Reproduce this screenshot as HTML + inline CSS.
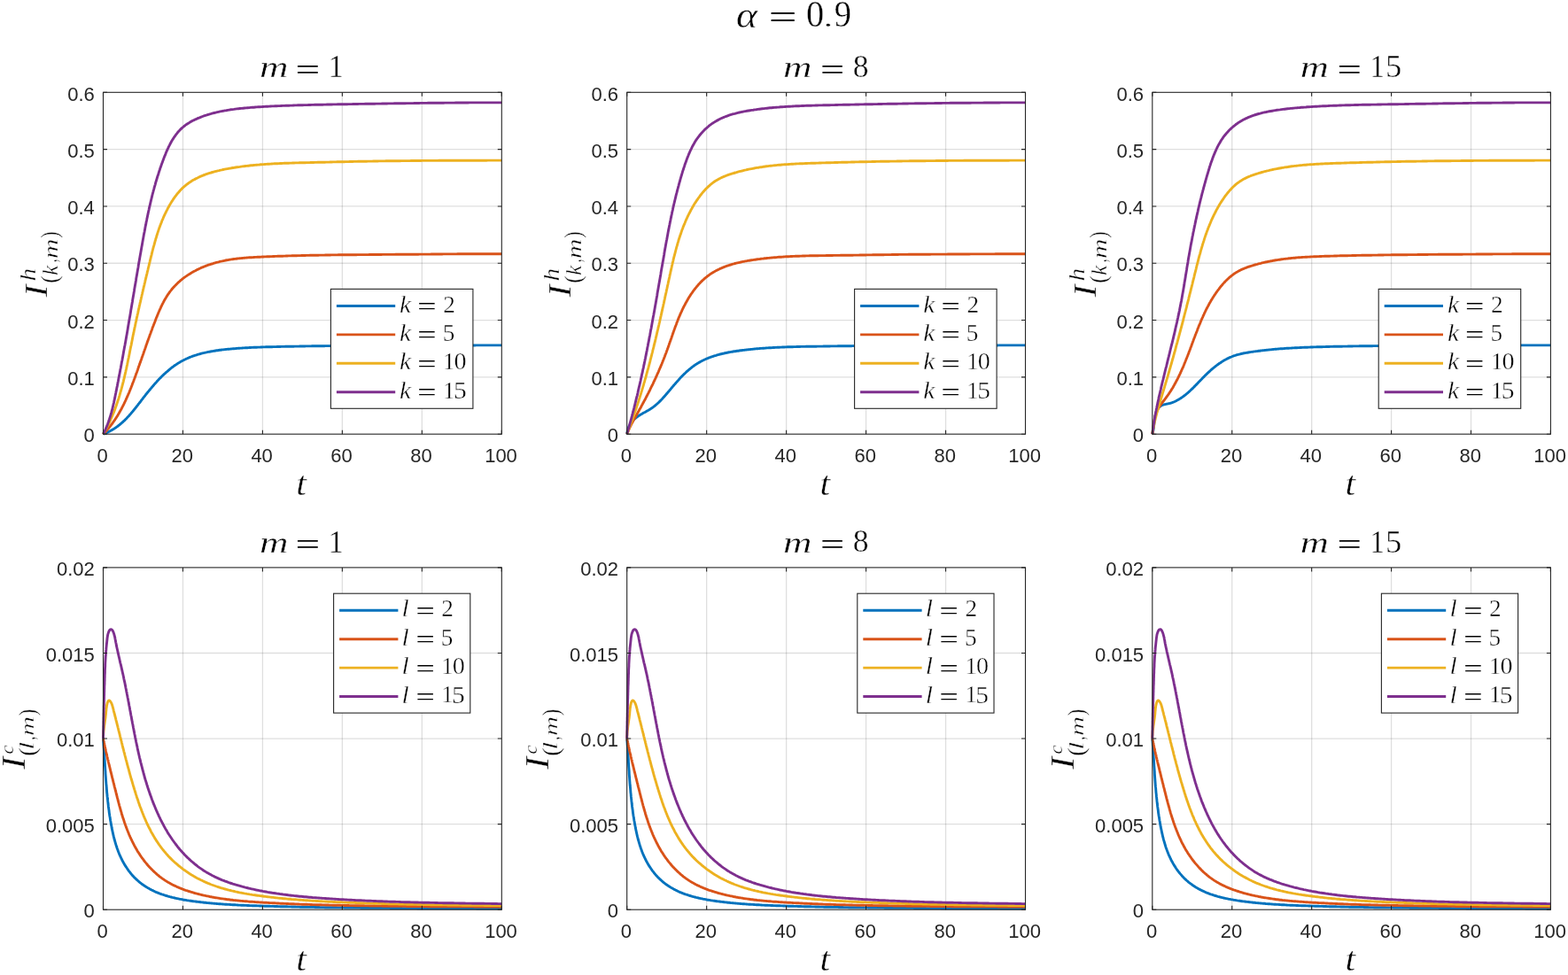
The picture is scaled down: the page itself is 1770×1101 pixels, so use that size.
<!DOCTYPE html>
<html><head><meta charset="utf-8"><title>alpha = 0.9</title><style>html,body{margin:0;padding:0;background:#fff;overflow:hidden}svg{display:block}</style></head><body>
<svg width="1770" height="1101" viewBox="0 0 1770 1101">
<rect width="1770" height="1101" fill="#fff"/>
<path d="M206.46 104.30V490.20M296.42 104.30V490.20M386.38 104.30V490.20M476.34 104.30V490.20" stroke="#262626" stroke-opacity="0.15" stroke-width="1.3" fill="none"/>
<path d="M116.50 425.88H566.30M116.50 361.57H566.30M116.50 297.25H566.30M116.50 232.93H566.30M116.50 168.62H566.30" stroke="#262626" stroke-opacity="0.15" stroke-width="1.3" fill="none"/>
<path d="M116.5 490.2 L116.9 490.0 L117.3 489.9 L117.7 489.7 L118.1 489.6 L118.5 489.4 L118.9 489.3 L119.3 489.1 L119.7 488.9 L120.1 488.8 L120.5 488.6 L120.9 488.4 L121.3 488.2 L121.7 488.1 L122.1 487.9 L122.4 487.7 L122.8 487.5 L123.2 487.3 L123.6 487.1 L123.9 486.9 L124.3 486.7 L124.7 486.5 L125.0 486.3 L125.4 486.1 L125.8 485.9 L126.1 485.7 L126.5 485.5 L126.8 485.3 L127.2 485.1 L127.6 484.9 L127.9 484.7 L128.3 484.5 L128.6 484.2 L128.9 484.0 L129.3 483.8 L129.6 483.6 L130.0 483.3 L130.3 483.1 L130.6 482.9 L131.0 482.7 L131.3 482.4 L131.6 482.2 L132.0 481.9 L132.3 481.7 L132.6 481.5 L133.0 481.2 L133.3 481.0 L133.6 480.7 L133.9 480.5 L134.2 480.2 L134.6 480.0 L134.9 479.7 L135.2 479.5 L135.5 479.2 L135.8 479.0 L136.1 478.7 L136.4 478.4 L136.7 478.2 L137.0 477.9 L137.3 477.7 L138.2 476.9 L139.0 476.1 L139.8 475.4 L140.7 474.6 L141.5 473.8 L142.3 473.0 L143.1 472.2 L143.8 471.3 L144.6 470.5 L145.4 469.7 L146.2 468.8 L146.9 468.0 L147.7 467.1 L148.4 466.2 L149.1 465.4 L149.9 464.5 L150.6 463.6 L151.3 462.7 L152.1 461.8 L152.8 460.9 L153.5 460.0 L154.2 459.1 L154.9 458.2 L155.6 457.3 L156.3 456.3 L157.1 455.4 L157.8 454.5 L158.5 453.6 L159.2 452.6 L159.9 451.7 L160.6 450.8 L161.3 449.9 L162.0 448.9 L162.8 448.0 L163.5 447.1 L164.2 446.2 L164.9 445.2 L165.7 444.3 L166.4 443.4 L167.1 442.5 L167.9 441.6 L168.6 440.7 L169.4 439.8 L170.1 438.9 L170.9 438.0 L171.6 437.1 L172.4 436.2 L173.2 435.3 L173.9 434.4 L174.7 433.5 L175.5 432.6 L176.3 431.8 L177.1 430.9 L177.8 430.0 L178.6 429.2 L179.4 428.4 L180.2 427.5 L181.1 426.7 L181.9 425.9 L182.7 425.0 L183.5 424.2 L184.4 423.4 L185.2 422.6 L186.0 421.9 L186.9 421.1 L187.7 420.3 L188.6 419.6 L189.5 418.8 L190.3 418.1 L191.2 417.3 L192.1 416.6 L193.0 415.9 L193.9 415.2 L194.8 414.5 L195.7 413.9 L196.6 413.2 L197.5 412.5 L198.5 411.9 L199.4 411.3 L200.4 410.6 L201.3 410.0 L202.3 409.5 L203.2 408.9 L204.2 408.3 L205.2 407.8 L206.2 407.2 L207.2 406.7 L208.2 406.2 L209.2 405.7 L210.2 405.2 L211.2 404.8 L212.3 404.3 L213.3 403.9 L214.4 403.4 L215.4 403.0 L216.5 402.6 L217.5 402.2 L218.6 401.8 L219.7 401.5 L220.8 401.1 L221.9 400.8 L222.9 400.4 L224.0 400.1 L225.1 399.8 L226.3 399.5 L227.4 399.2 L228.5 398.9 L229.6 398.6 L230.7 398.4 L231.9 398.1 L233.0 397.9 L234.1 397.6 L235.3 397.4 L236.4 397.2 L237.6 397.0 L238.7 396.8 L239.8 396.6 L241.0 396.4 L242.2 396.2 L243.3 396.0 L244.5 395.8 L245.6 395.7 L246.8 395.5 L248.0 395.3 L249.1 395.2 L250.3 395.0 L251.5 394.9 L252.6 394.8 L253.8 394.6 L255.0 394.5 L256.1 394.4 L257.3 394.3 L258.5 394.2 L259.6 394.1 L260.8 394.0 L262.0 393.9 L263.1 393.8 L264.3 393.7 L265.5 393.6 L266.6 393.5 L267.8 393.4 L269.0 393.3 L270.1 393.2 L271.3 393.1 L272.5 393.1 L273.6 393.0 L274.8 392.9 L275.9 392.9 L277.1 392.8 L278.3 392.7 L279.4 392.7 L280.6 392.6 L281.7 392.5 L282.9 392.5 L284.1 392.4 L285.2 392.4 L286.4 392.3 L287.5 392.3 L288.7 392.2 L289.8 392.2 L291.0 392.1 L292.2 392.1 L293.3 392.1 L294.5 392.0 L295.6 392.0 L296.8 391.9 L297.9 391.9 L299.1 391.9 L300.2 391.8 L301.4 391.8 L302.6 391.8 L303.7 391.7 L304.9 391.7 L306.0 391.7 L307.2 391.7 L308.3 391.6 L309.5 391.6 L310.6 391.6 L311.8 391.6 L312.9 391.5 L314.1 391.5 L315.3 391.5 L316.4 391.5 L317.6 391.4 L318.7 391.4 L319.9 391.4 L321.0 391.4 L322.2 391.3 L323.3 391.3 L324.5 391.3 L325.7 391.3 L326.8 391.2 L328.0 391.2 L329.1 391.2 L330.3 391.2 L331.4 391.2 L332.6 391.1 L333.7 391.1 L334.9 391.1 L336.1 391.1 L337.2 391.1 L338.4 391.0 L339.5 391.0 L340.7 391.0 L341.8 391.0 L343.0 391.0 L344.1 391.0 L345.3 390.9 L346.5 390.9 L347.6 390.9 L348.8 390.9 L349.9 390.9 L351.1 390.9 L352.2 390.8 L353.4 390.8 L354.5 390.8 L355.7 390.8 L356.9 390.8 L358.0 390.8 L359.2 390.7 L360.3 390.7 L361.5 390.7 L362.6 390.7 L363.8 390.7 L365.0 390.7 L366.1 390.7 L367.3 390.6 L368.4 390.6 L369.6 390.6 L370.7 390.6 L371.9 390.6 L373.0 390.6 L374.2 390.6 L375.4 390.6 L376.5 390.5 L377.7 390.5 L378.8 390.5 L380.0 390.5 L381.1 390.5 L382.3 390.5 L383.5 390.5 L384.6 390.5 L385.8 390.5 L386.9 390.4 L388.1 390.4 L389.2 390.4 L390.4 390.4 L391.6 390.4 L392.7 390.4 L393.9 390.4 L395.0 390.4 L396.2 390.4 L397.3 390.4 L398.5 390.4 L399.7 390.3 L400.8 390.3 L402.0 390.3 L403.1 390.3 L404.3 390.3 L405.4 390.3 L406.6 390.3 L407.8 390.3 L408.9 390.3 L410.1 390.3 L411.2 390.3 L412.4 390.3 L413.5 390.3 L414.7 390.3 L415.9 390.2 L417.0 390.2 L418.2 390.2 L419.3 390.2 L420.5 390.2 L421.6 390.2 L422.8 390.2 L424.0 390.2 L425.1 390.2 L426.3 390.2 L427.4 390.2 L428.6 390.2 L429.7 390.2 L430.9 390.2 L432.1 390.2 L433.2 390.2 L434.4 390.2 L435.5 390.2 L436.7 390.2 L437.9 390.1 L439.0 390.1 L440.2 390.1 L441.3 390.1 L442.5 390.1 L443.6 390.1 L444.8 390.1 L446.0 390.1 L447.1 390.1 L448.3 390.1 L449.4 390.1 L450.6 390.1 L451.7 390.1 L452.9 390.1 L454.1 390.1 L455.2 390.1 L456.4 390.1 L457.5 390.1 L458.7 390.1 L459.8 390.1 L461.0 390.1 L462.2 390.1 L463.3 390.1 L464.5 390.1 L465.6 390.1 L466.8 390.1 L468.0 390.1 L469.1 390.1 L470.3 390.1 L471.4 390.1 L472.6 390.1 L473.7 390.1 L474.9 390.1 L476.1 390.1 L477.2 390.0 L478.4 390.0 L479.5 390.0 L480.7 390.0 L481.8 390.0 L483.0 390.0 L484.2 390.0 L485.3 390.0 L486.5 390.0 L487.6 390.0 L488.8 390.0 L489.9 390.0 L491.1 390.0 L492.3 390.0 L493.4 390.0 L494.6 390.0 L495.7 390.0 L496.9 390.0 L498.0 390.0 L499.2 390.0 L500.4 390.0 L501.5 390.0 L502.7 390.0 L503.8 390.0 L505.0 390.0 L506.1 390.0 L507.3 390.0 L508.5 390.0 L509.6 390.0 L510.8 390.0 L511.9 390.0 L513.1 390.0 L514.2 390.0 L515.4 390.0 L516.6 390.0 L517.7 390.0 L518.9 390.0 L520.0 390.0 L521.2 390.0 L522.3 390.0 L523.5 390.0 L524.7 390.0 L525.8 390.0 L527.0 390.0 L528.1 390.0 L529.3 390.0 L530.4 390.0 L531.6 390.0 L532.8 390.0 L533.9 390.0 L535.1 390.0 L536.2 390.0 L537.4 389.9 L538.5 389.9 L539.7 389.9 L540.9 389.9 L542.0 389.9 L543.2 389.9 L544.3 389.9 L545.5 389.9 L546.6 389.9 L547.8 389.9 L549.0 389.9 L550.1 389.9 L551.3 389.9 L552.4 389.9 L553.6 389.9 L554.7 389.9 L555.9 389.9 L557.0 389.9 L558.2 389.9 L559.4 389.9 L560.5 389.9 L561.7 389.9 L562.8 389.9 L564.0 389.9 L565.1 389.9 L566.3 389.9" stroke="#0072BD" stroke-width="2.9" fill="none" stroke-linejoin="round"/>
<path d="M116.5 490.2 L116.8 489.9 L117.2 489.5 L117.5 489.2 L117.9 488.8 L118.2 488.5 L118.5 488.1 L118.8 487.8 L119.2 487.4 L119.5 487.1 L119.8 486.7 L120.1 486.3 L120.5 486.0 L120.8 485.6 L121.1 485.3 L121.4 484.9 L121.7 484.5 L122.0 484.2 L122.3 483.8 L122.7 483.4 L123.0 483.1 L123.3 482.7 L123.6 482.3 L123.9 482.0 L124.2 481.6 L124.5 481.2 L124.8 480.8 L125.1 480.5 L125.3 480.1 L125.6 479.7 L125.9 479.3 L126.2 478.9 L126.5 478.6 L126.8 478.2 L127.1 477.8 L127.3 477.4 L127.6 477.0 L127.9 476.6 L128.2 476.2 L128.4 475.8 L128.7 475.5 L129.0 475.1 L129.2 474.7 L129.5 474.3 L129.8 473.9 L130.0 473.5 L130.3 473.1 L130.6 472.7 L130.8 472.3 L131.1 471.9 L131.3 471.5 L131.6 471.1 L131.9 470.7 L132.1 470.3 L132.4 469.9 L132.6 469.5 L132.9 469.1 L133.1 468.7 L133.3 468.3 L133.6 467.8 L134.3 466.7 L134.9 465.5 L135.6 464.4 L136.2 463.2 L136.9 462.0 L137.5 460.8 L138.1 459.6 L138.7 458.5 L139.3 457.3 L139.9 456.1 L140.5 454.8 L141.1 453.6 L141.7 452.4 L142.2 451.2 L142.8 450.0 L143.3 448.7 L143.9 447.5 L144.4 446.3 L144.9 445.0 L145.5 443.8 L146.0 442.6 L146.5 441.3 L147.0 440.1 L147.5 438.8 L148.0 437.6 L148.5 436.3 L149.0 435.0 L149.4 433.8 L149.9 432.5 L150.4 431.3 L150.9 430.0 L151.3 428.7 L151.8 427.5 L152.3 426.2 L152.7 425.0 L153.2 423.7 L153.6 422.4 L154.1 421.2 L154.6 419.9 L155.0 418.7 L155.5 417.4 L155.9 416.1 L156.3 414.9 L156.8 413.6 L157.2 412.4 L157.7 411.1 L158.1 409.8 L158.6 408.6 L159.0 407.3 L159.5 406.0 L159.9 404.8 L160.3 403.5 L160.8 402.3 L161.2 401.0 L161.7 399.7 L162.1 398.5 L162.5 397.2 L163.0 395.9 L163.4 394.7 L163.9 393.4 L164.3 392.2 L164.7 390.9 L165.2 389.6 L165.6 388.4 L166.1 387.1 L166.5 385.8 L167.0 384.6 L167.4 383.3 L167.9 382.0 L168.3 380.8 L168.8 379.5 L169.2 378.2 L169.7 377.0 L170.2 375.7 L170.6 374.4 L171.1 373.2 L171.6 371.9 L172.0 370.6 L172.5 369.3 L173.0 368.1 L173.5 366.8 L174.0 365.5 L174.5 364.2 L175.0 363.0 L175.4 361.7 L175.9 360.4 L176.4 359.1 L177.0 357.9 L177.5 356.6 L178.0 355.3 L178.5 354.1 L179.0 352.8 L179.6 351.5 L180.1 350.3 L180.7 349.0 L181.3 347.8 L181.8 346.5 L182.4 345.3 L183.0 344.1 L183.6 342.9 L184.3 341.6 L184.9 340.4 L185.5 339.3 L186.2 338.1 L186.9 336.9 L187.6 335.8 L188.3 334.6 L189.0 333.5 L189.7 332.4 L190.5 331.3 L191.3 330.2 L192.0 329.1 L192.9 328.1 L193.7 327.0 L194.5 326.0 L195.4 325.0 L196.3 324.0 L197.2 323.1 L198.1 322.1 L199.0 321.2 L200.0 320.2 L200.9 319.3 L201.9 318.4 L202.9 317.6 L203.9 316.7 L204.9 315.9 L205.9 315.0 L207.0 314.2 L208.0 313.4 L209.1 312.6 L210.2 311.9 L211.3 311.1 L212.4 310.4 L213.5 309.7 L214.7 309.0 L215.8 308.3 L216.9 307.6 L218.1 306.9 L219.3 306.3 L220.5 305.7 L221.7 305.0 L222.9 304.4 L224.1 303.9 L225.3 303.3 L226.5 302.7 L227.7 302.2 L229.0 301.7 L230.2 301.1 L231.5 300.7 L232.7 300.2 L234.0 299.7 L235.2 299.2 L236.5 298.8 L237.8 298.4 L239.1 298.0 L240.4 297.6 L241.6 297.2 L242.9 296.8 L244.2 296.4 L245.5 296.1 L246.8 295.8 L248.1 295.4 L249.4 295.1 L250.7 294.9 L252.1 294.6 L253.4 294.3 L254.7 294.0 L256.0 293.8 L257.3 293.6 L258.6 293.3 L260.0 293.1 L261.3 292.9 L262.6 292.7 L263.9 292.5 L265.3 292.4 L266.6 292.2 L267.9 292.0 L269.3 291.9 L270.6 291.7 L271.9 291.6 L273.3 291.5 L274.6 291.4 L275.9 291.2 L277.3 291.1 L278.6 291.0 L280.0 290.9 L281.3 290.8 L282.6 290.7 L284.0 290.7 L285.3 290.6 L286.7 290.5 L288.0 290.4 L289.4 290.4 L290.7 290.3 L292.0 290.2 L293.4 290.2 L294.7 290.1 L296.1 290.0 L297.4 290.0 L298.8 289.9 L300.1 289.9 L301.5 289.8 L302.8 289.7 L304.2 289.7 L305.5 289.6 L306.9 289.6 L308.2 289.5 L309.5 289.5 L310.9 289.4 L312.2 289.4 L313.6 289.3 L314.9 289.3 L316.3 289.2 L317.6 289.2 L319.0 289.2 L320.3 289.1 L321.6 289.1 L323.0 289.0 L324.3 289.0 L325.7 288.9 L327.0 288.9 L328.4 288.9 L329.7 288.8 L331.1 288.8 L332.4 288.8 L333.7 288.7 L335.1 288.7 L336.4 288.6 L337.8 288.6 L339.1 288.6 L340.5 288.5 L341.8 288.5 L343.2 288.5 L344.5 288.5 L345.8 288.4 L347.2 288.4 L348.5 288.4 L349.9 288.3 L351.2 288.3 L352.6 288.3 L353.9 288.3 L355.3 288.2 L356.6 288.2 L357.9 288.2 L359.3 288.2 L360.6 288.1 L362.0 288.1 L363.3 288.1 L364.7 288.1 L366.0 288.1 L367.4 288.0 L368.7 288.0 L370.0 288.0 L371.4 288.0 L372.7 288.0 L374.1 287.9 L375.4 287.9 L376.8 287.9 L378.1 287.9 L379.4 287.9 L380.8 287.9 L382.1 287.8 L383.5 287.8 L384.8 287.8 L386.2 287.8 L387.5 287.8 L388.8 287.8 L390.2 287.8 L391.5 287.7 L392.9 287.7 L394.2 287.7 L395.6 287.7 L396.9 287.7 L398.3 287.7 L399.6 287.7 L400.9 287.7 L402.3 287.7 L403.6 287.6 L405.0 287.6 L406.3 287.6 L407.7 287.6 L409.0 287.6 L410.3 287.6 L411.7 287.6 L413.0 287.6 L414.4 287.6 L415.7 287.6 L417.1 287.5 L418.4 287.5 L419.8 287.5 L421.1 287.5 L422.4 287.5 L423.8 287.5 L425.1 287.5 L426.5 287.5 L427.8 287.5 L429.2 287.5 L430.5 287.5 L431.8 287.4 L433.2 287.4 L434.5 287.4 L435.9 287.4 L437.2 287.4 L438.6 287.4 L439.9 287.4 L441.3 287.4 L442.6 287.4 L443.9 287.4 L445.3 287.4 L446.6 287.3 L448.0 287.3 L449.3 287.3 L450.7 287.3 L452.0 287.3 L453.4 287.3 L454.7 287.3 L456.0 287.3 L457.4 287.3 L458.7 287.3 L460.1 287.2 L461.4 287.2 L462.8 287.2 L464.1 287.2 L465.5 287.2 L466.8 287.2 L468.1 287.2 L469.5 287.2 L470.8 287.2 L472.2 287.2 L473.5 287.1 L474.9 287.1 L476.2 287.1 L477.6 287.1 L478.9 287.1 L480.3 287.1 L481.6 287.1 L482.9 287.1 L484.3 287.1 L485.6 287.1 L487.0 287.0 L488.3 287.0 L489.7 287.0 L491.0 287.0 L492.4 287.0 L493.7 287.0 L495.0 287.0 L496.4 287.0 L497.7 287.0 L499.1 287.0 L500.4 286.9 L501.8 286.9 L503.1 286.9 L504.5 286.9 L505.8 286.9 L507.2 286.9 L508.5 286.9 L509.8 286.9 L511.2 286.9 L512.5 286.9 L513.9 286.9 L515.2 286.9 L516.6 286.8 L517.9 286.8 L519.3 286.8 L520.6 286.8 L521.9 286.8 L523.3 286.8 L524.6 286.8 L526.0 286.8 L527.3 286.8 L528.7 286.8 L530.0 286.8 L531.4 286.8 L532.7 286.8 L534.0 286.8 L535.4 286.8 L536.7 286.8 L538.1 286.7 L539.4 286.7 L540.8 286.7 L542.1 286.7 L543.5 286.7 L544.8 286.7 L546.1 286.7 L547.5 286.7 L548.8 286.7 L550.2 286.7 L551.5 286.7 L552.9 286.7 L554.2 286.7 L555.5 286.7 L556.9 286.7 L558.2 286.7 L559.6 286.7 L560.9 286.7 L562.3 286.7 L563.6 286.7 L565.0 286.7 L566.3 286.7" stroke="#D95319" stroke-width="2.9" fill="none" stroke-linejoin="round"/>
<path d="M116.5 490.2 L116.8 489.7 L117.1 489.2 L117.3 488.7 L117.6 488.3 L117.9 487.8 L118.2 487.3 L118.4 486.8 L118.7 486.3 L119.0 485.8 L119.3 485.3 L119.5 484.8 L119.8 484.4 L120.0 483.9 L120.3 483.4 L120.6 482.9 L120.8 482.4 L121.1 481.9 L121.3 481.4 L121.6 480.9 L121.8 480.4 L122.1 479.9 L122.3 479.4 L122.6 478.9 L122.8 478.4 L123.0 477.9 L123.3 477.4 L123.5 476.9 L123.8 476.4 L124.0 475.9 L124.2 475.4 L124.5 474.9 L124.7 474.4 L124.9 473.9 L125.1 473.3 L125.4 472.8 L125.6 472.3 L125.8 471.8 L126.0 471.3 L126.3 470.8 L126.5 470.3 L126.7 469.8 L126.9 469.3 L127.1 468.7 L127.3 468.2 L127.5 467.7 L127.7 467.2 L128.0 466.7 L128.2 466.2 L128.4 465.6 L128.6 465.1 L128.8 464.6 L129.0 464.1 L129.2 463.6 L129.4 463.1 L129.6 462.5 L129.8 462.0 L130.0 461.5 L130.2 461.0 L130.3 460.4 L130.9 459.0 L131.4 457.5 L131.9 456.0 L132.4 454.5 L132.9 453.0 L133.4 451.6 L133.9 450.1 L134.3 448.6 L134.8 447.1 L135.2 445.6 L135.7 444.0 L136.1 442.5 L136.6 441.0 L137.0 439.5 L137.4 438.0 L137.8 436.5 L138.2 434.9 L138.6 433.4 L139.0 431.9 L139.4 430.3 L139.7 428.8 L140.1 427.3 L140.5 425.7 L140.8 424.2 L141.2 422.7 L141.5 421.1 L141.9 419.6 L142.2 418.0 L142.6 416.5 L142.9 414.9 L143.2 413.4 L143.6 411.8 L143.9 410.3 L144.2 408.7 L144.5 407.2 L144.8 405.6 L145.2 404.1 L145.5 402.5 L145.8 401.0 L146.1 399.4 L146.4 397.9 L146.7 396.3 L147.0 394.8 L147.3 393.2 L147.6 391.7 L148.0 390.1 L148.3 388.6 L148.6 387.0 L148.9 385.5 L149.2 383.9 L149.5 382.4 L149.8 380.8 L150.1 379.3 L150.4 377.8 L150.8 376.2 L151.1 374.7 L151.4 373.1 L151.7 371.6 L152.0 370.1 L152.4 368.5 L152.7 367.0 L153.0 365.5 L153.3 364.0 L153.7 362.4 L154.0 360.9 L154.3 359.4 L154.6 357.9 L155.0 356.3 L155.3 354.8 L155.7 353.3 L156.0 351.8 L156.3 350.2 L156.7 348.7 L157.0 347.2 L157.3 345.7 L157.7 344.1 L158.0 342.6 L158.4 341.1 L158.7 339.6 L159.1 338.1 L159.4 336.5 L159.8 335.0 L160.1 333.5 L160.5 332.0 L160.8 330.5 L161.2 328.9 L161.5 327.4 L161.9 325.9 L162.2 324.4 L162.6 322.9 L163.0 321.3 L163.3 319.8 L163.7 318.3 L164.0 316.8 L164.4 315.2 L164.8 313.7 L165.1 312.2 L165.5 310.7 L165.9 309.1 L166.2 307.6 L166.6 306.1 L167.0 304.5 L167.3 303.0 L167.7 301.5 L168.1 299.9 L168.4 298.4 L168.8 296.9 L169.2 295.3 L169.5 293.8 L169.9 292.3 L170.3 290.7 L170.7 289.2 L171.1 287.6 L171.4 286.1 L171.8 284.6 L172.2 283.0 L172.6 281.5 L173.0 279.9 L173.4 278.4 L173.9 276.9 L174.3 275.3 L174.7 273.8 L175.1 272.3 L175.6 270.7 L176.0 269.2 L176.5 267.7 L176.9 266.2 L177.4 264.7 L177.9 263.1 L178.4 261.6 L178.9 260.1 L179.4 258.6 L179.9 257.1 L180.5 255.6 L181.0 254.2 L181.6 252.7 L182.2 251.2 L182.7 249.7 L183.3 248.3 L184.0 246.8 L184.6 245.3 L185.2 243.9 L185.9 242.5 L186.6 241.0 L187.3 239.6 L188.0 238.2 L188.7 236.8 L189.4 235.3 L190.2 234.0 L190.9 232.6 L191.7 231.2 L192.6 229.8 L193.4 228.4 L194.2 227.1 L195.1 225.8 L196.0 224.4 L196.9 223.1 L197.8 221.9 L198.8 220.6 L199.7 219.4 L200.7 218.1 L201.8 217.0 L202.8 215.8 L203.8 214.6 L204.9 213.5 L206.0 212.4 L207.1 211.4 L208.3 210.4 L209.5 209.4 L210.7 208.4 L211.9 207.5 L213.1 206.6 L214.4 205.8 L215.6 204.9 L216.9 204.1 L218.2 203.3 L219.6 202.6 L220.9 201.9 L222.3 201.2 L223.7 200.5 L225.0 199.8 L226.5 199.2 L227.9 198.6 L229.3 198.0 L230.8 197.5 L232.2 196.9 L233.7 196.4 L235.2 195.9 L236.7 195.4 L238.2 195.0 L239.7 194.5 L241.2 194.1 L242.7 193.7 L244.2 193.3 L245.8 192.9 L247.3 192.6 L248.9 192.2 L250.4 191.9 L252.0 191.5 L253.5 191.2 L255.1 190.9 L256.7 190.6 L258.2 190.3 L259.8 190.1 L261.4 189.8 L262.9 189.5 L264.5 189.3 L266.1 189.0 L267.6 188.8 L269.2 188.6 L270.8 188.4 L272.3 188.1 L273.9 187.9 L275.5 187.7 L277.0 187.5 L278.6 187.4 L280.2 187.2 L281.8 187.0 L283.3 186.8 L284.9 186.7 L286.5 186.5 L288.0 186.4 L289.6 186.2 L291.2 186.1 L292.7 186.0 L294.3 185.8 L295.9 185.7 L297.4 185.6 L299.0 185.5 L300.6 185.4 L302.1 185.3 L303.7 185.2 L305.3 185.1 L306.8 185.0 L308.4 184.9 L310.0 184.8 L311.6 184.7 L313.1 184.7 L314.7 184.6 L316.3 184.5 L317.8 184.5 L319.4 184.4 L321.0 184.3 L322.5 184.3 L324.1 184.2 L325.7 184.2 L327.3 184.1 L328.8 184.1 L330.4 184.0 L332.0 184.0 L333.5 183.9 L335.1 183.9 L336.7 183.9 L338.2 183.8 L339.8 183.8 L341.4 183.7 L343.0 183.7 L344.5 183.7 L346.1 183.6 L347.7 183.6 L349.2 183.6 L350.8 183.5 L352.4 183.5 L354.0 183.5 L355.5 183.4 L357.1 183.4 L358.7 183.3 L360.2 183.3 L361.8 183.3 L363.4 183.2 L365.0 183.2 L366.5 183.2 L368.1 183.1 L369.7 183.1 L371.2 183.1 L372.8 183.0 L374.4 183.0 L376.0 182.9 L377.5 182.9 L379.1 182.9 L380.7 182.8 L382.3 182.8 L383.8 182.8 L385.4 182.7 L387.0 182.7 L388.6 182.7 L390.1 182.6 L391.7 182.6 L393.3 182.6 L394.8 182.5 L396.4 182.5 L398.0 182.5 L399.6 182.4 L401.1 182.4 L402.7 182.4 L404.3 182.3 L405.9 182.3 L407.4 182.3 L409.0 182.3 L410.6 182.2 L412.2 182.2 L413.7 182.2 L415.3 182.1 L416.9 182.1 L418.5 182.1 L420.0 182.1 L421.6 182.0 L423.2 182.0 L424.7 182.0 L426.3 182.0 L427.9 181.9 L429.5 181.9 L431.0 181.9 L432.6 181.9 L434.2 181.9 L435.8 181.8 L437.3 181.8 L438.9 181.8 L440.5 181.8 L442.0 181.8 L443.6 181.7 L445.2 181.7 L446.8 181.7 L448.3 181.7 L449.9 181.7 L451.5 181.7 L453.1 181.6 L454.6 181.6 L456.2 181.6 L457.8 181.6 L459.3 181.6 L460.9 181.6 L462.5 181.6 L464.1 181.5 L465.6 181.5 L467.2 181.5 L468.8 181.5 L470.4 181.5 L471.9 181.5 L473.5 181.5 L475.1 181.5 L476.6 181.4 L478.2 181.4 L479.8 181.4 L481.4 181.4 L482.9 181.4 L484.5 181.4 L486.1 181.4 L487.7 181.4 L489.2 181.4 L490.8 181.4 L492.4 181.4 L493.9 181.4 L495.5 181.3 L497.1 181.3 L498.7 181.3 L500.2 181.3 L501.8 181.3 L503.4 181.3 L505.0 181.3 L506.5 181.3 L508.1 181.3 L509.7 181.3 L511.2 181.3 L512.8 181.3 L514.4 181.3 L516.0 181.3 L517.5 181.3 L519.1 181.3 L520.7 181.2 L522.3 181.2 L523.8 181.2 L525.4 181.2 L527.0 181.2 L528.5 181.2 L530.1 181.2 L531.7 181.2 L533.3 181.2 L534.8 181.2 L536.4 181.2 L538.0 181.2 L539.6 181.2 L541.1 181.2 L542.7 181.2 L544.3 181.2 L545.8 181.2 L547.4 181.2 L549.0 181.2 L550.6 181.1 L552.1 181.1 L553.7 181.1 L555.3 181.1 L556.9 181.1 L558.4 181.1 L560.0 181.1 L561.6 181.1 L563.2 181.1 L564.7 181.1 L566.3 181.1" stroke="#EDB120" stroke-width="2.9" fill="none" stroke-linejoin="round"/>
<path d="M116.5 490.2 L116.8 489.6 L117.1 489.1 L117.3 488.5 L117.6 488.0 L117.9 487.4 L118.1 486.9 L118.4 486.3 L118.7 485.8 L118.9 485.2 L119.2 484.6 L119.4 484.1 L119.7 483.5 L119.9 482.9 L120.1 482.4 L120.4 481.8 L120.6 481.2 L120.8 480.7 L121.1 480.1 L121.3 479.5 L121.5 479.0 L121.7 478.4 L121.9 477.8 L122.1 477.2 L122.3 476.7 L122.5 476.1 L122.8 475.5 L123.0 474.9 L123.1 474.3 L123.3 473.8 L123.5 473.2 L123.7 472.6 L123.9 472.0 L124.1 471.4 L124.3 470.8 L124.5 470.2 L124.6 469.7 L124.8 469.1 L125.0 468.5 L125.2 467.9 L125.3 467.3 L125.5 466.7 L125.7 466.1 L125.8 465.5 L126.0 464.9 L126.1 464.3 L126.3 463.8 L126.4 463.2 L126.6 462.6 L126.8 462.0 L126.9 461.4 L127.1 460.8 L127.2 460.2 L127.3 459.6 L127.5 459.0 L127.6 458.4 L127.8 457.8 L127.9 457.2 L128.0 456.6 L128.2 456.0 L128.6 454.3 L128.9 452.6 L129.3 450.9 L129.7 449.2 L130.0 447.5 L130.3 445.8 L130.7 444.1 L131.0 442.4 L131.4 440.7 L131.7 439.0 L132.0 437.3 L132.4 435.6 L132.7 433.9 L133.0 432.2 L133.4 430.5 L133.7 428.8 L134.0 427.1 L134.3 425.4 L134.7 423.7 L135.0 422.0 L135.3 420.4 L135.6 418.7 L135.9 417.0 L136.3 415.3 L136.6 413.6 L136.9 411.9 L137.2 410.2 L137.5 408.5 L137.9 406.8 L138.2 405.1 L138.5 403.4 L138.8 401.7 L139.1 400.0 L139.4 398.3 L139.7 396.6 L140.0 394.9 L140.3 393.2 L140.6 391.5 L141.0 389.8 L141.3 388.1 L141.6 386.4 L141.9 384.7 L142.2 383.0 L142.5 381.3 L142.8 379.6 L143.1 377.9 L143.4 376.2 L143.7 374.5 L144.0 372.8 L144.3 371.1 L144.5 369.4 L144.8 367.7 L145.1 366.0 L145.4 364.2 L145.7 362.5 L146.0 360.8 L146.3 359.1 L146.6 357.4 L146.9 355.7 L147.2 354.0 L147.5 352.3 L147.7 350.6 L148.0 348.9 L148.3 347.2 L148.6 345.5 L148.9 343.8 L149.2 342.1 L149.5 340.4 L149.7 338.7 L150.0 337.0 L150.3 335.3 L150.6 333.6 L150.9 331.9 L151.2 330.1 L151.5 328.4 L151.7 326.7 L152.0 325.0 L152.3 323.3 L152.6 321.6 L152.9 319.9 L153.2 318.2 L153.5 316.5 L153.7 314.8 L154.0 313.1 L154.3 311.4 L154.6 309.7 L154.9 308.0 L155.2 306.3 L155.5 304.6 L155.8 302.9 L156.1 301.2 L156.3 299.5 L156.6 297.8 L156.9 296.1 L157.2 294.4 L157.5 292.7 L157.8 291.0 L158.1 289.3 L158.4 287.6 L158.7 285.9 L159.0 284.2 L159.3 282.5 L159.6 280.8 L159.9 279.1 L160.2 277.4 L160.5 275.7 L160.8 274.0 L161.1 272.3 L161.4 270.6 L161.7 268.9 L162.0 267.2 L162.3 265.5 L162.6 263.8 L163.0 262.1 L163.3 260.4 L163.6 258.7 L163.9 257.0 L164.2 255.4 L164.6 253.7 L164.9 252.0 L165.2 250.3 L165.6 248.6 L165.9 246.9 L166.3 245.2 L166.6 243.5 L167.0 241.9 L167.3 240.2 L167.7 238.5 L168.1 236.8 L168.4 235.1 L168.8 233.4 L169.2 231.8 L169.6 230.1 L170.0 228.4 L170.4 226.7 L170.8 225.0 L171.2 223.4 L171.6 221.7 L172.0 220.0 L172.4 218.4 L172.9 216.7 L173.3 215.0 L173.8 213.3 L174.2 211.7 L174.7 210.0 L175.2 208.3 L175.6 206.7 L176.1 205.0 L176.6 203.3 L177.1 201.7 L177.6 200.0 L178.1 198.4 L178.7 196.7 L179.2 195.1 L179.7 193.4 L180.3 191.7 L180.8 190.1 L181.4 188.4 L182.0 186.8 L182.6 185.1 L183.2 183.5 L183.8 181.8 L184.4 180.2 L185.0 178.6 L185.6 176.9 L186.3 175.3 L187.0 173.6 L187.6 172.0 L188.3 170.4 L189.0 168.8 L189.8 167.2 L190.5 165.6 L191.3 164.1 L192.1 162.5 L192.9 161.0 L193.7 159.5 L194.6 158.0 L195.5 156.6 L196.4 155.2 L197.4 153.8 L198.4 152.4 L199.4 151.1 L200.4 149.8 L201.5 148.5 L202.7 147.3 L203.8 146.1 L205.0 144.9 L206.3 143.8 L207.5 142.7 L208.9 141.7 L210.2 140.7 L211.6 139.8 L213.1 138.9 L214.5 138.0 L216.0 137.1 L217.5 136.3 L219.0 135.6 L220.6 134.8 L222.2 134.1 L223.7 133.4 L225.3 132.8 L227.0 132.1 L228.6 131.5 L230.2 130.9 L231.8 130.4 L233.5 129.9 L235.1 129.3 L236.8 128.8 L238.4 128.4 L240.1 127.9 L241.8 127.5 L243.5 127.1 L245.2 126.7 L246.8 126.3 L248.5 125.9 L250.2 125.6 L251.9 125.3 L253.7 124.9 L255.4 124.7 L257.1 124.4 L258.8 124.1 L260.5 123.8 L262.3 123.6 L264.0 123.4 L265.7 123.1 L267.4 122.9 L269.2 122.7 L270.9 122.5 L272.6 122.4 L274.4 122.2 L276.1 122.0 L277.8 121.9 L279.5 121.7 L281.3 121.6 L283.0 121.4 L284.7 121.3 L286.5 121.2 L288.2 121.0 L289.9 120.9 L291.6 120.8 L293.4 120.7 L295.1 120.6 L296.8 120.5 L298.5 120.4 L300.2 120.3 L302.0 120.2 L303.7 120.1 L305.4 120.0 L307.1 119.9 L308.9 119.9 L310.6 119.8 L312.3 119.7 L314.0 119.6 L315.7 119.6 L317.5 119.5 L319.2 119.4 L320.9 119.4 L322.6 119.3 L324.4 119.2 L326.1 119.2 L327.8 119.1 L329.5 119.1 L331.3 119.0 L333.0 118.9 L334.7 118.9 L336.4 118.8 L338.2 118.8 L339.9 118.7 L341.6 118.7 L343.3 118.6 L345.1 118.6 L346.8 118.6 L348.5 118.5 L350.2 118.5 L352.0 118.4 L353.7 118.4 L355.4 118.3 L357.2 118.3 L358.9 118.3 L360.6 118.2 L362.3 118.2 L364.1 118.2 L365.8 118.1 L367.5 118.1 L369.3 118.0 L371.0 118.0 L372.7 118.0 L374.4 118.0 L376.2 117.9 L377.9 117.9 L379.6 117.9 L381.4 117.8 L383.1 117.8 L384.8 117.8 L386.6 117.7 L388.3 117.7 L390.0 117.7 L391.7 117.7 L393.5 117.6 L395.2 117.6 L396.9 117.6 L398.7 117.5 L400.4 117.5 L402.1 117.5 L403.8 117.5 L405.6 117.4 L407.3 117.4 L409.0 117.4 L410.8 117.4 L412.5 117.3 L414.2 117.3 L416.0 117.3 L417.7 117.3 L419.4 117.2 L421.1 117.2 L422.9 117.2 L424.6 117.1 L426.3 117.1 L428.1 117.1 L429.8 117.1 L431.5 117.0 L433.2 117.0 L435.0 117.0 L436.7 117.0 L438.4 116.9 L440.1 116.9 L441.9 116.9 L443.6 116.9 L445.3 116.8 L447.1 116.8 L448.8 116.8 L450.5 116.8 L452.2 116.7 L454.0 116.7 L455.7 116.7 L457.4 116.7 L459.2 116.6 L460.9 116.6 L462.6 116.6 L464.3 116.6 L466.1 116.6 L467.8 116.5 L469.5 116.5 L471.2 116.5 L473.0 116.5 L474.7 116.4 L476.4 116.4 L478.2 116.4 L479.9 116.4 L481.6 116.4 L483.3 116.3 L485.1 116.3 L486.8 116.3 L488.5 116.3 L490.3 116.3 L492.0 116.2 L493.7 116.2 L495.4 116.2 L497.2 116.2 L498.9 116.2 L500.6 116.2 L502.3 116.1 L504.1 116.1 L505.8 116.1 L507.5 116.1 L509.3 116.1 L511.0 116.1 L512.7 116.1 L514.4 116.0 L516.2 116.0 L517.9 116.0 L519.6 116.0 L521.4 116.0 L523.1 116.0 L524.8 116.0 L526.5 116.0 L528.3 116.0 L530.0 115.9 L531.7 115.9 L533.5 115.9 L535.2 115.9 L536.9 115.9 L538.6 115.9 L540.4 115.9 L542.1 115.9 L543.8 115.9 L545.6 115.9 L547.3 115.9 L549.0 115.9 L550.7 115.9 L552.5 115.9 L554.2 115.9 L555.9 115.9 L557.7 115.9 L559.4 115.9 L561.1 115.9 L562.8 115.9 L564.6 115.9 L566.3 115.9" stroke="#7E2F8E" stroke-width="2.9" fill="none" stroke-linejoin="round"/>
<path d="M116.50 490.20v-4.5M116.50 104.30v4.5M206.46 490.20v-4.5M206.46 104.30v4.5M296.42 490.20v-4.5M296.42 104.30v4.5M386.38 490.20v-4.5M386.38 104.30v4.5M476.34 490.20v-4.5M476.34 104.30v4.5M566.30 490.20v-4.5M566.30 104.30v4.5M116.50 490.20h4.5M566.30 490.20h-4.5M116.50 425.88h4.5M566.30 425.88h-4.5M116.50 361.57h4.5M566.30 361.57h-4.5M116.50 297.25h4.5M566.30 297.25h-4.5M116.50 232.93h4.5M566.30 232.93h-4.5M116.50 168.62h4.5M566.30 168.62h-4.5M116.50 104.30h4.5M566.30 104.30h-4.5" stroke="#262626" stroke-width="1.1" fill="none"/>
<rect x="116.50" y="104.30" width="449.80" height="385.90" stroke="#262626" stroke-width="1.1" fill="none"/>
<g font-family="Liberation Sans, Arial, sans-serif" font-size="22" fill="#262626"><text transform="translate(115.70 522.40) scale(1 1.03)" text-anchor="middle">0</text><text transform="translate(205.66 522.40) scale(1 1.03)" text-anchor="middle">20</text><text transform="translate(295.62 522.40) scale(1 1.03)" text-anchor="middle">40</text><text transform="translate(385.58 522.40) scale(1 1.03)" text-anchor="middle">60</text><text transform="translate(475.54 522.40) scale(1 1.03)" text-anchor="middle">80</text><text transform="translate(565.50 522.40) scale(1 1.03)" text-anchor="middle">100</text><text transform="translate(106.80 499.40) scale(1 1.03)" text-anchor="end">0</text><text transform="translate(106.80 435.08) scale(1 1.03)" text-anchor="end">0.1</text><text transform="translate(106.80 370.77) scale(1 1.03)" text-anchor="end">0.2</text><text transform="translate(106.80 306.45) scale(1 1.03)" text-anchor="end">0.3</text><text transform="translate(106.80 242.13) scale(1 1.03)" text-anchor="end">0.4</text><text transform="translate(106.80 177.82) scale(1 1.03)" text-anchor="end">0.5</text><text transform="translate(106.80 113.50) scale(1 1.03)" text-anchor="end">0.6</text></g>
<path d="M797.66 104.30V490.20M887.62 104.30V490.20M977.58 104.30V490.20M1067.54 104.30V490.20" stroke="#262626" stroke-opacity="0.15" stroke-width="1.3" fill="none"/>
<path d="M707.70 425.88H1157.50M707.70 361.57H1157.50M707.70 297.25H1157.50M707.70 232.93H1157.50M707.70 168.62H1157.50" stroke="#262626" stroke-opacity="0.15" stroke-width="1.3" fill="none"/>
<path d="M707.7 490.2 L707.7 489.7 L707.8 489.3 L707.9 488.8 L707.9 488.4 L708.0 487.9 L708.1 487.5 L708.2 487.0 L708.3 486.6 L708.4 486.2 L708.5 485.8 L708.6 485.3 L708.7 484.9 L708.8 484.5 L709.0 484.1 L709.1 483.7 L709.2 483.3 L709.4 482.9 L709.6 482.6 L709.7 482.2 L709.9 481.8 L710.0 481.4 L710.2 481.1 L710.4 480.7 L710.6 480.3 L710.8 480.0 L711.0 479.6 L711.2 479.3 L711.4 479.0 L711.6 478.6 L711.8 478.3 L712.1 478.0 L712.3 477.6 L712.5 477.3 L712.8 477.0 L713.0 476.7 L713.2 476.4 L713.5 476.1 L713.7 475.8 L714.0 475.5 L714.3 475.2 L714.5 474.9 L714.8 474.6 L715.1 474.3 L715.4 474.0 L715.6 473.8 L715.9 473.5 L716.2 473.2 L716.5 473.0 L716.8 472.7 L717.1 472.4 L717.4 472.2 L717.7 471.9 L718.0 471.7 L718.4 471.4 L718.7 471.2 L719.0 470.9 L719.3 470.7 L719.7 470.5 L720.0 470.2 L720.9 469.6 L721.9 469.0 L722.9 468.3 L723.9 467.7 L724.9 467.2 L725.9 466.6 L726.9 466.0 L728.0 465.5 L729.0 464.9 L730.0 464.3 L731.0 463.7 L732.1 463.2 L733.1 462.6 L734.0 462.0 L735.0 461.3 L736.0 460.7 L736.9 460.0 L737.8 459.4 L738.7 458.7 L739.6 458.0 L740.5 457.2 L741.3 456.5 L742.2 455.7 L743.0 455.0 L743.8 454.2 L744.6 453.4 L745.4 452.6 L746.2 451.8 L747.0 451.0 L747.8 450.1 L748.5 449.3 L749.3 448.4 L750.1 447.6 L750.8 446.7 L751.6 445.8 L752.3 444.9 L753.1 444.1 L753.8 443.2 L754.6 442.3 L755.4 441.4 L756.1 440.5 L756.9 439.6 L757.6 438.6 L758.4 437.7 L759.2 436.8 L760.0 435.9 L760.7 435.0 L761.5 434.1 L762.3 433.2 L763.1 432.3 L763.9 431.4 L764.7 430.5 L765.5 429.6 L766.3 428.7 L767.1 427.8 L767.9 426.9 L768.7 426.0 L769.6 425.2 L770.4 424.3 L771.2 423.5 L772.1 422.6 L772.9 421.8 L773.8 421.0 L774.6 420.2 L775.5 419.4 L776.4 418.6 L777.3 417.8 L778.2 417.0 L779.1 416.3 L780.0 415.6 L780.9 414.8 L781.8 414.1 L782.7 413.5 L783.7 412.8 L784.6 412.1 L785.6 411.5 L786.5 410.9 L787.5 410.3 L788.5 409.7 L789.5 409.1 L790.5 408.6 L791.5 408.0 L792.5 407.5 L793.5 407.0 L794.5 406.5 L795.6 406.0 L796.6 405.5 L797.6 405.1 L798.7 404.7 L799.7 404.2 L800.8 403.8 L801.9 403.4 L802.9 403.0 L804.0 402.7 L805.1 402.3 L806.2 401.9 L807.3 401.6 L808.4 401.3 L809.5 400.9 L810.6 400.6 L811.7 400.3 L812.8 400.0 L813.9 399.8 L815.0 399.5 L816.2 399.2 L817.3 399.0 L818.4 398.7 L819.6 398.5 L820.7 398.3 L821.8 398.0 L823.0 397.8 L824.1 397.6 L825.3 397.4 L826.4 397.2 L827.6 397.0 L828.7 396.8 L829.9 396.7 L831.0 396.5 L832.2 396.3 L833.3 396.2 L834.5 396.0 L835.7 395.8 L836.8 395.7 L838.0 395.5 L839.1 395.4 L840.3 395.3 L841.4 395.1 L842.6 395.0 L843.8 394.9 L844.9 394.7 L846.1 394.6 L847.2 394.5 L848.4 394.4 L849.6 394.3 L850.7 394.1 L851.9 394.0 L853.0 393.9 L854.2 393.8 L855.3 393.7 L856.5 393.6 L857.7 393.5 L858.8 393.4 L860.0 393.4 L861.1 393.3 L862.3 393.2 L863.5 393.1 L864.6 393.0 L865.8 392.9 L866.9 392.9 L868.1 392.8 L869.3 392.7 L870.4 392.7 L871.6 392.6 L872.7 392.5 L873.9 392.5 L875.1 392.4 L876.2 392.4 L877.4 392.3 L878.6 392.2 L879.7 392.2 L880.9 392.1 L882.0 392.1 L883.2 392.0 L884.4 392.0 L885.5 392.0 L886.7 391.9 L887.8 391.9 L889.0 391.8 L890.2 391.8 L891.3 391.8 L892.5 391.7 L893.7 391.7 L894.8 391.7 L896.0 391.6 L897.1 391.6 L898.3 391.6 L899.5 391.5 L900.6 391.5 L901.8 391.5 L902.9 391.5 L904.1 391.4 L905.3 391.4 L906.4 391.4 L907.6 391.4 L908.8 391.4 L909.9 391.3 L911.1 391.3 L912.2 391.3 L913.4 391.3 L914.6 391.3 L915.7 391.2 L916.9 391.2 L918.1 391.2 L919.2 391.2 L920.4 391.2 L921.5 391.2 L922.7 391.1 L923.9 391.1 L925.0 391.1 L926.2 391.1 L927.4 391.1 L928.5 391.1 L929.7 391.0 L930.8 391.0 L932.0 391.0 L933.2 391.0 L934.3 391.0 L935.5 391.0 L936.7 391.0 L937.8 390.9 L939.0 390.9 L940.1 390.9 L941.3 390.9 L942.5 390.9 L943.6 390.9 L944.8 390.9 L946.0 390.8 L947.1 390.8 L948.3 390.8 L949.4 390.8 L950.6 390.8 L951.8 390.8 L952.9 390.8 L954.1 390.7 L955.3 390.7 L956.4 390.7 L957.6 390.7 L958.7 390.7 L959.9 390.7 L961.1 390.7 L962.2 390.6 L963.4 390.6 L964.5 390.6 L965.7 390.6 L966.9 390.6 L968.0 390.6 L969.2 390.6 L970.4 390.6 L971.5 390.5 L972.7 390.5 L973.8 390.5 L975.0 390.5 L976.2 390.5 L977.3 390.5 L978.5 390.5 L979.7 390.5 L980.8 390.5 L982.0 390.4 L983.1 390.4 L984.3 390.4 L985.5 390.4 L986.6 390.4 L987.8 390.4 L989.0 390.4 L990.1 390.4 L991.3 390.4 L992.4 390.4 L993.6 390.3 L994.8 390.3 L995.9 390.3 L997.1 390.3 L998.3 390.3 L999.4 390.3 L1000.6 390.3 L1001.7 390.3 L1002.9 390.3 L1004.1 390.3 L1005.2 390.3 L1006.4 390.3 L1007.6 390.3 L1008.7 390.2 L1009.9 390.2 L1011.0 390.2 L1012.2 390.2 L1013.4 390.2 L1014.5 390.2 L1015.7 390.2 L1016.9 390.2 L1018.0 390.2 L1019.2 390.2 L1020.3 390.2 L1021.5 390.2 L1022.7 390.2 L1023.8 390.2 L1025.0 390.2 L1026.2 390.2 L1027.3 390.2 L1028.5 390.1 L1029.6 390.1 L1030.8 390.1 L1032.0 390.1 L1033.1 390.1 L1034.3 390.1 L1035.5 390.1 L1036.6 390.1 L1037.8 390.1 L1038.9 390.1 L1040.1 390.1 L1041.3 390.1 L1042.4 390.1 L1043.6 390.1 L1044.7 390.1 L1045.9 390.1 L1047.1 390.1 L1048.2 390.1 L1049.4 390.1 L1050.6 390.1 L1051.7 390.1 L1052.9 390.1 L1054.0 390.1 L1055.2 390.1 L1056.4 390.1 L1057.5 390.1 L1058.7 390.1 L1059.9 390.1 L1061.0 390.1 L1062.2 390.0 L1063.3 390.0 L1064.5 390.0 L1065.7 390.0 L1066.8 390.0 L1068.0 390.0 L1069.2 390.0 L1070.3 390.0 L1071.5 390.0 L1072.6 390.0 L1073.8 390.0 L1075.0 390.0 L1076.1 390.0 L1077.3 390.0 L1078.5 390.0 L1079.6 390.0 L1080.8 390.0 L1081.9 390.0 L1083.1 390.0 L1084.3 390.0 L1085.4 390.0 L1086.6 390.0 L1087.8 390.0 L1088.9 390.0 L1090.1 390.0 L1091.2 390.0 L1092.4 390.0 L1093.6 390.0 L1094.7 390.0 L1095.9 390.0 L1097.1 390.0 L1098.2 390.0 L1099.4 390.0 L1100.5 390.0 L1101.7 390.0 L1102.9 390.0 L1104.0 390.0 L1105.2 390.0 L1106.4 390.0 L1107.5 390.0 L1108.7 390.0 L1109.8 390.0 L1111.0 390.0 L1112.2 390.0 L1113.3 390.0 L1114.5 390.0 L1115.7 390.0 L1116.8 390.0 L1118.0 390.0 L1119.1 390.0 L1120.3 390.0 L1121.5 390.0 L1122.6 390.0 L1123.8 390.0 L1125.0 390.0 L1126.1 390.0 L1127.3 389.9 L1128.4 389.9 L1129.6 389.9 L1130.8 389.9 L1131.9 389.9 L1133.1 389.9 L1134.3 389.9 L1135.4 389.9 L1136.6 389.9 L1137.7 389.9 L1138.9 389.9 L1140.1 389.9 L1141.2 389.9 L1142.4 389.9 L1143.6 389.9 L1144.7 389.9 L1145.9 389.9 L1147.0 389.9 L1148.2 389.9 L1149.4 389.9 L1150.5 389.9 L1151.7 389.9 L1152.9 389.9 L1154.0 389.9 L1155.2 389.9 L1156.3 389.9 L1157.5 389.9" stroke="#0072BD" stroke-width="2.9" fill="none" stroke-linejoin="round"/>
<path d="M707.7 490.2 L707.9 489.8 L708.0 489.3 L708.2 488.9 L708.4 488.4 L708.6 488.0 L708.8 487.6 L709.0 487.1 L709.2 486.7 L709.3 486.2 L709.5 485.8 L709.7 485.4 L709.9 484.9 L710.1 484.5 L710.3 484.1 L710.5 483.6 L710.7 483.2 L710.9 482.8 L711.1 482.4 L711.3 481.9 L711.6 481.5 L711.8 481.1 L712.0 480.6 L712.2 480.2 L712.4 479.8 L712.6 479.4 L712.8 478.9 L713.1 478.5 L713.3 478.1 L713.5 477.7 L713.7 477.3 L713.9 476.8 L714.2 476.4 L714.4 476.0 L714.6 475.6 L714.8 475.1 L715.1 474.7 L715.3 474.3 L715.5 473.9 L715.7 473.5 L716.0 473.1 L716.2 472.6 L716.4 472.2 L716.7 471.8 L716.9 471.4 L717.1 471.0 L717.4 470.5 L717.6 470.1 L717.8 469.7 L718.1 469.3 L718.3 468.9 L718.5 468.5 L718.8 468.1 L719.0 467.6 L719.2 467.2 L719.5 466.8 L719.7 466.4 L719.9 466.0 L720.2 465.6 L720.4 465.1 L721.1 464.0 L721.7 462.8 L722.4 461.6 L723.1 460.5 L723.7 459.3 L724.3 458.1 L725.0 456.9 L725.6 455.8 L726.3 454.6 L726.9 453.4 L727.5 452.2 L728.2 451.1 L728.8 449.9 L729.4 448.7 L730.0 447.5 L730.6 446.3 L731.2 445.1 L731.9 443.9 L732.5 442.7 L733.1 441.5 L733.7 440.3 L734.2 439.1 L734.8 437.9 L735.4 436.7 L736.0 435.5 L736.6 434.3 L737.2 433.1 L737.7 431.9 L738.3 430.7 L738.9 429.5 L739.4 428.3 L740.0 427.1 L740.5 425.9 L741.1 424.7 L741.6 423.4 L742.2 422.2 L742.7 421.0 L743.3 419.8 L743.8 418.5 L744.3 417.3 L744.8 416.1 L745.4 414.9 L745.9 413.6 L746.4 412.4 L746.9 411.2 L747.4 409.9 L747.9 408.7 L748.4 407.4 L748.9 406.2 L749.4 404.9 L749.9 403.7 L750.4 402.5 L750.8 401.2 L751.3 399.9 L751.8 398.7 L752.3 397.4 L752.7 396.2 L753.2 394.9 L753.6 393.7 L754.1 392.4 L754.6 391.1 L755.0 389.9 L755.4 388.6 L755.9 387.3 L756.3 386.0 L756.8 384.8 L757.2 383.5 L757.7 382.2 L758.1 381.0 L758.5 379.7 L759.0 378.4 L759.4 377.1 L759.9 375.9 L760.3 374.6 L760.8 373.3 L761.2 372.0 L761.7 370.8 L762.1 369.5 L762.6 368.2 L763.1 367.0 L763.6 365.7 L764.0 364.4 L764.5 363.2 L765.0 361.9 L765.5 360.6 L766.0 359.4 L766.5 358.1 L767.1 356.9 L767.6 355.6 L768.1 354.4 L768.7 353.1 L769.3 351.9 L769.8 350.7 L770.4 349.4 L771.0 348.2 L771.6 347.0 L772.2 345.7 L772.9 344.5 L773.5 343.3 L774.2 342.1 L774.8 340.9 L775.5 339.7 L776.2 338.5 L776.9 337.3 L777.6 336.1 L778.3 334.9 L779.1 333.8 L779.8 332.6 L780.6 331.5 L781.4 330.4 L782.2 329.2 L783.0 328.1 L783.8 327.0 L784.7 326.0 L785.5 324.9 L786.4 323.8 L787.3 322.8 L788.1 321.8 L789.0 320.8 L790.0 319.8 L790.9 318.8 L791.8 317.9 L792.8 316.9 L793.8 316.0 L794.8 315.1 L795.8 314.2 L796.8 313.4 L797.8 312.6 L798.8 311.7 L799.9 311.0 L801.0 310.2 L802.0 309.4 L803.1 308.7 L804.2 308.0 L805.4 307.4 L806.5 306.7 L807.6 306.1 L808.8 305.4 L809.9 304.8 L811.1 304.3 L812.3 303.7 L813.5 303.2 L814.7 302.6 L815.9 302.1 L817.1 301.6 L818.4 301.1 L819.6 300.7 L820.9 300.2 L822.1 299.8 L823.4 299.4 L824.7 299.0 L825.9 298.6 L827.2 298.2 L828.5 297.9 L829.8 297.5 L831.1 297.2 L832.4 296.9 L833.7 296.6 L835.0 296.3 L836.3 296.0 L837.7 295.7 L839.0 295.4 L840.3 295.2 L841.7 294.9 L843.0 294.7 L844.3 294.4 L845.7 294.2 L847.0 294.0 L848.3 293.8 L849.7 293.6 L851.0 293.4 L852.4 293.2 L853.7 293.0 L855.1 292.8 L856.4 292.6 L857.7 292.5 L859.1 292.3 L860.4 292.1 L861.8 292.0 L863.1 291.8 L864.4 291.7 L865.8 291.5 L867.1 291.4 L868.5 291.3 L869.8 291.1 L871.2 291.0 L872.5 290.9 L873.8 290.8 L875.2 290.7 L876.5 290.6 L877.9 290.4 L879.2 290.3 L880.6 290.3 L881.9 290.2 L883.2 290.1 L884.6 290.0 L885.9 289.9 L887.3 289.8 L888.6 289.8 L890.0 289.7 L891.3 289.6 L892.6 289.5 L894.0 289.5 L895.3 289.4 L896.7 289.4 L898.0 289.3 L899.3 289.3 L900.7 289.2 L902.0 289.2 L903.4 289.1 L904.7 289.1 L906.1 289.0 L907.4 289.0 L908.7 289.0 L910.1 288.9 L911.4 288.9 L912.8 288.9 L914.1 288.8 L915.5 288.8 L916.8 288.8 L918.2 288.8 L919.5 288.7 L920.8 288.7 L922.2 288.7 L923.5 288.7 L924.9 288.6 L926.2 288.6 L927.6 288.6 L928.9 288.6 L930.2 288.6 L931.6 288.6 L932.9 288.5 L934.3 288.5 L935.6 288.5 L937.0 288.5 L938.3 288.5 L939.6 288.5 L941.0 288.4 L942.3 288.4 L943.7 288.4 L945.0 288.4 L946.4 288.4 L947.7 288.4 L949.1 288.3 L950.4 288.3 L951.7 288.3 L953.1 288.3 L954.4 288.3 L955.8 288.3 L957.1 288.2 L958.5 288.2 L959.8 288.2 L961.2 288.2 L962.5 288.2 L963.8 288.1 L965.2 288.1 L966.5 288.1 L967.9 288.1 L969.2 288.1 L970.6 288.0 L971.9 288.0 L973.3 288.0 L974.6 288.0 L976.0 288.0 L977.3 288.0 L978.6 287.9 L980.0 287.9 L981.3 287.9 L982.7 287.9 L984.0 287.9 L985.4 287.8 L986.7 287.8 L988.1 287.8 L989.4 287.8 L990.7 287.8 L992.1 287.7 L993.4 287.7 L994.8 287.7 L996.1 287.7 L997.5 287.7 L998.8 287.6 L1000.2 287.6 L1001.5 287.6 L1002.9 287.6 L1004.2 287.6 L1005.5 287.6 L1006.9 287.5 L1008.2 287.5 L1009.6 287.5 L1010.9 287.5 L1012.3 287.5 L1013.6 287.5 L1015.0 287.4 L1016.3 287.4 L1017.7 287.4 L1019.0 287.4 L1020.3 287.4 L1021.7 287.4 L1023.0 287.4 L1024.4 287.4 L1025.7 287.3 L1027.1 287.3 L1028.4 287.3 L1029.8 287.3 L1031.1 287.3 L1032.4 287.3 L1033.8 287.3 L1035.1 287.3 L1036.5 287.2 L1037.8 287.2 L1039.2 287.2 L1040.5 287.2 L1041.9 287.2 L1043.2 287.2 L1044.5 287.2 L1045.9 287.2 L1047.2 287.2 L1048.6 287.2 L1049.9 287.2 L1051.3 287.1 L1052.6 287.1 L1054.0 287.1 L1055.3 287.1 L1056.6 287.1 L1058.0 287.1 L1059.3 287.1 L1060.7 287.1 L1062.0 287.1 L1063.4 287.1 L1064.7 287.1 L1066.1 287.1 L1067.4 287.1 L1068.7 287.1 L1070.1 287.0 L1071.4 287.0 L1072.8 287.0 L1074.1 287.0 L1075.5 287.0 L1076.8 287.0 L1078.2 287.0 L1079.5 287.0 L1080.9 287.0 L1082.2 287.0 L1083.5 287.0 L1084.9 287.0 L1086.2 287.0 L1087.6 287.0 L1088.9 287.0 L1090.3 287.0 L1091.6 287.0 L1093.0 287.0 L1094.3 287.0 L1095.6 286.9 L1097.0 286.9 L1098.3 286.9 L1099.7 286.9 L1101.0 286.9 L1102.4 286.9 L1103.7 286.9 L1105.1 286.9 L1106.4 286.9 L1107.7 286.9 L1109.1 286.9 L1110.4 286.9 L1111.8 286.9 L1113.1 286.9 L1114.5 286.9 L1115.8 286.9 L1117.2 286.9 L1118.5 286.9 L1119.8 286.9 L1121.2 286.9 L1122.5 286.9 L1123.9 286.8 L1125.2 286.8 L1126.6 286.8 L1127.9 286.8 L1129.3 286.8 L1130.6 286.8 L1131.9 286.8 L1133.3 286.8 L1134.6 286.8 L1136.0 286.8 L1137.3 286.8 L1138.7 286.8 L1140.0 286.8 L1141.4 286.8 L1142.7 286.8 L1144.0 286.8 L1145.4 286.8 L1146.7 286.8 L1148.1 286.7 L1149.4 286.7 L1150.8 286.7 L1152.1 286.7 L1153.5 286.7 L1154.8 286.7 L1156.2 286.7 L1157.5 286.7" stroke="#D95319" stroke-width="2.9" fill="none" stroke-linejoin="round"/>
<path d="M707.7 490.2 L707.9 489.7 L708.1 489.2 L708.3 488.6 L708.5 488.1 L708.7 487.6 L708.9 487.0 L709.1 486.5 L709.3 486.0 L709.5 485.5 L709.7 484.9 L709.9 484.4 L710.1 483.9 L710.3 483.4 L710.5 482.8 L710.7 482.3 L710.9 481.8 L711.1 481.3 L711.3 480.7 L711.5 480.2 L711.7 479.7 L711.9 479.2 L712.1 478.6 L712.2 478.1 L712.4 477.6 L712.6 477.0 L712.8 476.5 L713.0 476.0 L713.2 475.5 L713.4 474.9 L713.6 474.4 L713.8 473.9 L714.0 473.4 L714.1 472.8 L714.3 472.3 L714.5 471.8 L714.7 471.2 L714.9 470.7 L715.1 470.2 L715.3 469.7 L715.4 469.1 L715.6 468.6 L715.8 468.1 L716.0 467.6 L716.2 467.0 L716.3 466.5 L716.5 466.0 L716.7 465.4 L716.9 464.9 L717.1 464.4 L717.2 463.8 L717.4 463.3 L717.6 462.8 L717.8 462.3 L718.0 461.7 L718.1 461.2 L718.3 460.7 L718.5 460.1 L718.7 459.6 L718.8 459.1 L719.3 457.6 L719.8 456.1 L720.3 454.6 L720.8 453.1 L721.2 451.6 L721.7 450.1 L722.2 448.7 L722.6 447.2 L723.1 445.7 L723.6 444.2 L724.0 442.7 L724.5 441.2 L724.9 439.7 L725.4 438.2 L725.8 436.7 L726.3 435.2 L726.7 433.7 L727.1 432.2 L727.6 430.7 L728.0 429.2 L728.4 427.7 L728.9 426.2 L729.3 424.7 L729.7 423.2 L730.1 421.7 L730.5 420.2 L730.9 418.7 L731.3 417.2 L731.8 415.7 L732.2 414.1 L732.6 412.6 L733.0 411.1 L733.4 409.6 L733.8 408.1 L734.1 406.6 L734.5 405.1 L734.9 403.6 L735.3 402.1 L735.7 400.5 L736.1 399.0 L736.5 397.5 L736.8 396.0 L737.2 394.5 L737.6 393.0 L738.0 391.4 L738.3 389.9 L738.7 388.4 L739.1 386.9 L739.5 385.4 L739.8 383.8 L740.2 382.3 L740.5 380.8 L740.9 379.3 L741.3 377.7 L741.6 376.2 L742.0 374.7 L742.3 373.2 L742.7 371.6 L743.0 370.1 L743.4 368.6 L743.8 367.0 L744.1 365.5 L744.5 364.0 L744.8 362.5 L745.1 360.9 L745.5 359.4 L745.8 357.9 L746.2 356.3 L746.5 354.8 L746.9 353.2 L747.2 351.7 L747.6 350.2 L747.9 348.6 L748.2 347.1 L748.6 345.5 L748.9 344.0 L749.3 342.5 L749.6 340.9 L749.9 339.4 L750.3 337.8 L750.6 336.3 L750.9 334.7 L751.3 333.2 L751.6 331.6 L752.0 330.1 L752.3 328.5 L752.6 327.0 L753.0 325.4 L753.3 323.9 L753.6 322.3 L754.0 320.8 L754.3 319.2 L754.7 317.7 L755.0 316.1 L755.3 314.6 L755.7 313.0 L756.0 311.4 L756.3 309.9 L756.7 308.3 L757.0 306.8 L757.4 305.2 L757.7 303.7 L758.1 302.1 L758.4 300.5 L758.8 299.0 L759.1 297.4 L759.5 295.9 L759.9 294.3 L760.2 292.8 L760.6 291.2 L761.0 289.7 L761.4 288.1 L761.8 286.6 L762.2 285.1 L762.6 283.5 L763.0 282.0 L763.4 280.5 L763.8 278.9 L764.3 277.4 L764.7 275.9 L765.1 274.4 L765.6 272.9 L766.0 271.3 L766.5 269.8 L767.0 268.3 L767.5 266.8 L768.0 265.3 L768.5 263.9 L769.0 262.4 L769.5 260.9 L770.0 259.4 L770.6 258.0 L771.1 256.5 L771.7 255.0 L772.3 253.6 L772.9 252.2 L773.5 250.7 L774.1 249.3 L774.7 247.9 L775.4 246.4 L776.0 245.0 L776.7 243.6 L777.4 242.2 L778.1 240.8 L778.8 239.5 L779.5 238.1 L780.2 236.7 L781.0 235.4 L781.7 234.0 L782.5 232.7 L783.3 231.3 L784.1 230.0 L785.0 228.7 L785.8 227.4 L786.7 226.1 L787.6 224.8 L788.5 223.5 L789.4 222.3 L790.3 221.0 L791.3 219.8 L792.2 218.6 L793.2 217.4 L794.2 216.2 L795.3 215.0 L796.3 213.9 L797.4 212.8 L798.5 211.7 L799.6 210.6 L800.8 209.6 L802.0 208.5 L803.1 207.6 L804.4 206.6 L805.6 205.7 L806.9 204.8 L808.2 204.0 L809.5 203.2 L810.9 202.4 L812.2 201.7 L813.6 201.0 L815.0 200.3 L816.5 199.7 L817.9 199.1 L819.4 198.5 L820.9 197.9 L822.3 197.4 L823.8 196.9 L825.4 196.4 L826.9 195.9 L828.4 195.5 L829.9 195.0 L831.4 194.6 L832.9 194.1 L834.5 193.7 L836.0 193.3 L837.5 193.0 L839.1 192.6 L840.6 192.2 L842.1 191.9 L843.7 191.5 L845.2 191.2 L846.7 190.9 L848.3 190.6 L849.8 190.3 L851.4 190.0 L852.9 189.7 L854.5 189.4 L856.0 189.2 L857.6 188.9 L859.1 188.7 L860.7 188.5 L862.2 188.2 L863.8 188.0 L865.3 187.8 L866.9 187.6 L868.4 187.4 L870.0 187.2 L871.6 187.1 L873.1 186.9 L874.7 186.7 L876.2 186.6 L877.8 186.4 L879.4 186.3 L880.9 186.2 L882.5 186.0 L884.1 185.9 L885.6 185.8 L887.2 185.7 L888.8 185.6 L890.3 185.5 L891.9 185.4 L893.5 185.3 L895.0 185.2 L896.6 185.1 L898.2 185.0 L899.8 184.9 L901.3 184.9 L902.9 184.8 L904.5 184.7 L906.1 184.7 L907.6 184.6 L909.2 184.5 L910.8 184.5 L912.3 184.4 L913.9 184.4 L915.5 184.3 L917.1 184.3 L918.6 184.2 L920.2 184.2 L921.8 184.1 L923.4 184.1 L924.9 184.0 L926.5 184.0 L928.1 183.9 L929.7 183.9 L931.2 183.9 L932.8 183.8 L934.4 183.8 L935.9 183.7 L937.5 183.7 L939.1 183.6 L940.7 183.6 L942.2 183.5 L943.8 183.5 L945.4 183.5 L946.9 183.4 L948.5 183.4 L950.1 183.3 L951.7 183.3 L953.2 183.2 L954.8 183.2 L956.4 183.2 L957.9 183.1 L959.5 183.1 L961.1 183.0 L962.6 183.0 L964.2 183.0 L965.8 182.9 L967.4 182.9 L968.9 182.9 L970.5 182.8 L972.1 182.8 L973.6 182.8 L975.2 182.7 L976.8 182.7 L978.3 182.7 L979.9 182.6 L981.5 182.6 L983.1 182.6 L984.6 182.5 L986.2 182.5 L987.8 182.5 L989.3 182.4 L990.9 182.4 L992.5 182.4 L994.0 182.3 L995.6 182.3 L997.2 182.3 L998.8 182.3 L1000.3 182.2 L1001.9 182.2 L1003.5 182.2 L1005.0 182.1 L1006.6 182.1 L1008.2 182.1 L1009.8 182.1 L1011.3 182.1 L1012.9 182.0 L1014.5 182.0 L1016.0 182.0 L1017.6 182.0 L1019.2 181.9 L1020.8 181.9 L1022.3 181.9 L1023.9 181.9 L1025.5 181.9 L1027.0 181.8 L1028.6 181.8 L1030.2 181.8 L1031.8 181.8 L1033.3 181.8 L1034.9 181.7 L1036.5 181.7 L1038.0 181.7 L1039.6 181.7 L1041.2 181.7 L1042.8 181.7 L1044.3 181.7 L1045.9 181.6 L1047.5 181.6 L1049.0 181.6 L1050.6 181.6 L1052.2 181.6 L1053.8 181.6 L1055.3 181.6 L1056.9 181.5 L1058.5 181.5 L1060.0 181.5 L1061.6 181.5 L1063.2 181.5 L1064.8 181.5 L1066.3 181.5 L1067.9 181.5 L1069.5 181.5 L1071.1 181.4 L1072.6 181.4 L1074.2 181.4 L1075.8 181.4 L1077.3 181.4 L1078.9 181.4 L1080.5 181.4 L1082.1 181.4 L1083.6 181.4 L1085.2 181.4 L1086.8 181.4 L1088.4 181.3 L1089.9 181.3 L1091.5 181.3 L1093.1 181.3 L1094.6 181.3 L1096.2 181.3 L1097.8 181.3 L1099.4 181.3 L1100.9 181.3 L1102.5 181.3 L1104.1 181.3 L1105.6 181.3 L1107.2 181.3 L1108.8 181.3 L1110.4 181.3 L1111.9 181.2 L1113.5 181.2 L1115.1 181.2 L1116.6 181.2 L1118.2 181.2 L1119.8 181.2 L1121.4 181.2 L1122.9 181.2 L1124.5 181.2 L1126.1 181.2 L1127.6 181.2 L1129.2 181.2 L1130.8 181.2 L1132.4 181.2 L1133.9 181.2 L1135.5 181.2 L1137.1 181.2 L1138.6 181.2 L1140.2 181.1 L1141.8 181.1 L1143.4 181.1 L1144.9 181.1 L1146.5 181.1 L1148.1 181.1 L1149.6 181.1 L1151.2 181.1 L1152.8 181.1 L1154.4 181.1 L1155.9 181.1 L1157.5 181.1" stroke="#EDB120" stroke-width="2.9" fill="none" stroke-linejoin="round"/>
<path d="M707.7 490.2 L707.9 489.6 L708.0 489.0 L708.2 488.4 L708.4 487.8 L708.6 487.3 L708.7 486.7 L708.9 486.1 L709.1 485.5 L709.2 484.9 L709.4 484.3 L709.6 483.7 L709.7 483.1 L709.9 482.5 L710.1 481.9 L710.2 481.4 L710.4 480.8 L710.6 480.2 L710.7 479.6 L710.9 479.0 L711.0 478.4 L711.2 477.8 L711.4 477.2 L711.5 476.6 L711.7 476.0 L711.9 475.4 L712.0 474.8 L712.2 474.3 L712.3 473.7 L712.5 473.1 L712.7 472.5 L712.8 471.9 L713.0 471.3 L713.1 470.7 L713.3 470.1 L713.4 469.5 L713.6 468.9 L713.8 468.3 L713.9 467.7 L714.1 467.1 L714.2 466.5 L714.4 465.9 L714.5 465.3 L714.7 464.8 L714.8 464.2 L715.0 463.6 L715.2 463.0 L715.3 462.4 L715.5 461.8 L715.6 461.2 L715.8 460.6 L715.9 460.0 L716.1 459.4 L716.2 458.8 L716.4 458.2 L716.5 457.6 L716.7 457.0 L716.8 456.4 L717.0 455.8 L717.1 455.2 L717.5 453.6 L717.9 451.9 L718.3 450.2 L718.7 448.5 L719.2 446.8 L719.6 445.2 L720.0 443.5 L720.3 441.8 L720.7 440.1 L721.1 438.4 L721.5 436.7 L721.9 435.1 L722.3 433.4 L722.7 431.7 L723.1 430.0 L723.4 428.3 L723.8 426.6 L724.2 424.9 L724.5 423.2 L724.9 421.6 L725.3 419.9 L725.6 418.2 L726.0 416.5 L726.4 414.8 L726.7 413.1 L727.1 411.4 L727.4 409.7 L727.8 408.0 L728.1 406.3 L728.5 404.6 L728.8 402.9 L729.2 401.2 L729.5 399.5 L729.8 397.8 L730.2 396.1 L730.5 394.4 L730.8 392.7 L731.2 391.0 L731.5 389.3 L731.8 387.6 L732.2 385.9 L732.5 384.2 L732.8 382.5 L733.1 380.8 L733.5 379.1 L733.8 377.4 L734.1 375.7 L734.4 374.0 L734.7 372.3 L735.1 370.6 L735.4 368.9 L735.7 367.2 L736.0 365.5 L736.3 363.8 L736.6 362.1 L736.9 360.4 L737.2 358.7 L737.5 357.0 L737.9 355.3 L738.2 353.6 L738.5 351.9 L738.8 350.2 L739.1 348.5 L739.4 346.8 L739.7 345.1 L740.0 343.4 L740.3 341.7 L740.6 340.0 L740.9 338.3 L741.2 336.6 L741.5 334.9 L741.8 333.2 L742.0 331.5 L742.3 329.8 L742.6 328.1 L742.9 326.4 L743.2 324.7 L743.5 323.0 L743.8 321.3 L744.1 319.6 L744.4 317.9 L744.7 316.2 L745.0 314.5 L745.3 312.8 L745.6 311.1 L745.9 309.4 L746.1 307.7 L746.4 306.0 L746.7 304.3 L747.0 302.6 L747.3 300.9 L747.6 299.2 L747.9 297.5 L748.2 295.8 L748.5 294.2 L748.8 292.5 L749.1 290.8 L749.4 289.1 L749.7 287.4 L749.9 285.7 L750.2 284.0 L750.5 282.3 L750.8 280.6 L751.1 278.9 L751.4 277.2 L751.7 275.6 L752.0 273.9 L752.3 272.2 L752.7 270.5 L753.0 268.8 L753.3 267.1 L753.6 265.4 L753.9 263.7 L754.2 262.1 L754.5 260.4 L754.9 258.7 L755.2 257.0 L755.5 255.3 L755.9 253.6 L756.2 251.9 L756.5 250.3 L756.9 248.6 L757.2 246.9 L757.6 245.2 L757.9 243.5 L758.3 241.8 L758.6 240.2 L759.0 238.5 L759.4 236.8 L759.7 235.1 L760.1 233.4 L760.5 231.7 L760.9 230.0 L761.3 228.4 L761.7 226.7 L762.1 225.0 L762.5 223.3 L762.9 221.6 L763.3 219.9 L763.8 218.2 L764.2 216.6 L764.6 214.9 L765.1 213.2 L765.5 211.5 L766.0 209.8 L766.4 208.1 L766.9 206.4 L767.4 204.8 L767.8 203.1 L768.3 201.4 L768.8 199.7 L769.3 198.0 L769.8 196.3 L770.3 194.6 L770.8 192.9 L771.4 191.3 L771.9 189.6 L772.5 187.9 L773.0 186.2 L773.6 184.5 L774.2 182.9 L774.8 181.2 L775.4 179.6 L776.0 177.9 L776.7 176.3 L777.3 174.7 L778.0 173.1 L778.7 171.5 L779.4 169.9 L780.2 168.3 L780.9 166.8 L781.7 165.2 L782.5 163.7 L783.4 162.2 L784.2 160.8 L785.1 159.3 L786.0 157.9 L787.0 156.5 L788.0 155.1 L789.0 153.8 L790.0 152.5 L791.1 151.2 L792.2 149.9 L793.3 148.7 L794.5 147.5 L795.6 146.3 L796.9 145.2 L798.1 144.1 L799.4 143.0 L800.6 141.9 L802.0 140.9 L803.3 139.9 L804.7 139.0 L806.1 138.1 L807.5 137.2 L808.9 136.4 L810.4 135.6 L811.9 134.8 L813.4 134.0 L814.9 133.3 L816.5 132.7 L818.1 132.0 L819.7 131.4 L821.3 130.8 L822.9 130.2 L824.5 129.7 L826.2 129.2 L827.8 128.7 L829.5 128.3 L831.2 127.8 L832.9 127.4 L834.6 127.0 L836.3 126.6 L838.0 126.3 L839.7 125.9 L841.5 125.6 L843.2 125.3 L844.9 125.0 L846.7 124.7 L848.4 124.4 L850.2 124.2 L851.9 123.9 L853.6 123.7 L855.4 123.4 L857.1 123.2 L858.8 123.0 L860.5 122.8 L862.3 122.6 L864.0 122.4 L865.7 122.2 L867.4 122.0 L869.2 121.8 L870.9 121.7 L872.6 121.5 L874.3 121.4 L876.1 121.2 L877.8 121.1 L879.5 121.0 L881.2 120.8 L882.9 120.7 L884.7 120.6 L886.4 120.5 L888.1 120.4 L889.8 120.3 L891.5 120.2 L893.3 120.1 L895.0 120.0 L896.7 119.9 L898.4 119.8 L900.1 119.7 L901.9 119.7 L903.6 119.6 L905.3 119.5 L907.0 119.5 L908.8 119.4 L910.5 119.3 L912.2 119.3 L913.9 119.2 L915.7 119.2 L917.4 119.1 L919.1 119.1 L920.8 119.0 L922.6 119.0 L924.3 118.9 L926.0 118.9 L927.8 118.9 L929.5 118.8 L931.2 118.8 L932.9 118.7 L934.7 118.7 L936.4 118.7 L938.1 118.6 L939.8 118.6 L941.6 118.6 L943.3 118.5 L945.0 118.5 L946.8 118.4 L948.5 118.4 L950.2 118.4 L951.9 118.3 L953.7 118.3 L955.4 118.3 L957.1 118.2 L958.8 118.2 L960.6 118.1 L962.3 118.1 L964.0 118.1 L965.8 118.0 L967.5 118.0 L969.2 118.0 L970.9 117.9 L972.7 117.9 L974.4 117.9 L976.1 117.8 L977.8 117.8 L979.6 117.8 L981.3 117.7 L983.0 117.7 L984.8 117.7 L986.5 117.6 L988.2 117.6 L989.9 117.6 L991.7 117.5 L993.4 117.5 L995.1 117.5 L996.9 117.4 L998.6 117.4 L1000.3 117.4 L1002.0 117.3 L1003.8 117.3 L1005.5 117.3 L1007.2 117.2 L1008.9 117.2 L1010.7 117.2 L1012.4 117.2 L1014.1 117.1 L1015.9 117.1 L1017.6 117.1 L1019.3 117.0 L1021.0 117.0 L1022.8 117.0 L1024.5 117.0 L1026.2 116.9 L1027.9 116.9 L1029.7 116.9 L1031.4 116.9 L1033.1 116.8 L1034.9 116.8 L1036.6 116.8 L1038.3 116.8 L1040.0 116.7 L1041.8 116.7 L1043.5 116.7 L1045.2 116.7 L1046.9 116.6 L1048.7 116.6 L1050.4 116.6 L1052.1 116.6 L1053.9 116.6 L1055.6 116.5 L1057.3 116.5 L1059.0 116.5 L1060.8 116.5 L1062.5 116.5 L1064.2 116.4 L1065.9 116.4 L1067.7 116.4 L1069.4 116.4 L1071.1 116.4 L1072.9 116.3 L1074.6 116.3 L1076.3 116.3 L1078.0 116.3 L1079.8 116.3 L1081.5 116.3 L1083.2 116.3 L1084.9 116.2 L1086.7 116.2 L1088.4 116.2 L1090.1 116.2 L1091.9 116.2 L1093.6 116.2 L1095.3 116.2 L1097.0 116.1 L1098.8 116.1 L1100.5 116.1 L1102.2 116.1 L1103.9 116.1 L1105.7 116.1 L1107.4 116.1 L1109.1 116.1 L1110.9 116.0 L1112.6 116.0 L1114.3 116.0 L1116.0 116.0 L1117.8 116.0 L1119.5 116.0 L1121.2 116.0 L1122.9 116.0 L1124.7 116.0 L1126.4 116.0 L1128.1 116.0 L1129.9 115.9 L1131.6 115.9 L1133.3 115.9 L1135.0 115.9 L1136.8 115.9 L1138.5 115.9 L1140.2 115.9 L1142.0 115.9 L1143.7 115.9 L1145.4 115.9 L1147.1 115.9 L1148.9 115.9 L1150.6 115.9 L1152.3 115.9 L1154.0 115.9 L1155.8 115.9 L1157.5 115.9" stroke="#7E2F8E" stroke-width="2.9" fill="none" stroke-linejoin="round"/>
<path d="M707.70 490.20v-4.5M707.70 104.30v4.5M797.66 490.20v-4.5M797.66 104.30v4.5M887.62 490.20v-4.5M887.62 104.30v4.5M977.58 490.20v-4.5M977.58 104.30v4.5M1067.54 490.20v-4.5M1067.54 104.30v4.5M1157.50 490.20v-4.5M1157.50 104.30v4.5M707.70 490.20h4.5M1157.50 490.20h-4.5M707.70 425.88h4.5M1157.50 425.88h-4.5M707.70 361.57h4.5M1157.50 361.57h-4.5M707.70 297.25h4.5M1157.50 297.25h-4.5M707.70 232.93h4.5M1157.50 232.93h-4.5M707.70 168.62h4.5M1157.50 168.62h-4.5M707.70 104.30h4.5M1157.50 104.30h-4.5" stroke="#262626" stroke-width="1.1" fill="none"/>
<rect x="707.70" y="104.30" width="449.80" height="385.90" stroke="#262626" stroke-width="1.1" fill="none"/>
<g font-family="Liberation Sans, Arial, sans-serif" font-size="22" fill="#262626"><text transform="translate(706.90 522.40) scale(1 1.03)" text-anchor="middle">0</text><text transform="translate(796.86 522.40) scale(1 1.03)" text-anchor="middle">20</text><text transform="translate(886.82 522.40) scale(1 1.03)" text-anchor="middle">40</text><text transform="translate(976.78 522.40) scale(1 1.03)" text-anchor="middle">60</text><text transform="translate(1066.74 522.40) scale(1 1.03)" text-anchor="middle">80</text><text transform="translate(1156.70 522.40) scale(1 1.03)" text-anchor="middle">100</text><text transform="translate(698.00 499.40) scale(1 1.03)" text-anchor="end">0</text><text transform="translate(698.00 435.08) scale(1 1.03)" text-anchor="end">0.1</text><text transform="translate(698.00 370.77) scale(1 1.03)" text-anchor="end">0.2</text><text transform="translate(698.00 306.45) scale(1 1.03)" text-anchor="end">0.3</text><text transform="translate(698.00 242.13) scale(1 1.03)" text-anchor="end">0.4</text><text transform="translate(698.00 177.82) scale(1 1.03)" text-anchor="end">0.5</text><text transform="translate(698.00 113.50) scale(1 1.03)" text-anchor="end">0.6</text></g>
<path d="M1390.72 104.30V490.20M1480.64 104.30V490.20M1570.56 104.30V490.20M1660.48 104.30V490.20" stroke="#262626" stroke-opacity="0.15" stroke-width="1.3" fill="none"/>
<path d="M1300.80 425.88H1750.40M1300.80 361.57H1750.40M1300.80 297.25H1750.40M1300.80 232.93H1750.40M1300.80 168.62H1750.40" stroke="#262626" stroke-opacity="0.15" stroke-width="1.3" fill="none"/>
<path d="M1300.8 490.2 L1300.9 489.9 L1301.0 489.6 L1301.1 489.2 L1301.2 488.9 L1301.3 488.5 L1301.4 488.2 L1301.5 487.8 L1301.6 487.4 L1301.6 487.1 L1301.7 486.7 L1301.8 486.3 L1301.9 485.9 L1301.9 485.5 L1302.0 485.1 L1302.1 484.7 L1302.1 484.2 L1302.2 483.8 L1302.2 483.4 L1302.3 483.0 L1302.3 482.5 L1302.4 482.1 L1302.5 481.6 L1302.5 481.2 L1302.6 480.7 L1302.6 480.3 L1302.7 479.8 L1302.7 479.4 L1302.8 478.9 L1302.8 478.5 L1302.9 478.0 L1302.9 477.5 L1303.0 477.1 L1303.0 476.6 L1303.1 476.1 L1303.2 475.7 L1303.2 475.2 L1303.3 474.7 L1303.3 474.3 L1303.4 473.8 L1303.5 473.4 L1303.5 472.9 L1303.6 472.4 L1303.7 472.0 L1303.8 471.5 L1303.8 471.1 L1303.9 470.6 L1304.0 470.2 L1304.1 469.7 L1304.2 469.3 L1304.3 468.9 L1304.4 468.4 L1304.5 468.0 L1304.6 467.6 L1304.7 467.2 L1304.8 466.7 L1304.9 466.3 L1305.1 465.9 L1305.2 465.5 L1305.3 465.1 L1305.8 464.1 L1306.2 463.1 L1306.7 462.1 L1307.3 461.2 L1307.9 460.4 L1308.6 459.7 L1309.4 459.0 L1310.2 458.4 L1311.1 457.9 L1312.1 457.5 L1313.1 457.1 L1314.1 456.8 L1315.2 456.6 L1316.4 456.3 L1317.5 456.1 L1318.7 455.8 L1319.9 455.6 L1321.0 455.3 L1322.2 455.0 L1323.3 454.6 L1324.4 454.2 L1325.5 453.7 L1326.6 453.2 L1327.7 452.7 L1328.7 452.1 L1329.8 451.5 L1330.8 450.9 L1331.8 450.3 L1332.8 449.7 L1333.8 449.0 L1334.7 448.4 L1335.7 447.7 L1336.6 447.0 L1337.5 446.3 L1338.4 445.6 L1339.3 444.8 L1340.2 444.1 L1341.1 443.3 L1342.0 442.6 L1342.8 441.8 L1343.7 441.0 L1344.5 440.2 L1345.4 439.4 L1346.2 438.6 L1347.1 437.8 L1347.9 436.9 L1348.7 436.1 L1349.5 435.3 L1350.4 434.4 L1351.2 433.6 L1352.0 432.7 L1352.8 431.9 L1353.6 431.0 L1354.5 430.2 L1355.3 429.3 L1356.1 428.5 L1356.9 427.6 L1357.7 426.8 L1358.6 425.9 L1359.4 425.1 L1360.2 424.2 L1361.1 423.4 L1361.9 422.6 L1362.8 421.7 L1363.7 420.9 L1364.5 420.1 L1365.4 419.3 L1366.3 418.5 L1367.2 417.7 L1368.1 416.9 L1369.0 416.1 L1369.9 415.4 L1370.9 414.6 L1371.8 413.9 L1372.7 413.1 L1373.7 412.4 L1374.6 411.7 L1375.6 411.0 L1376.6 410.3 L1377.6 409.7 L1378.6 409.0 L1379.5 408.4 L1380.6 407.7 L1381.6 407.1 L1382.6 406.5 L1383.6 406.0 L1384.6 405.4 L1385.7 404.9 L1386.7 404.4 L1387.8 403.9 L1388.9 403.4 L1389.9 403.0 L1391.0 402.5 L1392.1 402.1 L1393.2 401.7 L1394.3 401.4 L1395.4 401.0 L1396.5 400.7 L1397.7 400.4 L1398.8 400.1 L1399.9 399.8 L1401.1 399.5 L1402.2 399.3 L1403.3 399.0 L1404.5 398.8 L1405.6 398.6 L1406.8 398.4 L1407.9 398.2 L1409.1 398.0 L1410.3 397.8 L1411.4 397.6 L1412.6 397.4 L1413.8 397.3 L1414.9 397.1 L1416.1 396.9 L1417.3 396.8 L1418.4 396.6 L1419.6 396.5 L1420.8 396.3 L1421.9 396.2 L1423.1 396.0 L1424.3 395.9 L1425.4 395.7 L1426.6 395.6 L1427.8 395.5 L1428.9 395.4 L1430.1 395.2 L1431.3 395.1 L1432.4 395.0 L1433.6 394.9 L1434.8 394.8 L1436.0 394.6 L1437.1 394.5 L1438.3 394.4 L1439.5 394.3 L1440.6 394.2 L1441.8 394.1 L1443.0 394.0 L1444.2 393.9 L1445.3 393.8 L1446.5 393.8 L1447.7 393.7 L1448.9 393.6 L1450.0 393.5 L1451.2 393.4 L1452.4 393.3 L1453.6 393.3 L1454.7 393.2 L1455.9 393.1 L1457.1 393.1 L1458.3 393.0 L1459.4 392.9 L1460.6 392.9 L1461.8 392.8 L1463.0 392.7 L1464.1 392.7 L1465.3 392.6 L1466.5 392.6 L1467.7 392.5 L1468.8 392.5 L1470.0 392.4 L1471.2 392.4 L1472.4 392.3 L1473.5 392.3 L1474.7 392.2 L1475.9 392.2 L1477.1 392.1 L1478.3 392.1 L1479.4 392.0 L1480.6 392.0 L1481.8 392.0 L1483.0 391.9 L1484.1 391.9 L1485.3 391.9 L1486.5 391.8 L1487.7 391.8 L1488.9 391.7 L1490.0 391.7 L1491.2 391.7 L1492.4 391.7 L1493.6 391.6 L1494.8 391.6 L1495.9 391.6 L1497.1 391.5 L1498.3 391.5 L1499.5 391.5 L1500.6 391.5 L1501.8 391.4 L1503.0 391.4 L1504.2 391.4 L1505.4 391.3 L1506.5 391.3 L1507.7 391.3 L1508.9 391.3 L1510.1 391.3 L1511.2 391.2 L1512.4 391.2 L1513.6 391.2 L1514.8 391.2 L1516.0 391.1 L1517.1 391.1 L1518.3 391.1 L1519.5 391.1 L1520.7 391.1 L1521.9 391.0 L1523.0 391.0 L1524.2 391.0 L1525.4 391.0 L1526.6 391.0 L1527.7 390.9 L1528.9 390.9 L1530.1 390.9 L1531.3 390.9 L1532.5 390.9 L1533.6 390.9 L1534.8 390.8 L1536.0 390.8 L1537.2 390.8 L1538.3 390.8 L1539.5 390.8 L1540.7 390.8 L1541.9 390.7 L1543.1 390.7 L1544.2 390.7 L1545.4 390.7 L1546.6 390.7 L1547.8 390.7 L1548.9 390.7 L1550.1 390.6 L1551.3 390.6 L1552.5 390.6 L1553.7 390.6 L1554.8 390.6 L1556.0 390.6 L1557.2 390.6 L1558.4 390.6 L1559.5 390.6 L1560.7 390.5 L1561.9 390.5 L1563.1 390.5 L1564.3 390.5 L1565.4 390.5 L1566.6 390.5 L1567.8 390.5 L1569.0 390.5 L1570.1 390.5 L1571.3 390.5 L1572.5 390.4 L1573.7 390.4 L1574.9 390.4 L1576.0 390.4 L1577.2 390.4 L1578.4 390.4 L1579.6 390.4 L1580.7 390.4 L1581.9 390.4 L1583.1 390.4 L1584.3 390.4 L1585.5 390.4 L1586.6 390.3 L1587.8 390.3 L1589.0 390.3 L1590.2 390.3 L1591.4 390.3 L1592.5 390.3 L1593.7 390.3 L1594.9 390.3 L1596.1 390.3 L1597.2 390.3 L1598.4 390.3 L1599.6 390.3 L1600.8 390.3 L1602.0 390.3 L1603.1 390.3 L1604.3 390.2 L1605.5 390.2 L1606.7 390.2 L1607.8 390.2 L1609.0 390.2 L1610.2 390.2 L1611.4 390.2 L1612.6 390.2 L1613.7 390.2 L1614.9 390.2 L1616.1 390.2 L1617.3 390.2 L1618.4 390.2 L1619.6 390.2 L1620.8 390.2 L1622.0 390.2 L1623.2 390.2 L1624.3 390.2 L1625.5 390.2 L1626.7 390.2 L1627.9 390.1 L1629.0 390.1 L1630.2 390.1 L1631.4 390.1 L1632.6 390.1 L1633.8 390.1 L1634.9 390.1 L1636.1 390.1 L1637.3 390.1 L1638.5 390.1 L1639.7 390.1 L1640.8 390.1 L1642.0 390.1 L1643.2 390.1 L1644.4 390.1 L1645.5 390.1 L1646.7 390.1 L1647.9 390.1 L1649.1 390.1 L1650.3 390.1 L1651.4 390.1 L1652.6 390.1 L1653.8 390.1 L1655.0 390.1 L1656.1 390.1 L1657.3 390.1 L1658.5 390.1 L1659.7 390.1 L1660.9 390.0 L1662.0 390.0 L1663.2 390.0 L1664.4 390.0 L1665.6 390.0 L1666.8 390.0 L1667.9 390.0 L1669.1 390.0 L1670.3 390.0 L1671.5 390.0 L1672.6 390.0 L1673.8 390.0 L1675.0 390.0 L1676.2 390.0 L1677.4 390.0 L1678.5 390.0 L1679.7 390.0 L1680.9 390.0 L1682.1 390.0 L1683.2 390.0 L1684.4 390.0 L1685.6 390.0 L1686.8 390.0 L1688.0 390.0 L1689.1 390.0 L1690.3 390.0 L1691.5 390.0 L1692.7 390.0 L1693.9 390.0 L1695.0 390.0 L1696.2 390.0 L1697.4 390.0 L1698.6 390.0 L1699.7 390.0 L1700.9 390.0 L1702.1 390.0 L1703.3 390.0 L1704.5 390.0 L1705.6 390.0 L1706.8 390.0 L1708.0 390.0 L1709.2 389.9 L1710.3 389.9 L1711.5 389.9 L1712.7 389.9 L1713.9 389.9 L1715.1 389.9 L1716.2 389.9 L1717.4 389.9 L1718.6 389.9 L1719.8 389.9 L1720.9 389.9 L1722.1 389.9 L1723.3 389.9 L1724.5 389.9 L1725.7 389.9 L1726.8 389.9 L1728.0 389.9 L1729.2 389.9 L1730.4 389.9 L1731.6 389.9 L1732.7 389.9 L1733.9 389.9 L1735.1 389.9 L1736.3 389.9 L1737.4 389.9 L1738.6 389.9 L1739.8 389.9 L1741.0 389.9 L1742.2 389.9 L1743.3 389.9 L1744.5 389.9 L1745.7 389.9 L1746.9 389.9 L1748.0 389.9 L1749.2 389.9 L1750.4 389.9" stroke="#0072BD" stroke-width="2.9" fill="none" stroke-linejoin="round"/>
<path d="M1300.8 490.2 L1300.9 489.7 L1301.0 489.3 L1301.0 488.8 L1301.1 488.4 L1301.2 487.9 L1301.2 487.4 L1301.3 486.9 L1301.4 486.5 L1301.4 486.0 L1301.5 485.5 L1301.6 485.0 L1301.6 484.6 L1301.7 484.1 L1301.7 483.6 L1301.8 483.1 L1301.9 482.6 L1301.9 482.2 L1302.0 481.7 L1302.1 481.2 L1302.1 480.7 L1302.2 480.2 L1302.2 479.7 L1302.3 479.2 L1302.4 478.7 L1302.4 478.3 L1302.5 477.8 L1302.6 477.3 L1302.7 476.8 L1302.7 476.3 L1302.8 475.8 L1302.9 475.3 L1303.0 474.9 L1303.1 474.4 L1303.2 473.9 L1303.3 473.4 L1303.4 472.9 L1303.5 472.4 L1303.6 472.0 L1303.7 471.5 L1303.8 471.0 L1303.9 470.5 L1304.0 470.1 L1304.1 469.6 L1304.3 469.1 L1304.4 468.7 L1304.5 468.2 L1304.7 467.8 L1304.8 467.3 L1305.0 466.8 L1305.1 466.4 L1305.3 465.9 L1305.5 465.5 L1305.7 465.1 L1305.8 464.6 L1306.0 464.2 L1306.2 463.7 L1306.4 463.3 L1306.6 462.9 L1306.9 462.5 L1307.5 461.3 L1308.2 460.1 L1308.9 459.0 L1309.6 457.9 L1310.4 456.8 L1311.2 455.7 L1312.0 454.7 L1312.8 453.6 L1313.7 452.5 L1314.5 451.5 L1315.3 450.4 L1316.1 449.3 L1316.9 448.2 L1317.7 447.1 L1318.5 446.0 L1319.3 444.9 L1320.0 443.8 L1320.7 442.7 L1321.5 441.6 L1322.2 440.4 L1322.9 439.3 L1323.6 438.2 L1324.3 437.0 L1324.9 435.8 L1325.6 434.7 L1326.2 433.5 L1326.9 432.4 L1327.5 431.2 L1328.1 430.0 L1328.8 428.8 L1329.4 427.6 L1330.0 426.4 L1330.6 425.2 L1331.1 424.0 L1331.7 422.8 L1332.3 421.6 L1332.8 420.4 L1333.4 419.2 L1333.9 417.9 L1334.5 416.7 L1335.0 415.5 L1335.6 414.3 L1336.1 413.0 L1336.6 411.8 L1337.1 410.5 L1337.6 409.3 L1338.1 408.0 L1338.6 406.8 L1339.1 405.5 L1339.6 404.3 L1340.1 403.0 L1340.6 401.8 L1341.1 400.5 L1341.6 399.3 L1342.0 398.0 L1342.5 396.7 L1343.0 395.5 L1343.5 394.2 L1343.9 392.9 L1344.4 391.7 L1344.9 390.4 L1345.4 389.1 L1345.8 387.9 L1346.3 386.6 L1346.8 385.3 L1347.2 384.1 L1347.7 382.8 L1348.2 381.5 L1348.7 380.3 L1349.1 379.0 L1349.6 377.7 L1350.1 376.5 L1350.6 375.2 L1351.1 374.0 L1351.6 372.7 L1352.0 371.4 L1352.5 370.2 L1353.0 368.9 L1353.5 367.7 L1354.1 366.4 L1354.6 365.2 L1355.1 363.9 L1355.6 362.7 L1356.1 361.5 L1356.7 360.2 L1357.2 359.0 L1357.8 357.8 L1358.3 356.5 L1358.9 355.3 L1359.4 354.1 L1360.0 352.9 L1360.6 351.7 L1361.2 350.4 L1361.8 349.2 L1362.4 348.0 L1363.0 346.8 L1363.7 345.7 L1364.3 344.5 L1364.9 343.3 L1365.6 342.1 L1366.3 340.9 L1366.9 339.8 L1367.6 338.6 L1368.3 337.5 L1369.0 336.3 L1369.7 335.2 L1370.5 334.0 L1371.2 332.9 L1372.0 331.8 L1372.7 330.7 L1373.5 329.6 L1374.3 328.5 L1375.1 327.4 L1376.0 326.3 L1376.8 325.2 L1377.6 324.1 L1378.5 323.0 L1379.4 322.0 L1380.3 320.9 L1381.2 319.9 L1382.1 318.9 L1383.1 317.9 L1384.0 316.9 L1385.0 316.0 L1386.0 315.0 L1387.0 314.1 L1388.0 313.2 L1389.0 312.3 L1390.1 311.5 L1391.2 310.6 L1392.2 309.8 L1393.3 309.0 L1394.5 308.3 L1395.6 307.6 L1396.8 306.9 L1397.9 306.2 L1399.1 305.6 L1400.3 305.0 L1401.5 304.4 L1402.7 303.9 L1404.0 303.4 L1405.2 302.8 L1406.5 302.4 L1407.7 301.9 L1409.0 301.4 L1410.3 301.0 L1411.6 300.6 L1412.9 300.2 L1414.1 299.8 L1415.4 299.4 L1416.7 299.0 L1418.0 298.6 L1419.3 298.3 L1420.6 297.9 L1421.9 297.6 L1423.2 297.3 L1424.5 296.9 L1425.8 296.6 L1427.1 296.3 L1428.4 296.0 L1429.8 295.8 L1431.1 295.5 L1432.4 295.2 L1433.7 295.0 L1435.0 294.7 L1436.3 294.5 L1437.7 294.2 L1439.0 294.0 L1440.3 293.8 L1441.6 293.6 L1443.0 293.4 L1444.3 293.2 L1445.6 293.0 L1446.9 292.8 L1448.3 292.6 L1449.6 292.4 L1450.9 292.3 L1452.3 292.1 L1453.6 292.0 L1454.9 291.8 L1456.3 291.7 L1457.6 291.5 L1459.0 291.4 L1460.3 291.3 L1461.6 291.2 L1463.0 291.0 L1464.3 290.9 L1465.7 290.8 L1467.0 290.7 L1468.4 290.6 L1469.7 290.5 L1471.1 290.4 L1472.4 290.4 L1473.7 290.3 L1475.1 290.2 L1476.4 290.1 L1477.8 290.1 L1479.1 290.0 L1480.5 289.9 L1481.8 289.9 L1483.2 289.8 L1484.5 289.7 L1485.9 289.7 L1487.2 289.6 L1488.6 289.6 L1489.9 289.5 L1491.3 289.5 L1492.7 289.4 L1494.0 289.4 L1495.4 289.3 L1496.7 289.3 L1498.1 289.3 L1499.4 289.2 L1500.8 289.2 L1502.1 289.1 L1503.5 289.1 L1504.8 289.1 L1506.2 289.0 L1507.5 289.0 L1508.9 289.0 L1510.2 288.9 L1511.6 288.9 L1512.9 288.8 L1514.3 288.8 L1515.6 288.8 L1517.0 288.8 L1518.3 288.7 L1519.7 288.7 L1521.0 288.7 L1522.4 288.6 L1523.7 288.6 L1525.1 288.6 L1526.4 288.5 L1527.8 288.5 L1529.1 288.5 L1530.5 288.5 L1531.8 288.4 L1533.2 288.4 L1534.5 288.4 L1535.9 288.4 L1537.2 288.3 L1538.6 288.3 L1539.9 288.3 L1541.3 288.3 L1542.6 288.2 L1544.0 288.2 L1545.3 288.2 L1546.7 288.2 L1548.0 288.2 L1549.3 288.1 L1550.7 288.1 L1552.0 288.1 L1553.4 288.1 L1554.7 288.1 L1556.1 288.0 L1557.4 288.0 L1558.8 288.0 L1560.1 288.0 L1561.5 288.0 L1562.8 287.9 L1564.2 287.9 L1565.5 287.9 L1566.9 287.9 L1568.2 287.9 L1569.6 287.9 L1570.9 287.8 L1572.3 287.8 L1573.6 287.8 L1575.0 287.8 L1576.3 287.8 L1577.7 287.8 L1579.0 287.8 L1580.4 287.7 L1581.7 287.7 L1583.1 287.7 L1584.4 287.7 L1585.8 287.7 L1587.1 287.7 L1588.5 287.7 L1589.8 287.6 L1591.2 287.6 L1592.5 287.6 L1593.9 287.6 L1595.2 287.6 L1596.6 287.6 L1597.9 287.6 L1599.2 287.6 L1600.6 287.5 L1601.9 287.5 L1603.3 287.5 L1604.6 287.5 L1606.0 287.5 L1607.3 287.5 L1608.7 287.5 L1610.0 287.5 L1611.4 287.5 L1612.7 287.4 L1614.1 287.4 L1615.4 287.4 L1616.8 287.4 L1618.1 287.4 L1619.5 287.4 L1620.8 287.4 L1622.2 287.4 L1623.5 287.3 L1624.9 287.3 L1626.2 287.3 L1627.6 287.3 L1628.9 287.3 L1630.3 287.3 L1631.6 287.3 L1633.0 287.3 L1634.3 287.3 L1635.7 287.3 L1637.0 287.2 L1638.4 287.2 L1639.7 287.2 L1641.1 287.2 L1642.4 287.2 L1643.8 287.2 L1645.1 287.2 L1646.5 287.2 L1647.8 287.2 L1649.2 287.2 L1650.5 287.2 L1651.9 287.1 L1653.2 287.1 L1654.6 287.1 L1655.9 287.1 L1657.3 287.1 L1658.6 287.1 L1660.0 287.1 L1661.3 287.1 L1662.7 287.1 L1664.0 287.1 L1665.4 287.1 L1666.7 287.0 L1668.1 287.0 L1669.4 287.0 L1670.8 287.0 L1672.1 287.0 L1673.5 287.0 L1674.8 287.0 L1676.2 287.0 L1677.5 287.0 L1678.9 287.0 L1680.2 287.0 L1681.6 287.0 L1682.9 287.0 L1684.3 287.0 L1685.6 286.9 L1687.0 286.9 L1688.3 286.9 L1689.7 286.9 L1691.0 286.9 L1692.4 286.9 L1693.7 286.9 L1695.1 286.9 L1696.4 286.9 L1697.8 286.9 L1699.1 286.9 L1700.5 286.9 L1701.8 286.9 L1703.2 286.9 L1704.5 286.9 L1705.9 286.9 L1707.2 286.8 L1708.6 286.8 L1709.9 286.8 L1711.3 286.8 L1712.6 286.8 L1714.0 286.8 L1715.3 286.8 L1716.7 286.8 L1718.0 286.8 L1719.4 286.8 L1720.7 286.8 L1722.1 286.8 L1723.4 286.8 L1724.8 286.8 L1726.1 286.8 L1727.5 286.8 L1728.8 286.8 L1730.2 286.8 L1731.5 286.8 L1732.9 286.8 L1734.2 286.7 L1735.6 286.7 L1736.9 286.7 L1738.3 286.7 L1739.6 286.7 L1741.0 286.7 L1742.3 286.7 L1743.7 286.7 L1745.0 286.7 L1746.4 286.7 L1747.7 286.7 L1749.0 286.7 L1750.4 286.7" stroke="#D95319" stroke-width="2.9" fill="none" stroke-linejoin="round"/>
<path d="M1300.8 490.2 L1300.9 489.7 L1301.0 489.1 L1301.0 488.6 L1301.1 488.0 L1301.2 487.5 L1301.3 486.9 L1301.4 486.4 L1301.5 485.8 L1301.6 485.3 L1301.7 484.7 L1301.8 484.2 L1301.9 483.7 L1302.0 483.1 L1302.1 482.6 L1302.2 482.0 L1302.3 481.5 L1302.4 480.9 L1302.5 480.4 L1302.7 479.9 L1302.8 479.3 L1302.9 478.8 L1303.0 478.2 L1303.1 477.7 L1303.2 477.1 L1303.4 476.6 L1303.5 476.0 L1303.6 475.5 L1303.7 475.0 L1303.9 474.4 L1304.0 473.9 L1304.1 473.3 L1304.3 472.8 L1304.4 472.2 L1304.5 471.7 L1304.7 471.2 L1304.8 470.6 L1304.9 470.1 L1305.1 469.5 L1305.2 469.0 L1305.4 468.4 L1305.5 467.9 L1305.6 467.4 L1305.8 466.8 L1305.9 466.3 L1306.1 465.7 L1306.2 465.2 L1306.4 464.7 L1306.5 464.1 L1306.7 463.6 L1306.8 463.0 L1307.0 462.5 L1307.1 461.9 L1307.3 461.4 L1307.4 460.9 L1307.6 460.3 L1307.7 459.8 L1307.9 459.2 L1308.0 458.7 L1308.2 458.2 L1308.6 456.6 L1309.1 455.1 L1309.5 453.6 L1310.0 452.1 L1310.4 450.6 L1310.9 449.1 L1311.4 447.5 L1311.8 446.0 L1312.3 444.5 L1312.7 443.0 L1313.2 441.5 L1313.7 440.0 L1314.1 438.5 L1314.6 436.9 L1315.0 435.4 L1315.5 433.9 L1315.9 432.4 L1316.4 430.9 L1316.8 429.4 L1317.3 427.9 L1317.7 426.4 L1318.2 424.9 L1318.6 423.4 L1319.0 421.9 L1319.5 420.3 L1319.9 418.8 L1320.3 417.3 L1320.8 415.8 L1321.2 414.3 L1321.6 412.8 L1322.1 411.3 L1322.5 409.8 L1322.9 408.3 L1323.3 406.8 L1323.8 405.3 L1324.2 403.8 L1324.6 402.3 L1325.0 400.8 L1325.4 399.3 L1325.9 397.8 L1326.3 396.3 L1326.7 394.8 L1327.1 393.3 L1327.5 391.7 L1327.9 390.2 L1328.3 388.7 L1328.8 387.2 L1329.2 385.7 L1329.6 384.2 L1330.0 382.7 L1330.4 381.2 L1330.8 379.7 L1331.2 378.2 L1331.6 376.7 L1332.0 375.2 L1332.4 373.7 L1332.8 372.2 L1333.2 370.7 L1333.6 369.1 L1334.0 367.6 L1334.4 366.1 L1334.8 364.6 L1335.2 363.1 L1335.6 361.6 L1335.9 360.1 L1336.3 358.6 L1336.7 357.1 L1337.1 355.5 L1337.5 354.0 L1337.9 352.5 L1338.3 351.0 L1338.7 349.5 L1339.1 348.0 L1339.5 346.4 L1339.8 344.9 L1340.2 343.4 L1340.6 341.9 L1341.0 340.4 L1341.4 338.8 L1341.8 337.3 L1342.1 335.8 L1342.5 334.3 L1342.9 332.7 L1343.3 331.2 L1343.7 329.7 L1344.1 328.2 L1344.4 326.6 L1344.8 325.1 L1345.2 323.6 L1345.6 322.0 L1346.0 320.5 L1346.3 319.0 L1346.7 317.4 L1347.1 315.9 L1347.5 314.3 L1347.9 312.8 L1348.2 311.3 L1348.6 309.7 L1349.0 308.2 L1349.4 306.6 L1349.8 305.1 L1350.2 303.5 L1350.5 302.0 L1350.9 300.5 L1351.3 298.9 L1351.7 297.4 L1352.1 295.8 L1352.5 294.3 L1352.9 292.7 L1353.3 291.2 L1353.7 289.7 L1354.1 288.1 L1354.6 286.6 L1355.0 285.1 L1355.4 283.5 L1355.8 282.0 L1356.3 280.5 L1356.7 279.0 L1357.2 277.4 L1357.6 275.9 L1358.1 274.4 L1358.6 272.9 L1359.1 271.4 L1359.5 269.9 L1360.0 268.4 L1360.5 266.9 L1361.0 265.4 L1361.6 263.9 L1362.1 262.4 L1362.6 260.9 L1363.2 259.5 L1363.7 258.0 L1364.3 256.5 L1364.9 255.1 L1365.5 253.6 L1366.1 252.2 L1366.7 250.7 L1367.3 249.3 L1367.9 247.9 L1368.6 246.5 L1369.2 245.1 L1369.9 243.6 L1370.6 242.2 L1371.3 240.9 L1372.0 239.5 L1372.7 238.1 L1373.4 236.7 L1374.2 235.4 L1374.9 234.0 L1375.7 232.7 L1376.5 231.3 L1377.3 230.0 L1378.1 228.7 L1379.0 227.4 L1379.8 226.1 L1380.7 224.8 L1381.6 223.5 L1382.5 222.2 L1383.4 220.9 L1384.4 219.7 L1385.3 218.5 L1386.3 217.3 L1387.3 216.1 L1388.3 214.9 L1389.4 213.8 L1390.4 212.6 L1391.5 211.5 L1392.6 210.5 L1393.8 209.4 L1394.9 208.4 L1396.1 207.4 L1397.3 206.5 L1398.6 205.6 L1399.8 204.7 L1401.1 203.9 L1402.5 203.1 L1403.8 202.3 L1405.2 201.6 L1406.6 200.9 L1408.0 200.2 L1409.4 199.6 L1410.9 199.0 L1412.3 198.4 L1413.8 197.9 L1415.3 197.3 L1416.8 196.8 L1418.3 196.3 L1419.9 195.9 L1421.4 195.4 L1422.9 195.0 L1424.4 194.5 L1426.0 194.1 L1427.5 193.7 L1429.0 193.3 L1430.5 192.9 L1432.1 192.6 L1433.6 192.2 L1435.2 191.8 L1436.7 191.5 L1438.2 191.2 L1439.8 190.9 L1441.3 190.6 L1442.9 190.3 L1444.4 190.0 L1446.0 189.7 L1447.5 189.4 L1449.1 189.2 L1450.6 188.9 L1452.2 188.7 L1453.7 188.5 L1455.3 188.2 L1456.8 188.0 L1458.4 187.8 L1459.9 187.6 L1461.5 187.4 L1463.0 187.3 L1464.6 187.1 L1466.2 186.9 L1467.7 186.7 L1469.3 186.6 L1470.9 186.4 L1472.4 186.3 L1474.0 186.2 L1475.5 186.0 L1477.1 185.9 L1478.7 185.8 L1480.2 185.7 L1481.8 185.6 L1483.4 185.5 L1484.9 185.4 L1486.5 185.3 L1488.1 185.2 L1489.7 185.1 L1491.2 185.0 L1492.8 185.0 L1494.4 184.9 L1495.9 184.8 L1497.5 184.7 L1499.1 184.7 L1500.7 184.6 L1502.2 184.5 L1503.8 184.5 L1505.4 184.4 L1506.9 184.4 L1508.5 184.3 L1510.1 184.3 L1511.7 184.2 L1513.2 184.2 L1514.8 184.1 L1516.4 184.1 L1517.9 184.0 L1519.5 184.0 L1521.1 183.9 L1522.7 183.9 L1524.2 183.8 L1525.8 183.8 L1527.4 183.8 L1528.9 183.7 L1530.5 183.7 L1532.1 183.6 L1533.7 183.6 L1535.2 183.5 L1536.8 183.5 L1538.4 183.4 L1539.9 183.4 L1541.5 183.4 L1543.1 183.3 L1544.7 183.3 L1546.2 183.2 L1547.8 183.2 L1549.4 183.2 L1550.9 183.1 L1552.5 183.1 L1554.1 183.0 L1555.6 183.0 L1557.2 183.0 L1558.8 182.9 L1560.3 182.9 L1561.9 182.9 L1563.5 182.8 L1565.1 182.8 L1566.6 182.8 L1568.2 182.7 L1569.8 182.7 L1571.3 182.6 L1572.9 182.6 L1574.5 182.6 L1576.0 182.6 L1577.6 182.5 L1579.2 182.5 L1580.8 182.5 L1582.3 182.4 L1583.9 182.4 L1585.5 182.4 L1587.0 182.3 L1588.6 182.3 L1590.2 182.3 L1591.7 182.3 L1593.3 182.2 L1594.9 182.2 L1596.4 182.2 L1598.0 182.2 L1599.6 182.1 L1601.2 182.1 L1602.7 182.1 L1604.3 182.1 L1605.9 182.0 L1607.4 182.0 L1609.0 182.0 L1610.6 182.0 L1612.2 181.9 L1613.7 181.9 L1615.3 181.9 L1616.9 181.9 L1618.4 181.9 L1620.0 181.8 L1621.6 181.8 L1623.1 181.8 L1624.7 181.8 L1626.3 181.8 L1627.9 181.8 L1629.4 181.7 L1631.0 181.7 L1632.6 181.7 L1634.1 181.7 L1635.7 181.7 L1637.3 181.7 L1638.9 181.6 L1640.4 181.6 L1642.0 181.6 L1643.6 181.6 L1645.1 181.6 L1646.7 181.6 L1648.3 181.6 L1649.9 181.5 L1651.4 181.5 L1653.0 181.5 L1654.6 181.5 L1656.1 181.5 L1657.7 181.5 L1659.3 181.5 L1660.9 181.5 L1662.4 181.5 L1664.0 181.4 L1665.6 181.4 L1667.1 181.4 L1668.7 181.4 L1670.3 181.4 L1671.9 181.4 L1673.4 181.4 L1675.0 181.4 L1676.6 181.4 L1678.1 181.4 L1679.7 181.4 L1681.3 181.3 L1682.9 181.3 L1684.4 181.3 L1686.0 181.3 L1687.6 181.3 L1689.1 181.3 L1690.7 181.3 L1692.3 181.3 L1693.9 181.3 L1695.4 181.3 L1697.0 181.3 L1698.6 181.3 L1700.1 181.3 L1701.7 181.3 L1703.3 181.2 L1704.9 181.2 L1706.4 181.2 L1708.0 181.2 L1709.6 181.2 L1711.1 181.2 L1712.7 181.2 L1714.3 181.2 L1715.8 181.2 L1717.4 181.2 L1719.0 181.2 L1720.6 181.2 L1722.1 181.2 L1723.7 181.2 L1725.3 181.2 L1726.8 181.2 L1728.4 181.2 L1730.0 181.2 L1731.6 181.2 L1733.1 181.1 L1734.7 181.1 L1736.3 181.1 L1737.8 181.1 L1739.4 181.1 L1741.0 181.1 L1742.5 181.1 L1744.1 181.1 L1745.7 181.1 L1747.3 181.1 L1748.8 181.1 L1750.4 181.1" stroke="#EDB120" stroke-width="2.9" fill="none" stroke-linejoin="round"/>
<path d="M1300.8 490.2 L1300.9 489.6 L1300.9 489.0 L1301.0 488.4 L1301.1 487.8 L1301.2 487.2 L1301.3 486.5 L1301.3 485.9 L1301.4 485.3 L1301.5 484.7 L1301.6 484.1 L1301.7 483.5 L1301.8 482.9 L1301.8 482.3 L1301.9 481.7 L1302.0 481.1 L1302.1 480.5 L1302.2 479.9 L1302.3 479.2 L1302.4 478.6 L1302.5 478.0 L1302.6 477.4 L1302.7 476.8 L1302.8 476.2 L1302.9 475.6 L1303.0 475.0 L1303.1 474.4 L1303.2 473.8 L1303.3 473.2 L1303.4 472.6 L1303.5 472.0 L1303.6 471.4 L1303.7 470.8 L1303.8 470.2 L1303.9 469.5 L1304.0 468.9 L1304.2 468.3 L1304.3 467.7 L1304.4 467.1 L1304.5 466.5 L1304.6 465.9 L1304.7 465.3 L1304.8 464.7 L1305.0 464.1 L1305.1 463.5 L1305.2 462.9 L1305.3 462.3 L1305.4 461.7 L1305.6 461.1 L1305.7 460.5 L1305.8 459.9 L1305.9 459.3 L1306.1 458.7 L1306.2 458.1 L1306.3 457.5 L1306.4 456.9 L1306.6 456.3 L1306.7 455.7 L1306.8 455.1 L1306.9 454.5 L1307.3 452.8 L1307.7 451.1 L1308.0 449.4 L1308.4 447.7 L1308.8 446.0 L1309.2 444.3 L1309.6 442.7 L1310.0 441.0 L1310.4 439.3 L1310.7 437.6 L1311.1 435.9 L1311.5 434.3 L1311.9 432.6 L1312.3 430.9 L1312.8 429.2 L1313.2 427.5 L1313.6 425.9 L1314.0 424.2 L1314.4 422.5 L1314.8 420.8 L1315.2 419.2 L1315.6 417.5 L1316.0 415.8 L1316.5 414.1 L1316.9 412.5 L1317.3 410.8 L1317.7 409.1 L1318.1 407.4 L1318.5 405.8 L1318.9 404.1 L1319.4 402.4 L1319.8 400.7 L1320.2 399.1 L1320.6 397.4 L1321.0 395.7 L1321.4 394.0 L1321.8 392.4 L1322.2 390.7 L1322.7 389.0 L1323.1 387.3 L1323.5 385.7 L1323.9 384.0 L1324.3 382.3 L1324.7 380.6 L1325.1 378.9 L1325.5 377.3 L1325.9 375.6 L1326.3 373.9 L1326.7 372.2 L1327.0 370.5 L1327.4 368.9 L1327.8 367.2 L1328.2 365.5 L1328.6 363.8 L1328.9 362.1 L1329.3 360.4 L1329.7 358.8 L1330.0 357.1 L1330.4 355.4 L1330.8 353.7 L1331.1 352.0 L1331.5 350.3 L1331.8 348.6 L1332.1 346.9 L1332.5 345.2 L1332.8 343.5 L1333.1 341.8 L1333.5 340.1 L1333.8 338.4 L1334.1 336.7 L1334.4 335.0 L1334.7 333.3 L1335.0 331.6 L1335.3 329.9 L1335.6 328.2 L1335.9 326.5 L1336.2 324.8 L1336.5 323.0 L1336.8 321.3 L1337.0 319.6 L1337.3 317.9 L1337.6 316.2 L1337.9 314.5 L1338.2 312.8 L1338.4 311.1 L1338.7 309.4 L1339.0 307.7 L1339.3 306.0 L1339.6 304.2 L1339.8 302.5 L1340.1 300.8 L1340.4 299.1 L1340.7 297.4 L1341.0 295.7 L1341.2 294.0 L1341.5 292.3 L1341.8 290.6 L1342.1 288.9 L1342.4 287.3 L1342.7 285.6 L1343.0 283.9 L1343.3 282.2 L1343.6 280.5 L1343.9 278.8 L1344.2 277.1 L1344.5 275.4 L1344.9 273.7 L1345.2 272.1 L1345.5 270.4 L1345.8 268.7 L1346.1 267.0 L1346.5 265.3 L1346.8 263.6 L1347.1 262.0 L1347.5 260.3 L1347.8 258.6 L1348.2 256.9 L1348.5 255.2 L1348.9 253.6 L1349.2 251.9 L1349.6 250.2 L1349.9 248.5 L1350.3 246.9 L1350.7 245.2 L1351.0 243.5 L1351.4 241.8 L1351.8 240.2 L1352.2 238.5 L1352.5 236.8 L1352.9 235.1 L1353.3 233.5 L1353.7 231.8 L1354.1 230.1 L1354.5 228.4 L1354.9 226.8 L1355.3 225.1 L1355.8 223.4 L1356.2 221.7 L1356.6 220.1 L1357.0 218.4 L1357.5 216.7 L1357.9 215.0 L1358.4 213.4 L1358.8 211.7 L1359.3 210.0 L1359.7 208.3 L1360.2 206.6 L1360.7 205.0 L1361.1 203.3 L1361.6 201.6 L1362.1 199.9 L1362.6 198.2 L1363.1 196.5 L1363.6 194.9 L1364.1 193.2 L1364.6 191.5 L1365.1 189.8 L1365.6 188.1 L1366.2 186.4 L1366.7 184.8 L1367.3 183.1 L1367.9 181.4 L1368.5 179.8 L1369.1 178.1 L1369.7 176.5 L1370.3 174.9 L1371.0 173.3 L1371.7 171.7 L1372.4 170.1 L1373.1 168.5 L1373.8 167.0 L1374.6 165.4 L1375.4 163.9 L1376.2 162.4 L1377.1 160.9 L1377.9 159.5 L1378.8 158.0 L1379.8 156.6 L1380.7 155.2 L1381.7 153.9 L1382.8 152.5 L1383.9 151.2 L1385.0 149.9 L1386.1 148.7 L1387.2 147.5 L1388.4 146.3 L1389.7 145.1 L1390.9 144.0 L1392.2 142.9 L1393.5 141.8 L1394.8 140.8 L1396.2 139.8 L1397.5 138.8 L1398.9 137.9 L1400.4 137.0 L1401.8 136.2 L1403.3 135.3 L1404.8 134.6 L1406.3 133.8 L1407.9 133.1 L1409.4 132.4 L1411.0 131.8 L1412.6 131.2 L1414.2 130.6 L1415.8 130.0 L1417.5 129.5 L1419.1 129.0 L1420.8 128.5 L1422.5 128.1 L1424.2 127.6 L1425.9 127.2 L1427.6 126.8 L1429.3 126.5 L1431.0 126.1 L1432.7 125.8 L1434.5 125.5 L1436.2 125.2 L1437.9 124.9 L1439.7 124.6 L1441.4 124.3 L1443.1 124.1 L1444.9 123.9 L1446.6 123.6 L1448.3 123.4 L1450.1 123.2 L1451.8 123.0 L1453.5 122.8 L1455.3 122.6 L1457.0 122.4 L1458.7 122.3 L1460.4 122.1 L1462.2 121.9 L1463.9 121.8 L1465.6 121.6 L1467.3 121.5 L1469.0 121.3 L1470.8 121.2 L1472.5 121.1 L1474.2 121.0 L1475.9 120.8 L1477.6 120.7 L1479.3 120.6 L1481.1 120.5 L1482.8 120.4 L1484.5 120.3 L1486.2 120.2 L1487.9 120.1 L1489.7 120.0 L1491.4 119.9 L1493.1 119.8 L1494.8 119.8 L1496.5 119.7 L1498.3 119.6 L1500.0 119.5 L1501.7 119.4 L1503.4 119.4 L1505.2 119.3 L1506.9 119.2 L1508.6 119.2 L1510.3 119.1 L1512.1 119.0 L1513.8 119.0 L1515.5 118.9 L1517.2 118.9 L1519.0 118.8 L1520.7 118.8 L1522.4 118.7 L1524.1 118.7 L1525.9 118.6 L1527.6 118.6 L1529.3 118.5 L1531.0 118.5 L1532.8 118.5 L1534.5 118.4 L1536.2 118.4 L1538.0 118.3 L1539.7 118.3 L1541.4 118.3 L1543.1 118.2 L1544.9 118.2 L1546.6 118.2 L1548.3 118.1 L1550.1 118.1 L1551.8 118.1 L1553.5 118.1 L1555.2 118.0 L1557.0 118.0 L1558.7 118.0 L1560.4 117.9 L1562.1 117.9 L1563.9 117.9 L1565.6 117.9 L1567.3 117.8 L1569.1 117.8 L1570.8 117.8 L1572.5 117.7 L1574.2 117.7 L1576.0 117.7 L1577.7 117.7 L1579.4 117.6 L1581.2 117.6 L1582.9 117.6 L1584.6 117.6 L1586.3 117.5 L1588.1 117.5 L1589.8 117.5 L1591.5 117.4 L1593.2 117.4 L1595.0 117.4 L1596.7 117.4 L1598.4 117.3 L1600.2 117.3 L1601.9 117.3 L1603.6 117.3 L1605.3 117.2 L1607.1 117.2 L1608.8 117.2 L1610.5 117.1 L1612.2 117.1 L1614.0 117.1 L1615.7 117.1 L1617.4 117.0 L1619.2 117.0 L1620.9 117.0 L1622.6 117.0 L1624.3 116.9 L1626.1 116.9 L1627.8 116.9 L1629.5 116.8 L1631.2 116.8 L1633.0 116.8 L1634.7 116.8 L1636.4 116.7 L1638.1 116.7 L1639.9 116.7 L1641.6 116.7 L1643.3 116.6 L1645.1 116.6 L1646.8 116.6 L1648.5 116.6 L1650.2 116.6 L1652.0 116.5 L1653.7 116.5 L1655.4 116.5 L1657.1 116.5 L1658.9 116.4 L1660.6 116.4 L1662.3 116.4 L1664.0 116.4 L1665.8 116.4 L1667.5 116.3 L1669.2 116.3 L1671.0 116.3 L1672.7 116.3 L1674.4 116.3 L1676.1 116.2 L1677.9 116.2 L1679.6 116.2 L1681.3 116.2 L1683.0 116.2 L1684.8 116.1 L1686.5 116.1 L1688.2 116.1 L1689.9 116.1 L1691.7 116.1 L1693.4 116.1 L1695.1 116.1 L1696.8 116.0 L1698.6 116.0 L1700.3 116.0 L1702.0 116.0 L1703.8 116.0 L1705.5 116.0 L1707.2 116.0 L1708.9 116.0 L1710.7 115.9 L1712.4 115.9 L1714.1 115.9 L1715.8 115.9 L1717.6 115.9 L1719.3 115.9 L1721.0 115.9 L1722.8 115.9 L1724.5 115.9 L1726.2 115.9 L1727.9 115.9 L1729.7 115.9 L1731.4 115.9 L1733.1 115.9 L1734.8 115.9 L1736.6 115.9 L1738.3 115.9 L1740.0 115.9 L1741.8 115.9 L1743.5 115.9 L1745.2 115.9 L1746.9 115.9 L1748.7 115.9 L1750.4 115.9" stroke="#7E2F8E" stroke-width="2.9" fill="none" stroke-linejoin="round"/>
<path d="M1300.80 490.20v-4.5M1300.80 104.30v4.5M1390.72 490.20v-4.5M1390.72 104.30v4.5M1480.64 490.20v-4.5M1480.64 104.30v4.5M1570.56 490.20v-4.5M1570.56 104.30v4.5M1660.48 490.20v-4.5M1660.48 104.30v4.5M1750.40 490.20v-4.5M1750.40 104.30v4.5M1300.80 490.20h4.5M1750.40 490.20h-4.5M1300.80 425.88h4.5M1750.40 425.88h-4.5M1300.80 361.57h4.5M1750.40 361.57h-4.5M1300.80 297.25h4.5M1750.40 297.25h-4.5M1300.80 232.93h4.5M1750.40 232.93h-4.5M1300.80 168.62h4.5M1750.40 168.62h-4.5M1300.80 104.30h4.5M1750.40 104.30h-4.5" stroke="#262626" stroke-width="1.1" fill="none"/>
<rect x="1300.80" y="104.30" width="449.60" height="385.90" stroke="#262626" stroke-width="1.1" fill="none"/>
<g font-family="Liberation Sans, Arial, sans-serif" font-size="22" fill="#262626"><text transform="translate(1300.00 522.40) scale(1 1.03)" text-anchor="middle">0</text><text transform="translate(1389.92 522.40) scale(1 1.03)" text-anchor="middle">20</text><text transform="translate(1479.84 522.40) scale(1 1.03)" text-anchor="middle">40</text><text transform="translate(1569.76 522.40) scale(1 1.03)" text-anchor="middle">60</text><text transform="translate(1659.68 522.40) scale(1 1.03)" text-anchor="middle">80</text><text transform="translate(1749.60 522.40) scale(1 1.03)" text-anchor="middle">100</text><text transform="translate(1291.10 499.40) scale(1 1.03)" text-anchor="end">0</text><text transform="translate(1291.10 435.08) scale(1 1.03)" text-anchor="end">0.1</text><text transform="translate(1291.10 370.77) scale(1 1.03)" text-anchor="end">0.2</text><text transform="translate(1291.10 306.45) scale(1 1.03)" text-anchor="end">0.3</text><text transform="translate(1291.10 242.13) scale(1 1.03)" text-anchor="end">0.4</text><text transform="translate(1291.10 177.82) scale(1 1.03)" text-anchor="end">0.5</text><text transform="translate(1291.10 113.50) scale(1 1.03)" text-anchor="end">0.6</text></g>
<path d="M206.46 640.90V1027.20M296.42 640.90V1027.20M386.38 640.90V1027.20M476.34 640.90V1027.20" stroke="#262626" stroke-opacity="0.15" stroke-width="1.3" fill="none"/>
<path d="M116.50 930.62H566.30M116.50 834.05H566.30M116.50 737.48H566.30" stroke="#262626" stroke-opacity="0.15" stroke-width="1.3" fill="none"/>
<path d="M116.5 834.0 L116.5 834.6 L116.6 835.1 L116.6 835.6 L116.6 836.1 L116.7 836.6 L116.7 837.1 L116.8 837.6 L116.8 838.1 L116.8 838.6 L116.9 839.1 L116.9 839.6 L116.9 840.1 L117.0 840.6 L117.0 841.1 L117.0 841.6 L117.1 842.1 L117.1 842.6 L117.1 843.1 L117.2 843.6 L117.2 844.1 L117.2 844.5 L117.3 845.0 L117.3 845.5 L117.3 846.0 L117.4 846.5 L117.4 847.0 L117.4 847.5 L117.5 848.0 L117.5 848.5 L117.5 849.0 L117.6 849.5 L117.6 850.0 L117.6 850.5 L117.7 851.0 L117.7 851.5 L117.7 852.0 L117.8 852.5 L117.8 853.0 L117.8 853.5 L117.8 854.0 L117.9 854.5 L117.9 855.0 L117.9 855.5 L118.0 856.0 L118.0 856.5 L118.0 857.0 L118.1 857.5 L118.1 857.9 L118.1 858.4 L118.2 858.9 L118.2 859.4 L118.2 859.9 L118.2 860.4 L118.3 860.9 L118.3 861.4 L118.3 861.9 L118.4 862.4 L118.4 862.9 L118.4 863.4 L118.5 864.8 L118.6 866.1 L118.7 867.5 L118.8 868.9 L118.9 870.3 L119.0 871.7 L119.0 873.1 L119.1 874.4 L119.2 875.8 L119.3 877.2 L119.4 878.6 L119.5 880.0 L119.6 881.3 L119.7 882.7 L119.8 884.1 L119.9 885.5 L120.0 886.8 L120.2 888.2 L120.3 889.6 L120.4 891.0 L120.5 892.3 L120.6 893.7 L120.7 895.1 L120.9 896.5 L121.0 897.9 L121.1 899.2 L121.3 900.6 L121.4 902.0 L121.6 903.4 L121.7 904.7 L121.9 906.1 L122.0 907.5 L122.2 908.9 L122.3 910.2 L122.5 911.6 L122.7 913.0 L122.9 914.4 L123.1 915.7 L123.2 917.1 L123.4 918.5 L123.6 919.9 L123.8 921.3 L124.1 922.6 L124.3 924.0 L124.5 925.4 L124.7 926.8 L125.0 928.2 L125.2 929.5 L125.4 930.9 L125.7 932.3 L126.0 933.7 L126.2 935.1 L126.5 936.5 L126.8 937.8 L127.1 939.2 L127.4 940.6 L127.7 942.0 L128.0 943.4 L128.3 944.7 L128.7 946.1 L129.0 947.5 L129.4 948.8 L129.8 950.2 L130.2 951.6 L130.6 952.9 L131.0 954.3 L131.4 955.6 L131.9 957.0 L132.3 958.3 L132.8 959.6 L133.3 960.9 L133.8 962.3 L134.3 963.6 L134.9 964.9 L135.4 966.2 L136.0 967.4 L136.6 968.7 L137.2 970.0 L137.9 971.3 L138.5 972.5 L139.2 973.8 L139.9 975.0 L140.6 976.2 L141.3 977.4 L142.1 978.6 L142.9 979.8 L143.7 981.0 L144.5 982.2 L145.3 983.3 L146.2 984.4 L147.0 985.5 L147.9 986.6 L148.8 987.7 L149.7 988.7 L150.7 989.8 L151.6 990.8 L152.6 991.7 L153.6 992.7 L154.6 993.6 L155.6 994.5 L156.6 995.4 L157.7 996.3 L158.7 997.1 L159.8 998.0 L160.9 998.8 L162.0 999.5 L163.1 1000.3 L164.2 1001.0 L165.4 1001.7 L166.5 1002.4 L167.7 1003.1 L168.9 1003.8 L170.0 1004.4 L171.2 1005.0 L172.5 1005.6 L173.7 1006.2 L174.9 1006.8 L176.1 1007.3 L177.4 1007.8 L178.7 1008.3 L179.9 1008.8 L181.2 1009.3 L182.5 1009.8 L183.8 1010.2 L185.1 1010.7 L186.4 1011.1 L187.7 1011.5 L189.0 1011.9 L190.4 1012.3 L191.7 1012.7 L193.1 1013.0 L194.4 1013.4 L195.8 1013.7 L197.1 1014.0 L198.5 1014.3 L199.9 1014.6 L201.2 1014.9 L202.6 1015.2 L204.0 1015.4 L205.4 1015.7 L206.8 1016.0 L208.2 1016.2 L209.6 1016.4 L211.0 1016.7 L212.4 1016.9 L213.8 1017.1 L215.2 1017.3 L216.6 1017.5 L218.0 1017.7 L219.4 1017.9 L220.8 1018.0 L222.2 1018.2 L223.6 1018.4 L225.0 1018.5 L226.4 1018.7 L227.8 1018.9 L229.2 1019.0 L230.6 1019.2 L232.0 1019.3 L233.4 1019.5 L234.8 1019.6 L236.2 1019.7 L237.6 1019.9 L239.0 1020.0 L240.4 1020.1 L241.8 1020.2 L243.2 1020.4 L244.6 1020.5 L246.0 1020.6 L247.4 1020.7 L248.7 1020.8 L250.1 1020.9 L251.5 1021.0 L252.9 1021.1 L254.3 1021.2 L255.7 1021.3 L257.1 1021.4 L258.5 1021.4 L259.9 1021.5 L261.3 1021.6 L262.7 1021.7 L264.0 1021.8 L265.4 1021.8 L266.8 1021.9 L268.2 1022.0 L269.6 1022.1 L271.0 1022.1 L272.4 1022.2 L273.8 1022.2 L275.2 1022.3 L276.5 1022.4 L277.9 1022.4 L279.3 1022.5 L280.7 1022.5 L282.1 1022.6 L283.5 1022.6 L284.9 1022.7 L286.3 1022.7 L287.6 1022.8 L289.0 1022.8 L290.4 1022.9 L291.8 1022.9 L293.2 1023.0 L294.6 1023.0 L296.0 1023.1 L297.4 1023.1 L298.8 1023.2 L300.1 1023.2 L301.5 1023.2 L302.9 1023.3 L304.3 1023.3 L305.7 1023.4 L307.1 1023.4 L308.5 1023.4 L309.9 1023.5 L311.3 1023.5 L312.7 1023.5 L314.1 1023.6 L315.4 1023.6 L316.8 1023.7 L318.2 1023.7 L319.6 1023.7 L321.0 1023.8 L322.4 1023.8 L323.8 1023.8 L325.2 1023.9 L326.6 1023.9 L328.0 1023.9 L329.4 1024.0 L330.8 1024.0 L332.2 1024.0 L333.6 1024.0 L334.9 1024.1 L336.3 1024.1 L337.7 1024.1 L339.1 1024.2 L340.5 1024.2 L341.9 1024.2 L343.3 1024.2 L344.7 1024.3 L346.1 1024.3 L347.5 1024.3 L348.9 1024.4 L350.3 1024.4 L351.7 1024.4 L353.1 1024.4 L354.5 1024.4 L355.9 1024.5 L357.3 1024.5 L358.7 1024.5 L360.0 1024.5 L361.4 1024.6 L362.8 1024.6 L364.2 1024.6 L365.6 1024.6 L367.0 1024.7 L368.4 1024.7 L369.8 1024.7 L371.2 1024.7 L372.6 1024.7 L374.0 1024.8 L375.4 1024.8 L376.8 1024.8 L378.2 1024.8 L379.6 1024.8 L381.0 1024.9 L382.4 1024.9 L383.8 1024.9 L385.2 1024.9 L386.5 1024.9 L387.9 1024.9 L389.3 1025.0 L390.7 1025.0 L392.1 1025.0 L393.5 1025.0 L394.9 1025.0 L396.3 1025.0 L397.7 1025.1 L399.1 1025.1 L400.5 1025.1 L401.9 1025.1 L403.3 1025.1 L404.7 1025.1 L406.1 1025.1 L407.5 1025.2 L408.9 1025.2 L410.2 1025.2 L411.6 1025.2 L413.0 1025.2 L414.4 1025.2 L415.8 1025.2 L417.2 1025.3 L418.6 1025.3 L420.0 1025.3 L421.4 1025.3 L422.8 1025.3 L424.2 1025.3 L425.6 1025.3 L427.0 1025.3 L428.4 1025.4 L429.8 1025.4 L431.2 1025.4 L432.5 1025.4 L433.9 1025.4 L435.3 1025.4 L436.7 1025.4 L438.1 1025.4 L439.5 1025.4 L440.9 1025.5 L442.3 1025.5 L443.7 1025.5 L445.1 1025.5 L446.5 1025.5 L447.9 1025.5 L449.3 1025.5 L450.7 1025.5 L452.0 1025.5 L453.4 1025.5 L454.8 1025.6 L456.2 1025.6 L457.6 1025.6 L459.0 1025.6 L460.4 1025.6 L461.8 1025.6 L463.2 1025.6 L464.6 1025.6 L466.0 1025.6 L467.4 1025.6 L468.8 1025.6 L470.2 1025.6 L471.5 1025.7 L472.9 1025.7 L474.3 1025.7 L475.7 1025.7 L477.1 1025.7 L478.5 1025.7 L479.9 1025.7 L481.3 1025.7 L482.7 1025.7 L484.1 1025.7 L485.5 1025.7 L486.9 1025.7 L488.3 1025.7 L489.7 1025.7 L491.0 1025.8 L492.4 1025.8 L493.8 1025.8 L495.2 1025.8 L496.6 1025.8 L498.0 1025.8 L499.4 1025.8 L500.8 1025.8 L502.2 1025.8 L503.6 1025.8 L505.0 1025.8 L506.4 1025.8 L507.8 1025.8 L509.2 1025.8 L510.5 1025.8 L511.9 1025.8 L513.3 1025.9 L514.7 1025.9 L516.1 1025.9 L517.5 1025.9 L518.9 1025.9 L520.3 1025.9 L521.7 1025.9 L523.1 1025.9 L524.5 1025.9 L525.9 1025.9 L527.3 1025.9 L528.7 1025.9 L530.1 1025.9 L531.4 1025.9 L532.8 1025.9 L534.2 1025.9 L535.6 1025.9 L537.0 1025.9 L538.4 1026.0 L539.8 1026.0 L541.2 1026.0 L542.6 1026.0 L544.0 1026.0 L545.4 1026.0 L546.8 1026.0 L548.2 1026.0 L549.6 1026.0 L551.0 1026.0 L552.4 1026.0 L553.8 1026.0 L555.1 1026.0 L556.5 1026.0 L557.9 1026.0 L559.3 1026.0 L560.7 1026.0 L562.1 1026.0 L563.5 1026.1 L564.9 1026.1 L566.3 1026.1" stroke="#0072BD" stroke-width="2.9" fill="none" stroke-linejoin="round"/>
<path d="M116.5 834.1 L116.6 834.5 L116.7 835.0 L116.8 835.5 L116.9 835.9 L117.0 836.4 L117.1 836.9 L117.2 837.3 L117.3 837.8 L117.4 838.3 L117.5 838.7 L117.6 839.2 L117.7 839.7 L117.8 840.1 L117.9 840.6 L118.0 841.1 L118.1 841.5 L118.2 842.0 L118.3 842.5 L118.4 842.9 L118.5 843.4 L118.6 843.9 L118.7 844.3 L118.8 844.8 L118.9 845.3 L119.0 845.7 L119.1 846.2 L119.2 846.6 L119.3 847.1 L119.4 847.6 L119.5 848.0 L119.6 848.5 L119.7 849.0 L119.8 849.4 L119.9 849.9 L120.0 850.3 L120.1 850.8 L120.2 851.3 L120.4 851.7 L120.5 852.2 L120.6 852.7 L120.7 853.1 L120.8 853.6 L120.9 854.0 L121.0 854.5 L121.1 855.0 L121.2 855.4 L121.3 855.9 L121.4 856.4 L121.5 856.8 L121.6 857.3 L121.7 857.7 L121.9 858.2 L122.0 858.7 L122.1 859.1 L122.2 859.6 L122.3 860.0 L122.4 860.5 L122.5 861.0 L122.6 861.4 L122.9 862.7 L123.2 864.0 L123.6 865.3 L123.9 866.6 L124.2 867.9 L124.5 869.2 L124.8 870.5 L125.1 871.8 L125.5 873.1 L125.8 874.4 L126.1 875.6 L126.4 876.9 L126.7 878.2 L127.1 879.5 L127.4 880.8 L127.7 882.1 L128.0 883.4 L128.4 884.7 L128.7 886.0 L129.0 887.3 L129.3 888.6 L129.7 889.9 L130.0 891.2 L130.3 892.5 L130.7 893.8 L131.0 895.2 L131.3 896.5 L131.7 897.8 L132.0 899.1 L132.3 900.4 L132.7 901.7 L133.0 903.0 L133.3 904.3 L133.7 905.6 L134.0 906.9 L134.4 908.2 L134.7 909.6 L135.1 910.9 L135.5 912.2 L135.8 913.5 L136.2 914.8 L136.6 916.1 L137.0 917.4 L137.3 918.7 L137.7 920.0 L138.1 921.3 L138.5 922.6 L138.9 923.9 L139.4 925.1 L139.8 926.4 L140.2 927.7 L140.6 929.0 L141.1 930.3 L141.5 931.5 L142.0 932.8 L142.4 934.1 L142.9 935.3 L143.4 936.6 L143.9 937.8 L144.4 939.1 L144.9 940.3 L145.4 941.6 L145.9 942.8 L146.5 944.1 L147.0 945.3 L147.6 946.5 L148.1 947.7 L148.7 948.9 L149.3 950.1 L149.9 951.3 L150.5 952.5 L151.1 953.7 L151.7 954.9 L152.4 956.1 L153.0 957.3 L153.7 958.4 L154.4 959.6 L155.0 960.7 L155.7 961.9 L156.5 963.0 L157.2 964.1 L157.9 965.3 L158.7 966.4 L159.4 967.5 L160.2 968.6 L161.0 969.7 L161.8 970.7 L162.6 971.8 L163.4 972.9 L164.2 973.9 L165.1 974.9 L166.0 976.0 L166.8 977.0 L167.7 978.0 L168.6 979.0 L169.5 979.9 L170.4 980.9 L171.3 981.8 L172.3 982.8 L173.2 983.7 L174.2 984.6 L175.2 985.5 L176.2 986.4 L177.2 987.3 L178.2 988.1 L179.2 989.0 L180.2 989.8 L181.3 990.6 L182.3 991.4 L183.4 992.2 L184.5 992.9 L185.6 993.7 L186.7 994.4 L187.8 995.1 L188.9 995.8 L190.1 996.5 L191.2 997.1 L192.4 997.8 L193.6 998.4 L194.7 999.0 L195.9 999.6 L197.1 1000.2 L198.3 1000.7 L199.5 1001.3 L200.8 1001.8 L202.0 1002.4 L203.2 1002.9 L204.5 1003.4 L205.7 1003.9 L207.0 1004.3 L208.2 1004.8 L209.5 1005.3 L210.8 1005.7 L212.1 1006.1 L213.3 1006.5 L214.6 1006.9 L215.9 1007.3 L217.2 1007.7 L218.5 1008.1 L219.8 1008.5 L221.1 1008.8 L222.4 1009.2 L223.7 1009.5 L225.0 1009.8 L226.3 1010.2 L227.6 1010.5 L228.9 1010.8 L230.3 1011.1 L231.6 1011.4 L232.9 1011.7 L234.2 1011.9 L235.5 1012.2 L236.8 1012.5 L238.1 1012.7 L239.5 1013.0 L240.8 1013.2 L242.1 1013.5 L243.4 1013.7 L244.8 1013.9 L246.1 1014.1 L247.4 1014.3 L248.7 1014.6 L250.1 1014.8 L251.4 1014.9 L252.7 1015.1 L254.0 1015.3 L255.4 1015.5 L256.7 1015.7 L258.0 1015.8 L259.4 1016.0 L260.7 1016.2 L262.0 1016.3 L263.4 1016.5 L264.7 1016.6 L266.0 1016.7 L267.4 1016.9 L268.7 1017.0 L270.0 1017.1 L271.4 1017.3 L272.7 1017.4 L274.0 1017.5 L275.4 1017.6 L276.7 1017.7 L278.1 1017.8 L279.4 1017.9 L280.7 1018.1 L282.1 1018.2 L283.4 1018.2 L284.7 1018.3 L286.1 1018.4 L287.4 1018.5 L288.8 1018.6 L290.1 1018.7 L291.4 1018.8 L292.8 1018.9 L294.1 1019.0 L295.5 1019.0 L296.8 1019.1 L298.1 1019.2 L299.5 1019.3 L300.8 1019.3 L302.2 1019.4 L303.5 1019.5 L304.8 1019.6 L306.2 1019.6 L307.5 1019.7 L308.9 1019.8 L310.2 1019.8 L311.5 1019.9 L312.9 1020.0 L314.2 1020.0 L315.6 1020.1 L316.9 1020.2 L318.2 1020.2 L319.6 1020.3 L320.9 1020.4 L322.3 1020.4 L323.6 1020.5 L324.9 1020.5 L326.3 1020.6 L327.6 1020.6 L329.0 1020.7 L330.3 1020.8 L331.6 1020.8 L333.0 1020.9 L334.3 1020.9 L335.7 1021.0 L337.0 1021.0 L338.3 1021.1 L339.7 1021.1 L341.0 1021.2 L342.4 1021.2 L343.7 1021.3 L345.0 1021.3 L346.4 1021.3 L347.7 1021.4 L349.1 1021.4 L350.4 1021.5 L351.7 1021.5 L353.1 1021.6 L354.4 1021.6 L355.8 1021.6 L357.1 1021.7 L358.4 1021.7 L359.8 1021.8 L361.1 1021.8 L362.5 1021.8 L363.8 1021.9 L365.1 1021.9 L366.5 1021.9 L367.8 1022.0 L369.2 1022.0 L370.5 1022.0 L371.8 1022.1 L373.2 1022.1 L374.5 1022.1 L375.9 1022.2 L377.2 1022.2 L378.5 1022.2 L379.9 1022.3 L381.2 1022.3 L382.6 1022.3 L383.9 1022.3 L385.2 1022.4 L386.6 1022.4 L387.9 1022.4 L389.3 1022.5 L390.6 1022.5 L392.0 1022.5 L393.3 1022.5 L394.6 1022.6 L396.0 1022.6 L397.3 1022.6 L398.7 1022.6 L400.0 1022.7 L401.3 1022.7 L402.7 1022.7 L404.0 1022.7 L405.4 1022.8 L406.7 1022.8 L408.0 1022.8 L409.4 1022.8 L410.7 1022.8 L412.1 1022.9 L413.4 1022.9 L414.7 1022.9 L416.1 1022.9 L417.4 1023.0 L418.8 1023.0 L420.1 1023.0 L421.4 1023.0 L422.8 1023.0 L424.1 1023.1 L425.5 1023.1 L426.8 1023.1 L428.2 1023.1 L429.5 1023.1 L430.8 1023.1 L432.2 1023.2 L433.5 1023.2 L434.9 1023.2 L436.2 1023.2 L437.5 1023.2 L438.9 1023.2 L440.2 1023.3 L441.6 1023.3 L442.9 1023.3 L444.2 1023.3 L445.6 1023.3 L446.9 1023.3 L448.3 1023.3 L449.6 1023.4 L451.0 1023.4 L452.3 1023.4 L453.6 1023.4 L455.0 1023.4 L456.3 1023.4 L457.7 1023.4 L459.0 1023.5 L460.3 1023.5 L461.7 1023.5 L463.0 1023.5 L464.4 1023.5 L465.7 1023.5 L467.1 1023.5 L468.4 1023.5 L469.7 1023.5 L471.1 1023.6 L472.4 1023.6 L473.8 1023.6 L475.1 1023.6 L476.4 1023.6 L477.8 1023.6 L479.1 1023.6 L480.5 1023.6 L481.8 1023.6 L483.1 1023.7 L484.5 1023.7 L485.8 1023.7 L487.2 1023.7 L488.5 1023.7 L489.9 1023.7 L491.2 1023.7 L492.5 1023.7 L493.9 1023.7 L495.2 1023.7 L496.6 1023.7 L497.9 1023.7 L499.2 1023.8 L500.6 1023.8 L501.9 1023.8 L503.3 1023.8 L504.6 1023.8 L506.0 1023.8 L507.3 1023.8 L508.6 1023.8 L510.0 1023.8 L511.3 1023.8 L512.7 1023.8 L514.0 1023.8 L515.3 1023.9 L516.7 1023.9 L518.0 1023.9 L519.4 1023.9 L520.7 1023.9 L522.0 1023.9 L523.4 1023.9 L524.7 1023.9 L526.1 1023.9 L527.4 1023.9 L528.8 1023.9 L530.1 1023.9 L531.4 1023.9 L532.8 1023.9 L534.1 1023.9 L535.5 1024.0 L536.8 1024.0 L538.1 1024.0 L539.5 1024.0 L540.8 1024.0 L542.2 1024.0 L543.5 1024.0 L544.8 1024.0 L546.2 1024.0 L547.5 1024.0 L548.9 1024.0 L550.2 1024.0 L551.6 1024.0 L552.9 1024.0 L554.2 1024.1 L555.6 1024.1 L556.9 1024.1 L558.3 1024.1 L559.6 1024.1 L560.9 1024.1 L562.3 1024.1 L563.6 1024.1 L565.0 1024.1 L566.3 1024.1" stroke="#D95319" stroke-width="2.9" fill="none" stroke-linejoin="round"/>
<path d="M116.5 834.1 L116.5 833.5 L116.5 833.0 L116.5 832.5 L116.5 832.0 L116.5 831.4 L116.6 830.9 L116.6 830.4 L116.6 829.9 L116.7 829.3 L116.7 828.8 L116.7 828.3 L116.8 827.8 L116.8 827.2 L116.9 826.7 L116.9 826.2 L117.0 825.6 L117.0 825.1 L117.1 824.6 L117.1 824.1 L117.2 823.5 L117.3 823.0 L117.3 822.5 L117.4 821.9 L117.5 821.4 L117.5 820.9 L117.6 820.4 L117.7 819.8 L117.7 819.3 L117.8 818.8 L117.9 818.2 L118.0 817.7 L118.0 817.2 L118.1 816.7 L118.2 816.1 L118.3 815.6 L118.3 815.1 L118.4 814.6 L118.5 814.0 L118.6 813.5 L118.6 813.0 L118.7 812.5 L118.8 812.0 L118.9 811.4 L118.9 810.9 L119.0 810.4 L119.1 809.9 L119.1 809.4 L119.2 808.8 L119.2 808.3 L119.3 807.8 L119.4 807.3 L119.4 806.8 L119.5 806.3 L119.5 805.8 L119.6 805.3 L119.6 804.8 L119.6 804.2 L119.7 803.7 L119.7 803.2 L119.9 801.7 L120.0 800.2 L120.3 798.6 L120.5 796.9 L120.9 795.1 L121.3 793.4 L121.9 792.1 L122.5 791.2 L123.3 791.0 L124.1 791.5 L125.0 792.6 L125.7 793.9 L126.3 795.3 L126.8 796.8 L127.2 798.2 L127.6 799.7 L128.0 801.2 L128.3 802.6 L128.7 804.1 L129.1 805.6 L129.5 807.0 L129.8 808.5 L130.2 809.9 L130.6 811.4 L130.9 812.8 L131.3 814.3 L131.7 815.7 L132.0 817.2 L132.4 818.6 L132.8 820.1 L133.1 821.5 L133.5 823.0 L133.8 824.4 L134.2 825.9 L134.6 827.3 L134.9 828.7 L135.3 830.2 L135.6 831.6 L136.0 833.0 L136.3 834.5 L136.7 835.9 L137.1 837.3 L137.4 838.8 L137.8 840.2 L138.1 841.6 L138.5 843.1 L138.8 844.5 L139.2 845.9 L139.6 847.3 L139.9 848.8 L140.3 850.2 L140.7 851.6 L141.0 853.0 L141.4 854.5 L141.8 855.9 L142.1 857.3 L142.5 858.7 L142.9 860.2 L143.3 861.6 L143.6 863.0 L144.0 864.4 L144.4 865.8 L144.8 867.3 L145.2 868.7 L145.6 870.1 L145.9 871.5 L146.3 872.9 L146.7 874.4 L147.1 875.8 L147.5 877.2 L147.9 878.6 L148.3 880.1 L148.8 881.5 L149.2 882.9 L149.6 884.3 L150.0 885.7 L150.4 887.2 L150.9 888.6 L151.3 890.0 L151.7 891.4 L152.2 892.9 L152.6 894.3 L153.1 895.7 L153.5 897.1 L154.0 898.6 L154.4 900.0 L154.9 901.4 L155.4 902.8 L155.9 904.3 L156.3 905.7 L156.8 907.1 L157.3 908.5 L157.8 909.9 L158.3 911.3 L158.9 912.7 L159.4 914.1 L159.9 915.5 L160.5 916.9 L161.0 918.3 L161.6 919.7 L162.1 921.1 L162.7 922.5 L163.3 923.9 L163.9 925.2 L164.5 926.6 L165.1 928.0 L165.7 929.3 L166.3 930.7 L167.0 932.0 L167.6 933.4 L168.3 934.7 L169.0 936.0 L169.7 937.3 L170.3 938.6 L171.0 940.0 L171.8 941.3 L172.5 942.5 L173.2 943.8 L174.0 945.1 L174.7 946.4 L175.5 947.6 L176.3 948.9 L177.1 950.1 L177.9 951.3 L178.8 952.6 L179.6 953.8 L180.5 955.0 L181.3 956.2 L182.2 957.3 L183.1 958.5 L184.0 959.7 L185.0 960.8 L185.9 962.0 L186.9 963.1 L187.8 964.2 L188.8 965.3 L189.8 966.4 L190.8 967.5 L191.9 968.6 L192.9 969.6 L194.0 970.7 L195.0 971.7 L196.1 972.7 L197.2 973.7 L198.3 974.7 L199.5 975.7 L200.6 976.6 L201.7 977.6 L202.9 978.5 L204.1 979.5 L205.3 980.4 L206.4 981.3 L207.6 982.2 L208.9 983.0 L210.1 983.9 L211.3 984.7 L212.5 985.6 L213.8 986.4 L215.0 987.2 L216.3 988.0 L217.6 988.7 L218.9 989.5 L220.1 990.2 L221.4 991.0 L222.7 991.7 L224.1 992.4 L225.4 993.0 L226.7 993.7 L228.0 994.3 L229.4 995.0 L230.7 995.6 L232.0 996.2 L233.4 996.8 L234.7 997.4 L236.1 997.9 L237.5 998.5 L238.8 999.0 L240.2 999.5 L241.6 1000.0 L243.0 1000.5 L244.4 1001.0 L245.8 1001.5 L247.2 1001.9 L248.6 1002.4 L250.0 1002.8 L251.4 1003.2 L252.8 1003.6 L254.2 1004.0 L255.7 1004.4 L257.1 1004.8 L258.5 1005.2 L260.0 1005.5 L261.4 1005.9 L262.8 1006.2 L264.3 1006.5 L265.7 1006.9 L267.2 1007.2 L268.6 1007.5 L270.1 1007.8 L271.5 1008.1 L273.0 1008.3 L274.5 1008.6 L275.9 1008.9 L277.4 1009.1 L278.8 1009.4 L280.3 1009.6 L281.8 1009.9 L283.3 1010.1 L284.7 1010.4 L286.2 1010.6 L287.7 1010.8 L289.1 1011.0 L290.6 1011.2 L292.1 1011.4 L293.6 1011.6 L295.0 1011.8 L296.5 1012.0 L298.0 1012.2 L299.5 1012.4 L301.0 1012.6 L302.4 1012.8 L303.9 1012.9 L305.4 1013.1 L306.9 1013.3 L308.3 1013.4 L309.8 1013.6 L311.3 1013.8 L312.8 1013.9 L314.2 1014.1 L315.7 1014.2 L317.2 1014.4 L318.7 1014.5 L320.2 1014.7 L321.6 1014.8 L323.1 1014.9 L324.6 1015.1 L326.1 1015.2 L327.6 1015.3 L329.0 1015.5 L330.5 1015.6 L332.0 1015.7 L333.5 1015.8 L334.9 1015.9 L336.4 1016.1 L337.9 1016.2 L339.4 1016.3 L340.9 1016.4 L342.3 1016.5 L343.8 1016.6 L345.3 1016.7 L346.8 1016.8 L348.3 1016.9 L349.7 1017.0 L351.2 1017.1 L352.7 1017.2 L354.2 1017.3 L355.7 1017.4 L357.1 1017.5 L358.6 1017.5 L360.1 1017.6 L361.6 1017.7 L363.1 1017.8 L364.5 1017.9 L366.0 1017.9 L367.5 1018.0 L369.0 1018.1 L370.5 1018.2 L371.9 1018.2 L373.4 1018.3 L374.9 1018.4 L376.4 1018.5 L377.9 1018.5 L379.3 1018.6 L380.8 1018.7 L382.3 1018.7 L383.8 1018.8 L385.3 1018.8 L386.8 1018.9 L388.2 1019.0 L389.7 1019.0 L391.2 1019.1 L392.7 1019.2 L394.2 1019.2 L395.7 1019.3 L397.1 1019.3 L398.6 1019.4 L400.1 1019.4 L401.6 1019.5 L403.1 1019.6 L404.5 1019.6 L406.0 1019.7 L407.5 1019.7 L409.0 1019.8 L410.5 1019.8 L412.0 1019.9 L413.4 1019.9 L414.9 1020.0 L416.4 1020.0 L417.9 1020.1 L419.4 1020.1 L420.9 1020.1 L422.3 1020.2 L423.8 1020.2 L425.3 1020.3 L426.8 1020.3 L428.3 1020.4 L429.8 1020.4 L431.2 1020.5 L432.7 1020.5 L434.2 1020.5 L435.7 1020.6 L437.2 1020.6 L438.7 1020.7 L440.1 1020.7 L441.6 1020.7 L443.1 1020.8 L444.6 1020.8 L446.1 1020.8 L447.6 1020.9 L449.1 1020.9 L450.5 1021.0 L452.0 1021.0 L453.5 1021.0 L455.0 1021.1 L456.5 1021.1 L458.0 1021.1 L459.4 1021.2 L460.9 1021.2 L462.4 1021.2 L463.9 1021.2 L465.4 1021.3 L466.9 1021.3 L468.4 1021.3 L469.8 1021.4 L471.3 1021.4 L472.8 1021.4 L474.3 1021.4 L475.8 1021.5 L477.3 1021.5 L478.7 1021.5 L480.2 1021.6 L481.7 1021.6 L483.2 1021.6 L484.7 1021.6 L486.2 1021.7 L487.7 1021.7 L489.1 1021.7 L490.6 1021.7 L492.1 1021.8 L493.6 1021.8 L495.1 1021.8 L496.6 1021.8 L498.0 1021.8 L499.5 1021.9 L501.0 1021.9 L502.5 1021.9 L504.0 1021.9 L505.5 1022.0 L506.9 1022.0 L508.4 1022.0 L509.9 1022.0 L511.4 1022.0 L512.9 1022.1 L514.4 1022.1 L515.9 1022.1 L517.3 1022.1 L518.8 1022.1 L520.3 1022.1 L521.8 1022.2 L523.3 1022.2 L524.8 1022.2 L526.2 1022.2 L527.7 1022.2 L529.2 1022.3 L530.7 1022.3 L532.2 1022.3 L533.7 1022.3 L535.1 1022.3 L536.6 1022.3 L538.1 1022.4 L539.6 1022.4 L541.1 1022.4 L542.6 1022.4 L544.1 1022.4 L545.5 1022.4 L547.0 1022.5 L548.5 1022.5 L550.0 1022.5 L551.5 1022.5 L553.0 1022.5 L554.4 1022.5 L555.9 1022.6 L557.4 1022.6 L558.9 1022.6 L560.4 1022.6 L561.8 1022.6 L563.3 1022.6 L564.8 1022.7 L566.3 1022.7" stroke="#EDB120" stroke-width="2.9" fill="none" stroke-linejoin="round"/>
<path d="M116.5 834.0 L116.5 833.4 L116.5 832.8 L116.5 832.1 L116.5 831.5 L116.5 830.8 L116.6 830.2 L116.6 829.6 L116.6 828.9 L116.6 828.3 L116.6 827.6 L116.6 827.0 L116.6 826.3 L116.6 825.7 L116.6 825.0 L116.7 824.4 L116.7 823.7 L116.7 823.1 L116.7 822.4 L116.7 821.8 L116.7 821.1 L116.7 820.5 L116.7 819.8 L116.8 819.2 L116.8 818.5 L116.8 817.9 L116.8 817.2 L116.8 816.6 L116.8 815.9 L116.8 815.3 L116.8 814.6 L116.9 814.0 L116.9 813.3 L116.9 812.7 L116.9 812.0 L116.9 811.4 L116.9 810.7 L116.9 810.1 L117.0 809.4 L117.0 808.8 L117.0 808.1 L117.0 807.4 L117.0 806.8 L117.0 806.1 L117.0 805.5 L117.1 804.8 L117.1 804.2 L117.1 803.5 L117.1 802.9 L117.1 802.2 L117.1 801.6 L117.2 800.9 L117.2 800.3 L117.2 799.6 L117.2 798.9 L117.2 798.3 L117.2 797.6 L117.2 797.0 L117.3 796.3 L117.3 795.7 L117.3 793.8 L117.4 792.0 L117.4 790.2 L117.5 788.3 L117.5 786.5 L117.6 784.7 L117.6 782.8 L117.7 781.0 L117.7 779.2 L117.8 777.3 L117.8 775.5 L117.9 773.7 L118.0 771.9 L118.0 770.1 L118.1 768.3 L118.1 766.5 L118.2 764.7 L118.2 762.9 L118.3 761.1 L118.4 759.3 L118.4 757.5 L118.5 755.7 L118.6 753.9 L118.7 752.1 L118.7 750.3 L118.8 748.5 L118.9 746.7 L119.0 744.9 L119.1 743.1 L119.2 741.3 L119.4 739.4 L119.5 737.6 L119.6 735.7 L119.8 733.9 L119.9 732.0 L120.1 730.1 L120.3 728.2 L120.5 726.3 L120.7 724.4 L120.9 722.5 L121.1 720.5 L121.4 718.6 L121.7 716.7 L122.2 714.9 L122.8 713.3 L123.6 711.8 L124.5 710.8 L125.5 710.6 L126.4 711.2 L127.3 712.4 L128.1 714.1 L128.7 715.9 L129.2 717.8 L129.7 719.7 L130.0 721.5 L130.4 723.4 L130.7 725.2 L131.1 727.0 L131.4 728.9 L131.8 730.7 L132.2 732.5 L132.6 734.3 L133.0 736.1 L133.4 737.9 L133.8 739.7 L134.2 741.5 L134.6 743.2 L135.0 745.0 L135.4 746.8 L135.8 748.6 L136.3 750.3 L136.7 752.1 L137.1 753.9 L137.5 755.6 L137.9 757.4 L138.3 759.2 L138.7 760.9 L139.1 762.7 L139.5 764.5 L139.8 766.3 L140.2 768.1 L140.6 769.8 L141.0 771.6 L141.3 773.4 L141.7 775.2 L142.0 777.0 L142.4 778.8 L142.7 780.6 L143.1 782.3 L143.4 784.1 L143.8 785.9 L144.1 787.7 L144.5 789.5 L144.8 791.3 L145.2 793.1 L145.5 794.9 L145.8 796.7 L146.2 798.5 L146.5 800.3 L146.8 802.1 L147.2 803.9 L147.5 805.7 L147.8 807.5 L148.2 809.3 L148.5 811.1 L148.8 812.9 L149.2 814.7 L149.5 816.5 L149.9 818.3 L150.2 820.0 L150.5 821.8 L150.9 823.6 L151.2 825.4 L151.6 827.2 L151.9 829.0 L152.3 830.8 L152.6 832.6 L153.0 834.4 L153.4 836.2 L153.7 838.0 L154.1 839.8 L154.5 841.6 L154.9 843.3 L155.2 845.1 L155.6 846.9 L156.0 848.7 L156.4 850.5 L156.8 852.3 L157.2 854.0 L157.6 855.8 L158.1 857.6 L158.5 859.4 L158.9 861.1 L159.4 862.9 L159.8 864.7 L160.3 866.4 L160.7 868.2 L161.2 870.0 L161.7 871.7 L162.1 873.5 L162.6 875.2 L163.1 877.0 L163.6 878.8 L164.1 880.5 L164.7 882.3 L165.2 884.0 L165.7 885.7 L166.3 887.5 L166.8 889.2 L167.4 891.0 L168.0 892.7 L168.6 894.4 L169.1 896.1 L169.8 897.9 L170.4 899.6 L171.0 901.3 L171.6 903.0 L172.3 904.7 L172.9 906.4 L173.6 908.1 L174.3 909.8 L175.0 911.5 L175.7 913.2 L176.4 914.9 L177.2 916.6 L177.9 918.3 L178.7 919.9 L179.4 921.6 L180.2 923.2 L181.0 924.9 L181.8 926.5 L182.7 928.2 L183.5 929.8 L184.4 931.4 L185.2 933.0 L186.1 934.6 L187.0 936.2 L188.0 937.8 L188.9 939.4 L189.8 940.9 L190.8 942.5 L191.8 944.0 L192.8 945.5 L193.8 947.0 L194.8 948.5 L195.9 950.0 L197.0 951.5 L198.1 953.0 L199.2 954.4 L200.3 955.9 L201.4 957.3 L202.6 958.7 L203.8 960.1 L205.0 961.4 L206.2 962.8 L207.5 964.1 L208.7 965.5 L210.0 966.8 L211.3 968.1 L212.6 969.3 L214.0 970.6 L215.3 971.8 L216.7 973.0 L218.1 974.2 L219.5 975.4 L220.9 976.5 L222.4 977.7 L223.8 978.8 L225.3 979.9 L226.8 980.9 L228.3 981.9 L229.8 983.0 L231.4 983.9 L232.9 984.9 L234.5 985.8 L236.1 986.7 L237.7 987.6 L239.3 988.5 L240.9 989.3 L242.5 990.1 L244.2 990.9 L245.8 991.6 L247.5 992.4 L249.2 993.1 L250.8 993.8 L252.5 994.4 L254.2 995.1 L255.9 995.7 L257.7 996.4 L259.4 997.0 L261.1 997.5 L262.9 998.1 L264.6 998.6 L266.4 999.2 L268.1 999.7 L269.9 1000.2 L271.7 1000.7 L273.4 1001.2 L275.2 1001.6 L277.0 1002.1 L278.7 1002.5 L280.5 1003.0 L282.3 1003.4 L284.1 1003.8 L285.9 1004.2 L287.7 1004.6 L289.4 1005.0 L291.2 1005.3 L293.0 1005.7 L294.8 1006.0 L296.6 1006.4 L298.4 1006.7 L300.2 1007.0 L302.0 1007.4 L303.8 1007.7 L305.6 1008.0 L307.4 1008.3 L309.2 1008.5 L311.0 1008.8 L312.8 1009.1 L314.6 1009.3 L316.4 1009.6 L318.2 1009.8 L320.0 1010.1 L321.8 1010.3 L323.7 1010.5 L325.5 1010.8 L327.3 1011.0 L329.1 1011.2 L330.9 1011.4 L332.7 1011.6 L334.5 1011.8 L336.4 1012.0 L338.2 1012.2 L340.0 1012.3 L341.8 1012.5 L343.6 1012.7 L345.4 1012.8 L347.3 1013.0 L349.1 1013.2 L350.9 1013.3 L352.7 1013.5 L354.6 1013.6 L356.4 1013.7 L358.2 1013.9 L360.0 1014.0 L361.8 1014.1 L363.7 1014.3 L365.5 1014.4 L367.3 1014.5 L369.1 1014.7 L371.0 1014.8 L372.8 1014.9 L374.6 1015.0 L376.4 1015.1 L378.3 1015.2 L380.1 1015.4 L381.9 1015.5 L383.7 1015.6 L385.6 1015.7 L387.4 1015.8 L389.2 1015.9 L391.0 1016.0 L392.8 1016.1 L394.7 1016.2 L396.5 1016.3 L398.3 1016.4 L400.1 1016.5 L402.0 1016.6 L403.8 1016.7 L405.6 1016.7 L407.4 1016.8 L409.3 1016.9 L411.1 1017.0 L412.9 1017.1 L414.7 1017.2 L416.6 1017.2 L418.4 1017.3 L420.2 1017.4 L422.0 1017.5 L423.9 1017.5 L425.7 1017.6 L427.5 1017.7 L429.3 1017.8 L431.2 1017.8 L433.0 1017.9 L434.8 1018.0 L436.6 1018.0 L438.5 1018.1 L440.3 1018.2 L442.1 1018.2 L443.9 1018.3 L445.8 1018.3 L447.6 1018.4 L449.4 1018.4 L451.2 1018.5 L453.1 1018.6 L454.9 1018.6 L456.7 1018.7 L458.5 1018.7 L460.4 1018.8 L462.2 1018.8 L464.0 1018.9 L465.9 1018.9 L467.7 1019.0 L469.5 1019.0 L471.3 1019.0 L473.2 1019.1 L475.0 1019.1 L476.8 1019.2 L478.6 1019.2 L480.5 1019.3 L482.3 1019.3 L484.1 1019.3 L485.9 1019.4 L487.8 1019.4 L489.6 1019.4 L491.4 1019.5 L493.2 1019.5 L495.1 1019.6 L496.9 1019.6 L498.7 1019.6 L500.5 1019.7 L502.4 1019.7 L504.2 1019.7 L506.0 1019.7 L507.9 1019.8 L509.7 1019.8 L511.5 1019.8 L513.3 1019.9 L515.2 1019.9 L517.0 1019.9 L518.8 1020.0 L520.6 1020.0 L522.5 1020.0 L524.3 1020.0 L526.1 1020.1 L527.9 1020.1 L529.8 1020.1 L531.6 1020.1 L533.4 1020.2 L535.2 1020.2 L537.1 1020.2 L538.9 1020.2 L540.7 1020.3 L542.6 1020.3 L544.4 1020.3 L546.2 1020.3 L548.0 1020.4 L549.9 1020.4 L551.7 1020.4 L553.5 1020.4 L555.3 1020.5 L557.2 1020.5 L559.0 1020.5 L560.8 1020.5 L562.6 1020.6 L564.5 1020.6 L566.3 1020.6" stroke="#7E2F8E" stroke-width="2.9" fill="none" stroke-linejoin="round"/>
<path d="M116.50 1027.20v-4.5M116.50 640.90v4.5M206.46 1027.20v-4.5M206.46 640.90v4.5M296.42 1027.20v-4.5M296.42 640.90v4.5M386.38 1027.20v-4.5M386.38 640.90v4.5M476.34 1027.20v-4.5M476.34 640.90v4.5M566.30 1027.20v-4.5M566.30 640.90v4.5M116.50 1027.20h4.5M566.30 1027.20h-4.5M116.50 930.62h4.5M566.30 930.62h-4.5M116.50 834.05h4.5M566.30 834.05h-4.5M116.50 737.48h4.5M566.30 737.48h-4.5M116.50 640.90h4.5M566.30 640.90h-4.5" stroke="#262626" stroke-width="1.1" fill="none"/>
<rect x="116.50" y="640.90" width="449.80" height="386.30" stroke="#262626" stroke-width="1.1" fill="none"/>
<g font-family="Liberation Sans, Arial, sans-serif" font-size="22" fill="#262626"><text transform="translate(115.70 1059.40) scale(1 1.03)" text-anchor="middle">0</text><text transform="translate(205.66 1059.40) scale(1 1.03)" text-anchor="middle">20</text><text transform="translate(295.62 1059.40) scale(1 1.03)" text-anchor="middle">40</text><text transform="translate(385.58 1059.40) scale(1 1.03)" text-anchor="middle">60</text><text transform="translate(475.54 1059.40) scale(1 1.03)" text-anchor="middle">80</text><text transform="translate(565.50 1059.40) scale(1 1.03)" text-anchor="middle">100</text><text transform="translate(106.80 1036.40) scale(1 1.03)" text-anchor="end">0</text><text transform="translate(106.80 939.83) scale(1 1.03)" text-anchor="end">0.005</text><text transform="translate(106.80 843.25) scale(1 1.03)" text-anchor="end">0.01</text><text transform="translate(106.80 746.68) scale(1 1.03)" text-anchor="end">0.015</text><text transform="translate(106.80 650.10) scale(1 1.03)" text-anchor="end">0.02</text></g>
<path d="M797.66 640.90V1027.20M887.62 640.90V1027.20M977.58 640.90V1027.20M1067.54 640.90V1027.20" stroke="#262626" stroke-opacity="0.15" stroke-width="1.3" fill="none"/>
<path d="M707.70 930.62H1157.50M707.70 834.05H1157.50M707.70 737.48H1157.50" stroke="#262626" stroke-opacity="0.15" stroke-width="1.3" fill="none"/>
<path d="M707.7 834.0 L707.7 834.6 L707.8 835.1 L707.8 835.6 L707.8 836.1 L707.9 836.6 L707.9 837.1 L708.0 837.6 L708.0 838.1 L708.0 838.6 L708.1 839.1 L708.1 839.6 L708.1 840.1 L708.2 840.6 L708.2 841.1 L708.2 841.6 L708.3 842.1 L708.3 842.6 L708.3 843.1 L708.4 843.6 L708.4 844.1 L708.4 844.5 L708.5 845.0 L708.5 845.5 L708.5 846.0 L708.6 846.5 L708.6 847.0 L708.6 847.5 L708.7 848.0 L708.7 848.5 L708.7 849.0 L708.8 849.5 L708.8 850.0 L708.8 850.5 L708.9 851.0 L708.9 851.5 L708.9 852.0 L709.0 852.5 L709.0 853.0 L709.0 853.5 L709.0 854.0 L709.1 854.5 L709.1 855.0 L709.1 855.5 L709.2 856.0 L709.2 856.5 L709.2 857.0 L709.3 857.5 L709.3 857.9 L709.3 858.4 L709.4 858.9 L709.4 859.4 L709.4 859.9 L709.4 860.4 L709.5 860.9 L709.5 861.4 L709.5 861.9 L709.6 862.4 L709.6 862.9 L709.6 863.4 L709.7 864.8 L709.8 866.1 L709.9 867.5 L710.0 868.9 L710.1 870.3 L710.2 871.7 L710.2 873.1 L710.3 874.4 L710.4 875.8 L710.5 877.2 L710.6 878.6 L710.7 880.0 L710.8 881.3 L710.9 882.7 L711.0 884.1 L711.1 885.5 L711.2 886.8 L711.4 888.2 L711.5 889.6 L711.6 891.0 L711.7 892.3 L711.8 893.7 L711.9 895.1 L712.1 896.5 L712.2 897.9 L712.3 899.2 L712.5 900.6 L712.6 902.0 L712.8 903.4 L712.9 904.7 L713.1 906.1 L713.2 907.5 L713.4 908.9 L713.5 910.2 L713.7 911.6 L713.9 913.0 L714.1 914.4 L714.3 915.7 L714.4 917.1 L714.6 918.5 L714.8 919.9 L715.0 921.3 L715.3 922.6 L715.5 924.0 L715.7 925.4 L715.9 926.8 L716.2 928.2 L716.4 929.5 L716.6 930.9 L716.9 932.3 L717.2 933.7 L717.4 935.1 L717.7 936.5 L718.0 937.8 L718.3 939.2 L718.6 940.6 L718.9 942.0 L719.2 943.4 L719.5 944.7 L719.9 946.1 L720.2 947.5 L720.6 948.8 L721.0 950.2 L721.4 951.6 L721.8 952.9 L722.2 954.3 L722.6 955.6 L723.1 957.0 L723.5 958.3 L724.0 959.6 L724.5 960.9 L725.0 962.3 L725.5 963.6 L726.1 964.9 L726.6 966.2 L727.2 967.4 L727.8 968.7 L728.4 970.0 L729.1 971.3 L729.7 972.5 L730.4 973.8 L731.1 975.0 L731.8 976.2 L732.5 977.4 L733.3 978.6 L734.1 979.8 L734.9 981.0 L735.7 982.2 L736.5 983.3 L737.4 984.4 L738.2 985.5 L739.1 986.6 L740.0 987.7 L740.9 988.7 L741.9 989.8 L742.8 990.8 L743.8 991.7 L744.8 992.7 L745.8 993.6 L746.8 994.5 L747.8 995.4 L748.9 996.3 L749.9 997.1 L751.0 998.0 L752.1 998.8 L753.2 999.5 L754.3 1000.3 L755.4 1001.0 L756.6 1001.7 L757.7 1002.4 L758.9 1003.1 L760.1 1003.8 L761.2 1004.4 L762.4 1005.0 L763.7 1005.6 L764.9 1006.2 L766.1 1006.8 L767.3 1007.3 L768.6 1007.8 L769.9 1008.3 L771.1 1008.8 L772.4 1009.3 L773.7 1009.8 L775.0 1010.2 L776.3 1010.7 L777.6 1011.1 L778.9 1011.5 L780.2 1011.9 L781.6 1012.3 L782.9 1012.7 L784.3 1013.0 L785.6 1013.4 L787.0 1013.7 L788.3 1014.0 L789.7 1014.3 L791.1 1014.6 L792.4 1014.9 L793.8 1015.2 L795.2 1015.4 L796.6 1015.7 L798.0 1016.0 L799.4 1016.2 L800.8 1016.4 L802.2 1016.7 L803.6 1016.9 L805.0 1017.1 L806.4 1017.3 L807.8 1017.5 L809.2 1017.7 L810.6 1017.9 L812.0 1018.0 L813.4 1018.2 L814.8 1018.4 L816.2 1018.5 L817.6 1018.7 L819.0 1018.9 L820.4 1019.0 L821.8 1019.2 L823.2 1019.3 L824.6 1019.5 L826.0 1019.6 L827.4 1019.7 L828.8 1019.9 L830.2 1020.0 L831.6 1020.1 L833.0 1020.2 L834.4 1020.4 L835.8 1020.5 L837.2 1020.6 L838.6 1020.7 L839.9 1020.8 L841.3 1020.9 L842.7 1021.0 L844.1 1021.1 L845.5 1021.2 L846.9 1021.3 L848.3 1021.4 L849.7 1021.4 L851.1 1021.5 L852.5 1021.6 L853.9 1021.7 L855.2 1021.8 L856.6 1021.8 L858.0 1021.9 L859.4 1022.0 L860.8 1022.1 L862.2 1022.1 L863.6 1022.2 L865.0 1022.2 L866.4 1022.3 L867.7 1022.4 L869.1 1022.4 L870.5 1022.5 L871.9 1022.5 L873.3 1022.6 L874.7 1022.6 L876.1 1022.7 L877.5 1022.7 L878.8 1022.8 L880.2 1022.8 L881.6 1022.9 L883.0 1022.9 L884.4 1023.0 L885.8 1023.0 L887.2 1023.1 L888.6 1023.1 L890.0 1023.2 L891.3 1023.2 L892.7 1023.2 L894.1 1023.3 L895.5 1023.3 L896.9 1023.4 L898.3 1023.4 L899.7 1023.4 L901.1 1023.5 L902.5 1023.5 L903.9 1023.5 L905.3 1023.6 L906.6 1023.6 L908.0 1023.7 L909.4 1023.7 L910.8 1023.7 L912.2 1023.8 L913.6 1023.8 L915.0 1023.8 L916.4 1023.9 L917.8 1023.9 L919.2 1023.9 L920.6 1024.0 L922.0 1024.0 L923.4 1024.0 L924.8 1024.0 L926.1 1024.1 L927.5 1024.1 L928.9 1024.1 L930.3 1024.2 L931.7 1024.2 L933.1 1024.2 L934.5 1024.2 L935.9 1024.3 L937.3 1024.3 L938.7 1024.3 L940.1 1024.4 L941.5 1024.4 L942.9 1024.4 L944.3 1024.4 L945.7 1024.4 L947.1 1024.5 L948.5 1024.5 L949.9 1024.5 L951.2 1024.5 L952.6 1024.6 L954.0 1024.6 L955.4 1024.6 L956.8 1024.6 L958.2 1024.7 L959.6 1024.7 L961.0 1024.7 L962.4 1024.7 L963.8 1024.7 L965.2 1024.8 L966.6 1024.8 L968.0 1024.8 L969.4 1024.8 L970.8 1024.8 L972.2 1024.9 L973.6 1024.9 L975.0 1024.9 L976.4 1024.9 L977.7 1024.9 L979.1 1024.9 L980.5 1025.0 L981.9 1025.0 L983.3 1025.0 L984.7 1025.0 L986.1 1025.0 L987.5 1025.0 L988.9 1025.1 L990.3 1025.1 L991.7 1025.1 L993.1 1025.1 L994.5 1025.1 L995.9 1025.1 L997.3 1025.1 L998.7 1025.2 L1000.1 1025.2 L1001.4 1025.2 L1002.8 1025.2 L1004.2 1025.2 L1005.6 1025.2 L1007.0 1025.2 L1008.4 1025.3 L1009.8 1025.3 L1011.2 1025.3 L1012.6 1025.3 L1014.0 1025.3 L1015.4 1025.3 L1016.8 1025.3 L1018.2 1025.3 L1019.6 1025.4 L1021.0 1025.4 L1022.4 1025.4 L1023.7 1025.4 L1025.1 1025.4 L1026.5 1025.4 L1027.9 1025.4 L1029.3 1025.4 L1030.7 1025.4 L1032.1 1025.5 L1033.5 1025.5 L1034.9 1025.5 L1036.3 1025.5 L1037.7 1025.5 L1039.1 1025.5 L1040.5 1025.5 L1041.9 1025.5 L1043.2 1025.5 L1044.6 1025.5 L1046.0 1025.6 L1047.4 1025.6 L1048.8 1025.6 L1050.2 1025.6 L1051.6 1025.6 L1053.0 1025.6 L1054.4 1025.6 L1055.8 1025.6 L1057.2 1025.6 L1058.6 1025.6 L1060.0 1025.6 L1061.4 1025.6 L1062.7 1025.7 L1064.1 1025.7 L1065.5 1025.7 L1066.9 1025.7 L1068.3 1025.7 L1069.7 1025.7 L1071.1 1025.7 L1072.5 1025.7 L1073.9 1025.7 L1075.3 1025.7 L1076.7 1025.7 L1078.1 1025.7 L1079.5 1025.7 L1080.9 1025.7 L1082.2 1025.8 L1083.6 1025.8 L1085.0 1025.8 L1086.4 1025.8 L1087.8 1025.8 L1089.2 1025.8 L1090.6 1025.8 L1092.0 1025.8 L1093.4 1025.8 L1094.8 1025.8 L1096.2 1025.8 L1097.6 1025.8 L1099.0 1025.8 L1100.4 1025.8 L1101.7 1025.8 L1103.1 1025.8 L1104.5 1025.9 L1105.9 1025.9 L1107.3 1025.9 L1108.7 1025.9 L1110.1 1025.9 L1111.5 1025.9 L1112.9 1025.9 L1114.3 1025.9 L1115.7 1025.9 L1117.1 1025.9 L1118.5 1025.9 L1119.9 1025.9 L1121.3 1025.9 L1122.6 1025.9 L1124.0 1025.9 L1125.4 1025.9 L1126.8 1025.9 L1128.2 1025.9 L1129.6 1026.0 L1131.0 1026.0 L1132.4 1026.0 L1133.8 1026.0 L1135.2 1026.0 L1136.6 1026.0 L1138.0 1026.0 L1139.4 1026.0 L1140.8 1026.0 L1142.2 1026.0 L1143.6 1026.0 L1145.0 1026.0 L1146.3 1026.0 L1147.7 1026.0 L1149.1 1026.0 L1150.5 1026.0 L1151.9 1026.0 L1153.3 1026.0 L1154.7 1026.1 L1156.1 1026.1 L1157.5 1026.1" stroke="#0072BD" stroke-width="2.9" fill="none" stroke-linejoin="round"/>
<path d="M707.7 834.1 L707.8 834.5 L707.9 835.0 L708.0 835.5 L708.1 835.9 L708.2 836.4 L708.3 836.9 L708.4 837.3 L708.5 837.8 L708.6 838.3 L708.7 838.7 L708.8 839.2 L708.9 839.7 L709.0 840.1 L709.1 840.6 L709.2 841.1 L709.3 841.5 L709.4 842.0 L709.5 842.5 L709.6 842.9 L709.7 843.4 L709.8 843.9 L709.9 844.3 L710.0 844.8 L710.1 845.3 L710.2 845.7 L710.3 846.2 L710.4 846.6 L710.5 847.1 L710.6 847.6 L710.7 848.0 L710.8 848.5 L710.9 849.0 L711.0 849.4 L711.1 849.9 L711.2 850.3 L711.3 850.8 L711.4 851.3 L711.6 851.7 L711.7 852.2 L711.8 852.7 L711.9 853.1 L712.0 853.6 L712.1 854.0 L712.2 854.5 L712.3 855.0 L712.4 855.4 L712.5 855.9 L712.6 856.4 L712.7 856.8 L712.8 857.3 L712.9 857.7 L713.1 858.2 L713.2 858.7 L713.3 859.1 L713.4 859.6 L713.5 860.0 L713.6 860.5 L713.7 861.0 L713.8 861.4 L714.1 862.7 L714.4 864.0 L714.8 865.3 L715.1 866.6 L715.4 867.9 L715.7 869.2 L716.0 870.5 L716.3 871.8 L716.7 873.1 L717.0 874.4 L717.3 875.6 L717.6 876.9 L717.9 878.2 L718.3 879.5 L718.6 880.8 L718.9 882.1 L719.2 883.4 L719.6 884.7 L719.9 886.0 L720.2 887.3 L720.5 888.6 L720.9 889.9 L721.2 891.2 L721.5 892.5 L721.9 893.8 L722.2 895.2 L722.5 896.5 L722.9 897.8 L723.2 899.1 L723.5 900.4 L723.9 901.7 L724.2 903.0 L724.5 904.3 L724.9 905.6 L725.2 906.9 L725.6 908.2 L725.9 909.6 L726.3 910.9 L726.7 912.2 L727.0 913.5 L727.4 914.8 L727.8 916.1 L728.2 917.4 L728.5 918.7 L728.9 920.0 L729.3 921.3 L729.7 922.6 L730.1 923.9 L730.6 925.1 L731.0 926.4 L731.4 927.7 L731.8 929.0 L732.3 930.3 L732.7 931.5 L733.2 932.8 L733.6 934.1 L734.1 935.3 L734.6 936.6 L735.1 937.8 L735.6 939.1 L736.1 940.3 L736.6 941.6 L737.1 942.8 L737.7 944.1 L738.2 945.3 L738.8 946.5 L739.3 947.7 L739.9 948.9 L740.5 950.1 L741.1 951.3 L741.7 952.5 L742.3 953.7 L742.9 954.9 L743.6 956.1 L744.2 957.3 L744.9 958.4 L745.6 959.6 L746.2 960.7 L746.9 961.9 L747.7 963.0 L748.4 964.1 L749.1 965.3 L749.9 966.4 L750.6 967.5 L751.4 968.6 L752.2 969.7 L753.0 970.7 L753.8 971.8 L754.6 972.9 L755.4 973.9 L756.3 974.9 L757.2 976.0 L758.0 977.0 L758.9 978.0 L759.8 979.0 L760.7 979.9 L761.6 980.9 L762.5 981.8 L763.5 982.8 L764.4 983.7 L765.4 984.6 L766.4 985.5 L767.4 986.4 L768.4 987.3 L769.4 988.1 L770.4 989.0 L771.4 989.8 L772.5 990.6 L773.5 991.4 L774.6 992.2 L775.7 992.9 L776.8 993.7 L777.9 994.4 L779.0 995.1 L780.1 995.8 L781.3 996.5 L782.4 997.1 L783.6 997.8 L784.8 998.4 L785.9 999.0 L787.1 999.6 L788.3 1000.2 L789.5 1000.7 L790.7 1001.3 L792.0 1001.8 L793.2 1002.4 L794.4 1002.9 L795.7 1003.4 L796.9 1003.9 L798.2 1004.3 L799.4 1004.8 L800.7 1005.3 L802.0 1005.7 L803.3 1006.1 L804.5 1006.5 L805.8 1006.9 L807.1 1007.3 L808.4 1007.7 L809.7 1008.1 L811.0 1008.5 L812.3 1008.8 L813.6 1009.2 L814.9 1009.5 L816.2 1009.8 L817.5 1010.2 L818.8 1010.5 L820.1 1010.8 L821.5 1011.1 L822.8 1011.4 L824.1 1011.7 L825.4 1011.9 L826.7 1012.2 L828.0 1012.5 L829.3 1012.7 L830.7 1013.0 L832.0 1013.2 L833.3 1013.5 L834.6 1013.7 L836.0 1013.9 L837.3 1014.1 L838.6 1014.3 L839.9 1014.6 L841.3 1014.8 L842.6 1014.9 L843.9 1015.1 L845.2 1015.3 L846.6 1015.5 L847.9 1015.7 L849.2 1015.8 L850.6 1016.0 L851.9 1016.2 L853.2 1016.3 L854.6 1016.5 L855.9 1016.6 L857.2 1016.7 L858.6 1016.9 L859.9 1017.0 L861.2 1017.1 L862.6 1017.3 L863.9 1017.4 L865.2 1017.5 L866.6 1017.6 L867.9 1017.7 L869.3 1017.8 L870.6 1017.9 L871.9 1018.1 L873.3 1018.2 L874.6 1018.2 L875.9 1018.3 L877.3 1018.4 L878.6 1018.5 L880.0 1018.6 L881.3 1018.7 L882.6 1018.8 L884.0 1018.9 L885.3 1019.0 L886.7 1019.0 L888.0 1019.1 L889.3 1019.2 L890.7 1019.3 L892.0 1019.3 L893.4 1019.4 L894.7 1019.5 L896.0 1019.6 L897.4 1019.6 L898.7 1019.7 L900.1 1019.8 L901.4 1019.8 L902.7 1019.9 L904.1 1020.0 L905.4 1020.0 L906.8 1020.1 L908.1 1020.2 L909.4 1020.2 L910.8 1020.3 L912.1 1020.4 L913.5 1020.4 L914.8 1020.5 L916.1 1020.5 L917.5 1020.6 L918.8 1020.6 L920.2 1020.7 L921.5 1020.8 L922.8 1020.8 L924.2 1020.9 L925.5 1020.9 L926.9 1021.0 L928.2 1021.0 L929.5 1021.1 L930.9 1021.1 L932.2 1021.2 L933.6 1021.2 L934.9 1021.3 L936.2 1021.3 L937.6 1021.3 L938.9 1021.4 L940.3 1021.4 L941.6 1021.5 L942.9 1021.5 L944.3 1021.6 L945.6 1021.6 L947.0 1021.6 L948.3 1021.7 L949.6 1021.7 L951.0 1021.8 L952.3 1021.8 L953.7 1021.8 L955.0 1021.9 L956.3 1021.9 L957.7 1021.9 L959.0 1022.0 L960.4 1022.0 L961.7 1022.0 L963.0 1022.1 L964.4 1022.1 L965.7 1022.1 L967.1 1022.2 L968.4 1022.2 L969.7 1022.2 L971.1 1022.3 L972.4 1022.3 L973.8 1022.3 L975.1 1022.3 L976.4 1022.4 L977.8 1022.4 L979.1 1022.4 L980.5 1022.5 L981.8 1022.5 L983.2 1022.5 L984.5 1022.5 L985.8 1022.6 L987.2 1022.6 L988.5 1022.6 L989.9 1022.6 L991.2 1022.7 L992.5 1022.7 L993.9 1022.7 L995.2 1022.7 L996.6 1022.8 L997.9 1022.8 L999.2 1022.8 L1000.6 1022.8 L1001.9 1022.8 L1003.3 1022.9 L1004.6 1022.9 L1005.9 1022.9 L1007.3 1022.9 L1008.6 1023.0 L1010.0 1023.0 L1011.3 1023.0 L1012.6 1023.0 L1014.0 1023.0 L1015.3 1023.1 L1016.7 1023.1 L1018.0 1023.1 L1019.4 1023.1 L1020.7 1023.1 L1022.0 1023.1 L1023.4 1023.2 L1024.7 1023.2 L1026.1 1023.2 L1027.4 1023.2 L1028.7 1023.2 L1030.1 1023.2 L1031.4 1023.3 L1032.8 1023.3 L1034.1 1023.3 L1035.4 1023.3 L1036.8 1023.3 L1038.1 1023.3 L1039.5 1023.3 L1040.8 1023.4 L1042.2 1023.4 L1043.5 1023.4 L1044.8 1023.4 L1046.2 1023.4 L1047.5 1023.4 L1048.9 1023.4 L1050.2 1023.5 L1051.5 1023.5 L1052.9 1023.5 L1054.2 1023.5 L1055.6 1023.5 L1056.9 1023.5 L1058.3 1023.5 L1059.6 1023.5 L1060.9 1023.5 L1062.3 1023.6 L1063.6 1023.6 L1065.0 1023.6 L1066.3 1023.6 L1067.6 1023.6 L1069.0 1023.6 L1070.3 1023.6 L1071.7 1023.6 L1073.0 1023.6 L1074.3 1023.7 L1075.7 1023.7 L1077.0 1023.7 L1078.4 1023.7 L1079.7 1023.7 L1081.1 1023.7 L1082.4 1023.7 L1083.7 1023.7 L1085.1 1023.7 L1086.4 1023.7 L1087.8 1023.7 L1089.1 1023.7 L1090.4 1023.8 L1091.8 1023.8 L1093.1 1023.8 L1094.5 1023.8 L1095.8 1023.8 L1097.2 1023.8 L1098.5 1023.8 L1099.8 1023.8 L1101.2 1023.8 L1102.5 1023.8 L1103.9 1023.8 L1105.2 1023.8 L1106.5 1023.9 L1107.9 1023.9 L1109.2 1023.9 L1110.6 1023.9 L1111.9 1023.9 L1113.2 1023.9 L1114.6 1023.9 L1115.9 1023.9 L1117.3 1023.9 L1118.6 1023.9 L1120.0 1023.9 L1121.3 1023.9 L1122.6 1023.9 L1124.0 1023.9 L1125.3 1023.9 L1126.7 1024.0 L1128.0 1024.0 L1129.3 1024.0 L1130.7 1024.0 L1132.0 1024.0 L1133.4 1024.0 L1134.7 1024.0 L1136.0 1024.0 L1137.4 1024.0 L1138.7 1024.0 L1140.1 1024.0 L1141.4 1024.0 L1142.8 1024.0 L1144.1 1024.0 L1145.4 1024.1 L1146.8 1024.1 L1148.1 1024.1 L1149.5 1024.1 L1150.8 1024.1 L1152.1 1024.1 L1153.5 1024.1 L1154.8 1024.1 L1156.2 1024.1 L1157.5 1024.1" stroke="#D95319" stroke-width="2.9" fill="none" stroke-linejoin="round"/>
<path d="M707.7 834.1 L707.7 833.5 L707.7 833.0 L707.7 832.5 L707.7 832.0 L707.7 831.4 L707.8 830.9 L707.8 830.4 L707.8 829.9 L707.9 829.3 L707.9 828.8 L707.9 828.3 L708.0 827.8 L708.0 827.2 L708.1 826.7 L708.1 826.2 L708.2 825.6 L708.2 825.1 L708.3 824.6 L708.3 824.1 L708.4 823.5 L708.5 823.0 L708.5 822.5 L708.6 821.9 L708.7 821.4 L708.7 820.9 L708.8 820.4 L708.9 819.8 L708.9 819.3 L709.0 818.8 L709.1 818.2 L709.2 817.7 L709.2 817.2 L709.3 816.7 L709.4 816.1 L709.5 815.6 L709.5 815.1 L709.6 814.6 L709.7 814.0 L709.8 813.5 L709.8 813.0 L709.9 812.5 L710.0 812.0 L710.1 811.4 L710.1 810.9 L710.2 810.4 L710.3 809.9 L710.3 809.4 L710.4 808.8 L710.4 808.3 L710.5 807.8 L710.6 807.3 L710.6 806.8 L710.7 806.3 L710.7 805.8 L710.8 805.3 L710.8 804.8 L710.8 804.2 L710.9 803.7 L710.9 803.2 L711.1 801.7 L711.2 800.2 L711.5 798.6 L711.7 796.9 L712.1 795.1 L712.5 793.4 L713.1 792.1 L713.7 791.2 L714.5 791.0 L715.3 791.5 L716.2 792.6 L716.9 793.9 L717.5 795.3 L718.0 796.8 L718.4 798.2 L718.8 799.7 L719.2 801.2 L719.5 802.6 L719.9 804.1 L720.3 805.6 L720.7 807.0 L721.0 808.5 L721.4 809.9 L721.8 811.4 L722.1 812.8 L722.5 814.3 L722.9 815.7 L723.2 817.2 L723.6 818.6 L724.0 820.1 L724.3 821.5 L724.7 823.0 L725.0 824.4 L725.4 825.9 L725.8 827.3 L726.1 828.7 L726.5 830.2 L726.8 831.6 L727.2 833.0 L727.5 834.5 L727.9 835.9 L728.3 837.3 L728.6 838.8 L729.0 840.2 L729.3 841.6 L729.7 843.1 L730.0 844.5 L730.4 845.9 L730.8 847.3 L731.1 848.8 L731.5 850.2 L731.9 851.6 L732.2 853.0 L732.6 854.5 L733.0 855.9 L733.3 857.3 L733.7 858.7 L734.1 860.2 L734.5 861.6 L734.8 863.0 L735.2 864.4 L735.6 865.8 L736.0 867.3 L736.4 868.7 L736.8 870.1 L737.1 871.5 L737.5 872.9 L737.9 874.4 L738.3 875.8 L738.7 877.2 L739.1 878.6 L739.5 880.1 L740.0 881.5 L740.4 882.9 L740.8 884.3 L741.2 885.7 L741.6 887.2 L742.1 888.6 L742.5 890.0 L742.9 891.4 L743.4 892.9 L743.8 894.3 L744.3 895.7 L744.7 897.1 L745.2 898.6 L745.6 900.0 L746.1 901.4 L746.6 902.8 L747.1 904.3 L747.5 905.7 L748.0 907.1 L748.5 908.5 L749.0 909.9 L749.5 911.3 L750.1 912.7 L750.6 914.1 L751.1 915.5 L751.7 916.9 L752.2 918.3 L752.8 919.7 L753.3 921.1 L753.9 922.5 L754.5 923.9 L755.1 925.2 L755.7 926.6 L756.3 928.0 L756.9 929.3 L757.5 930.7 L758.2 932.0 L758.8 933.4 L759.5 934.7 L760.2 936.0 L760.9 937.3 L761.5 938.6 L762.2 940.0 L763.0 941.3 L763.7 942.5 L764.4 943.8 L765.2 945.1 L765.9 946.4 L766.7 947.6 L767.5 948.9 L768.3 950.1 L769.1 951.3 L770.0 952.6 L770.8 953.8 L771.7 955.0 L772.5 956.2 L773.4 957.3 L774.3 958.5 L775.2 959.7 L776.2 960.8 L777.1 962.0 L778.1 963.1 L779.0 964.2 L780.0 965.3 L781.0 966.4 L782.0 967.5 L783.1 968.6 L784.1 969.6 L785.2 970.7 L786.2 971.7 L787.3 972.7 L788.4 973.7 L789.5 974.7 L790.7 975.7 L791.8 976.6 L792.9 977.6 L794.1 978.5 L795.3 979.5 L796.5 980.4 L797.6 981.3 L798.8 982.2 L800.1 983.0 L801.3 983.9 L802.5 984.7 L803.7 985.6 L805.0 986.4 L806.2 987.2 L807.5 988.0 L808.8 988.7 L810.1 989.5 L811.3 990.2 L812.6 991.0 L813.9 991.7 L815.3 992.4 L816.6 993.0 L817.9 993.7 L819.2 994.3 L820.6 995.0 L821.9 995.6 L823.2 996.2 L824.6 996.8 L825.9 997.4 L827.3 997.9 L828.7 998.5 L830.0 999.0 L831.4 999.5 L832.8 1000.0 L834.2 1000.5 L835.6 1001.0 L837.0 1001.5 L838.4 1001.9 L839.8 1002.4 L841.2 1002.8 L842.6 1003.2 L844.0 1003.6 L845.4 1004.0 L846.9 1004.4 L848.3 1004.8 L849.7 1005.2 L851.2 1005.5 L852.6 1005.9 L854.0 1006.2 L855.5 1006.5 L856.9 1006.9 L858.4 1007.2 L859.8 1007.5 L861.3 1007.8 L862.7 1008.1 L864.2 1008.3 L865.7 1008.6 L867.1 1008.9 L868.6 1009.1 L870.0 1009.4 L871.5 1009.6 L873.0 1009.9 L874.5 1010.1 L875.9 1010.4 L877.4 1010.6 L878.9 1010.8 L880.3 1011.0 L881.8 1011.2 L883.3 1011.4 L884.8 1011.6 L886.2 1011.8 L887.7 1012.0 L889.2 1012.2 L890.7 1012.4 L892.2 1012.6 L893.6 1012.8 L895.1 1012.9 L896.6 1013.1 L898.1 1013.3 L899.5 1013.4 L901.0 1013.6 L902.5 1013.8 L904.0 1013.9 L905.4 1014.1 L906.9 1014.2 L908.4 1014.4 L909.9 1014.5 L911.4 1014.7 L912.8 1014.8 L914.3 1014.9 L915.8 1015.1 L917.3 1015.2 L918.8 1015.3 L920.2 1015.5 L921.7 1015.6 L923.2 1015.7 L924.7 1015.8 L926.1 1015.9 L927.6 1016.1 L929.1 1016.2 L930.6 1016.3 L932.1 1016.4 L933.5 1016.5 L935.0 1016.6 L936.5 1016.7 L938.0 1016.8 L939.5 1016.9 L940.9 1017.0 L942.4 1017.1 L943.9 1017.2 L945.4 1017.3 L946.9 1017.4 L948.3 1017.5 L949.8 1017.5 L951.3 1017.6 L952.8 1017.7 L954.3 1017.8 L955.7 1017.9 L957.2 1017.9 L958.7 1018.0 L960.2 1018.1 L961.7 1018.2 L963.1 1018.2 L964.6 1018.3 L966.1 1018.4 L967.6 1018.5 L969.1 1018.5 L970.5 1018.6 L972.0 1018.7 L973.5 1018.7 L975.0 1018.8 L976.5 1018.8 L978.0 1018.9 L979.4 1019.0 L980.9 1019.0 L982.4 1019.1 L983.9 1019.2 L985.4 1019.2 L986.9 1019.3 L988.3 1019.3 L989.8 1019.4 L991.3 1019.4 L992.8 1019.5 L994.3 1019.6 L995.7 1019.6 L997.2 1019.7 L998.7 1019.7 L1000.2 1019.8 L1001.7 1019.8 L1003.2 1019.9 L1004.6 1019.9 L1006.1 1020.0 L1007.6 1020.0 L1009.1 1020.1 L1010.6 1020.1 L1012.1 1020.1 L1013.5 1020.2 L1015.0 1020.2 L1016.5 1020.3 L1018.0 1020.3 L1019.5 1020.4 L1021.0 1020.4 L1022.4 1020.5 L1023.9 1020.5 L1025.4 1020.5 L1026.9 1020.6 L1028.4 1020.6 L1029.9 1020.7 L1031.3 1020.7 L1032.8 1020.7 L1034.3 1020.8 L1035.8 1020.8 L1037.3 1020.8 L1038.8 1020.9 L1040.3 1020.9 L1041.7 1021.0 L1043.2 1021.0 L1044.7 1021.0 L1046.2 1021.1 L1047.7 1021.1 L1049.2 1021.1 L1050.6 1021.2 L1052.1 1021.2 L1053.6 1021.2 L1055.1 1021.2 L1056.6 1021.3 L1058.1 1021.3 L1059.6 1021.3 L1061.0 1021.4 L1062.5 1021.4 L1064.0 1021.4 L1065.5 1021.4 L1067.0 1021.5 L1068.5 1021.5 L1069.9 1021.5 L1071.4 1021.6 L1072.9 1021.6 L1074.4 1021.6 L1075.9 1021.6 L1077.4 1021.7 L1078.9 1021.7 L1080.3 1021.7 L1081.8 1021.7 L1083.3 1021.8 L1084.8 1021.8 L1086.3 1021.8 L1087.8 1021.8 L1089.2 1021.8 L1090.7 1021.9 L1092.2 1021.9 L1093.7 1021.9 L1095.2 1021.9 L1096.7 1022.0 L1098.1 1022.0 L1099.6 1022.0 L1101.1 1022.0 L1102.6 1022.0 L1104.1 1022.1 L1105.6 1022.1 L1107.1 1022.1 L1108.5 1022.1 L1110.0 1022.1 L1111.5 1022.1 L1113.0 1022.2 L1114.5 1022.2 L1116.0 1022.2 L1117.4 1022.2 L1118.9 1022.2 L1120.4 1022.3 L1121.9 1022.3 L1123.4 1022.3 L1124.9 1022.3 L1126.3 1022.3 L1127.8 1022.3 L1129.3 1022.4 L1130.8 1022.4 L1132.3 1022.4 L1133.8 1022.4 L1135.3 1022.4 L1136.7 1022.4 L1138.2 1022.5 L1139.7 1022.5 L1141.2 1022.5 L1142.7 1022.5 L1144.2 1022.5 L1145.6 1022.5 L1147.1 1022.6 L1148.6 1022.6 L1150.1 1022.6 L1151.6 1022.6 L1153.0 1022.6 L1154.5 1022.6 L1156.0 1022.7 L1157.5 1022.7" stroke="#EDB120" stroke-width="2.9" fill="none" stroke-linejoin="round"/>
<path d="M707.7 834.0 L707.7 833.4 L707.7 832.8 L707.7 832.1 L707.7 831.5 L707.7 830.8 L707.8 830.2 L707.8 829.6 L707.8 828.9 L707.8 828.3 L707.8 827.6 L707.8 827.0 L707.8 826.3 L707.8 825.7 L707.8 825.0 L707.9 824.4 L707.9 823.7 L707.9 823.1 L707.9 822.4 L707.9 821.8 L707.9 821.1 L707.9 820.5 L707.9 819.8 L708.0 819.2 L708.0 818.5 L708.0 817.9 L708.0 817.2 L708.0 816.6 L708.0 815.9 L708.0 815.3 L708.0 814.6 L708.1 814.0 L708.1 813.3 L708.1 812.7 L708.1 812.0 L708.1 811.4 L708.1 810.7 L708.1 810.1 L708.2 809.4 L708.2 808.8 L708.2 808.1 L708.2 807.4 L708.2 806.8 L708.2 806.1 L708.2 805.5 L708.3 804.8 L708.3 804.2 L708.3 803.5 L708.3 802.9 L708.3 802.2 L708.3 801.6 L708.4 800.9 L708.4 800.3 L708.4 799.6 L708.4 798.9 L708.4 798.3 L708.4 797.6 L708.4 797.0 L708.5 796.3 L708.5 795.7 L708.5 793.8 L708.6 792.0 L708.6 790.2 L708.7 788.3 L708.7 786.5 L708.8 784.7 L708.8 782.8 L708.9 781.0 L708.9 779.2 L709.0 777.3 L709.0 775.5 L709.1 773.7 L709.2 771.9 L709.2 770.1 L709.3 768.3 L709.3 766.5 L709.4 764.7 L709.4 762.9 L709.5 761.1 L709.6 759.3 L709.6 757.5 L709.7 755.7 L709.8 753.9 L709.9 752.1 L709.9 750.3 L710.0 748.5 L710.1 746.7 L710.2 744.9 L710.3 743.1 L710.4 741.3 L710.6 739.4 L710.7 737.6 L710.8 735.7 L711.0 733.9 L711.1 732.0 L711.3 730.1 L711.5 728.2 L711.7 726.3 L711.9 724.4 L712.1 722.5 L712.3 720.5 L712.6 718.6 L712.9 716.7 L713.4 714.9 L714.0 713.3 L714.8 711.8 L715.7 710.8 L716.7 710.6 L717.6 711.2 L718.5 712.4 L719.3 714.1 L719.9 715.9 L720.4 717.8 L720.9 719.7 L721.2 721.5 L721.6 723.4 L721.9 725.2 L722.3 727.0 L722.6 728.9 L723.0 730.7 L723.4 732.5 L723.8 734.3 L724.2 736.1 L724.6 737.9 L725.0 739.7 L725.4 741.5 L725.8 743.2 L726.2 745.0 L726.6 746.8 L727.0 748.6 L727.5 750.3 L727.9 752.1 L728.3 753.9 L728.7 755.6 L729.1 757.4 L729.5 759.2 L729.9 760.9 L730.3 762.7 L730.7 764.5 L731.0 766.3 L731.4 768.1 L731.8 769.8 L732.2 771.6 L732.5 773.4 L732.9 775.2 L733.2 777.0 L733.6 778.8 L733.9 780.6 L734.3 782.3 L734.6 784.1 L735.0 785.9 L735.3 787.7 L735.7 789.5 L736.0 791.3 L736.4 793.1 L736.7 794.9 L737.0 796.7 L737.4 798.5 L737.7 800.3 L738.0 802.1 L738.4 803.9 L738.7 805.7 L739.0 807.5 L739.4 809.3 L739.7 811.1 L740.0 812.9 L740.4 814.7 L740.7 816.5 L741.1 818.3 L741.4 820.0 L741.7 821.8 L742.1 823.6 L742.4 825.4 L742.8 827.2 L743.1 829.0 L743.5 830.8 L743.8 832.6 L744.2 834.4 L744.6 836.2 L744.9 838.0 L745.3 839.8 L745.7 841.6 L746.1 843.3 L746.4 845.1 L746.8 846.9 L747.2 848.7 L747.6 850.5 L748.0 852.3 L748.4 854.0 L748.8 855.8 L749.3 857.6 L749.7 859.4 L750.1 861.1 L750.6 862.9 L751.0 864.7 L751.5 866.4 L751.9 868.2 L752.4 870.0 L752.9 871.7 L753.3 873.5 L753.8 875.2 L754.3 877.0 L754.8 878.8 L755.3 880.5 L755.9 882.3 L756.4 884.0 L756.9 885.7 L757.5 887.5 L758.0 889.2 L758.6 891.0 L759.2 892.7 L759.8 894.4 L760.3 896.1 L761.0 897.9 L761.6 899.6 L762.2 901.3 L762.8 903.0 L763.5 904.7 L764.1 906.4 L764.8 908.1 L765.5 909.8 L766.2 911.5 L766.9 913.2 L767.6 914.9 L768.4 916.6 L769.1 918.3 L769.9 919.9 L770.6 921.6 L771.4 923.2 L772.2 924.9 L773.0 926.5 L773.9 928.2 L774.7 929.8 L775.6 931.4 L776.4 933.0 L777.3 934.6 L778.2 936.2 L779.2 937.8 L780.1 939.4 L781.0 940.9 L782.0 942.5 L783.0 944.0 L784.0 945.5 L785.0 947.0 L786.0 948.5 L787.1 950.0 L788.2 951.5 L789.3 953.0 L790.4 954.4 L791.5 955.9 L792.6 957.3 L793.8 958.7 L795.0 960.1 L796.2 961.4 L797.4 962.8 L798.7 964.1 L799.9 965.5 L801.2 966.8 L802.5 968.1 L803.8 969.3 L805.2 970.6 L806.5 971.8 L807.9 973.0 L809.3 974.2 L810.7 975.4 L812.1 976.5 L813.6 977.7 L815.0 978.8 L816.5 979.9 L818.0 980.9 L819.5 981.9 L821.0 983.0 L822.6 983.9 L824.1 984.9 L825.7 985.8 L827.3 986.7 L828.9 987.6 L830.5 988.5 L832.1 989.3 L833.7 990.1 L835.4 990.9 L837.0 991.6 L838.7 992.4 L840.4 993.1 L842.0 993.8 L843.7 994.4 L845.4 995.1 L847.1 995.7 L848.9 996.4 L850.6 997.0 L852.3 997.5 L854.1 998.1 L855.8 998.6 L857.6 999.2 L859.3 999.7 L861.1 1000.2 L862.9 1000.7 L864.6 1001.2 L866.4 1001.6 L868.2 1002.1 L869.9 1002.5 L871.7 1003.0 L873.5 1003.4 L875.3 1003.8 L877.1 1004.2 L878.9 1004.6 L880.6 1005.0 L882.4 1005.3 L884.2 1005.7 L886.0 1006.0 L887.8 1006.4 L889.6 1006.7 L891.4 1007.0 L893.2 1007.4 L895.0 1007.7 L896.8 1008.0 L898.6 1008.3 L900.4 1008.5 L902.2 1008.8 L904.0 1009.1 L905.8 1009.3 L907.6 1009.6 L909.4 1009.8 L911.2 1010.1 L913.0 1010.3 L914.9 1010.5 L916.7 1010.8 L918.5 1011.0 L920.3 1011.2 L922.1 1011.4 L923.9 1011.6 L925.7 1011.8 L927.6 1012.0 L929.4 1012.2 L931.2 1012.3 L933.0 1012.5 L934.8 1012.7 L936.6 1012.8 L938.5 1013.0 L940.3 1013.2 L942.1 1013.3 L943.9 1013.5 L945.8 1013.6 L947.6 1013.7 L949.4 1013.9 L951.2 1014.0 L953.0 1014.1 L954.9 1014.3 L956.7 1014.4 L958.5 1014.5 L960.3 1014.7 L962.2 1014.8 L964.0 1014.9 L965.8 1015.0 L967.6 1015.1 L969.5 1015.2 L971.3 1015.4 L973.1 1015.5 L974.9 1015.6 L976.8 1015.7 L978.6 1015.8 L980.4 1015.9 L982.2 1016.0 L984.0 1016.1 L985.9 1016.2 L987.7 1016.3 L989.5 1016.4 L991.3 1016.5 L993.2 1016.6 L995.0 1016.7 L996.8 1016.7 L998.6 1016.8 L1000.5 1016.9 L1002.3 1017.0 L1004.1 1017.1 L1005.9 1017.2 L1007.8 1017.2 L1009.6 1017.3 L1011.4 1017.4 L1013.2 1017.5 L1015.1 1017.5 L1016.9 1017.6 L1018.7 1017.7 L1020.5 1017.8 L1022.4 1017.8 L1024.2 1017.9 L1026.0 1018.0 L1027.8 1018.0 L1029.7 1018.1 L1031.5 1018.2 L1033.3 1018.2 L1035.1 1018.3 L1037.0 1018.3 L1038.8 1018.4 L1040.6 1018.4 L1042.4 1018.5 L1044.3 1018.6 L1046.1 1018.6 L1047.9 1018.7 L1049.7 1018.7 L1051.6 1018.8 L1053.4 1018.8 L1055.2 1018.9 L1057.1 1018.9 L1058.9 1019.0 L1060.7 1019.0 L1062.5 1019.0 L1064.4 1019.1 L1066.2 1019.1 L1068.0 1019.2 L1069.8 1019.2 L1071.7 1019.3 L1073.5 1019.3 L1075.3 1019.3 L1077.1 1019.4 L1079.0 1019.4 L1080.8 1019.4 L1082.6 1019.5 L1084.4 1019.5 L1086.3 1019.6 L1088.1 1019.6 L1089.9 1019.6 L1091.7 1019.7 L1093.6 1019.7 L1095.4 1019.7 L1097.2 1019.7 L1099.1 1019.8 L1100.9 1019.8 L1102.7 1019.8 L1104.5 1019.9 L1106.4 1019.9 L1108.2 1019.9 L1110.0 1020.0 L1111.8 1020.0 L1113.7 1020.0 L1115.5 1020.0 L1117.3 1020.1 L1119.1 1020.1 L1121.0 1020.1 L1122.8 1020.1 L1124.6 1020.2 L1126.4 1020.2 L1128.3 1020.2 L1130.1 1020.2 L1131.9 1020.3 L1133.8 1020.3 L1135.6 1020.3 L1137.4 1020.3 L1139.2 1020.4 L1141.1 1020.4 L1142.9 1020.4 L1144.7 1020.4 L1146.5 1020.5 L1148.4 1020.5 L1150.2 1020.5 L1152.0 1020.5 L1153.8 1020.6 L1155.7 1020.6 L1157.5 1020.6" stroke="#7E2F8E" stroke-width="2.9" fill="none" stroke-linejoin="round"/>
<path d="M707.70 1027.20v-4.5M707.70 640.90v4.5M797.66 1027.20v-4.5M797.66 640.90v4.5M887.62 1027.20v-4.5M887.62 640.90v4.5M977.58 1027.20v-4.5M977.58 640.90v4.5M1067.54 1027.20v-4.5M1067.54 640.90v4.5M1157.50 1027.20v-4.5M1157.50 640.90v4.5M707.70 1027.20h4.5M1157.50 1027.20h-4.5M707.70 930.62h4.5M1157.50 930.62h-4.5M707.70 834.05h4.5M1157.50 834.05h-4.5M707.70 737.48h4.5M1157.50 737.48h-4.5M707.70 640.90h4.5M1157.50 640.90h-4.5" stroke="#262626" stroke-width="1.1" fill="none"/>
<rect x="707.70" y="640.90" width="449.80" height="386.30" stroke="#262626" stroke-width="1.1" fill="none"/>
<g font-family="Liberation Sans, Arial, sans-serif" font-size="22" fill="#262626"><text transform="translate(706.90 1059.40) scale(1 1.03)" text-anchor="middle">0</text><text transform="translate(796.86 1059.40) scale(1 1.03)" text-anchor="middle">20</text><text transform="translate(886.82 1059.40) scale(1 1.03)" text-anchor="middle">40</text><text transform="translate(976.78 1059.40) scale(1 1.03)" text-anchor="middle">60</text><text transform="translate(1066.74 1059.40) scale(1 1.03)" text-anchor="middle">80</text><text transform="translate(1156.70 1059.40) scale(1 1.03)" text-anchor="middle">100</text><text transform="translate(698.00 1036.40) scale(1 1.03)" text-anchor="end">0</text><text transform="translate(698.00 939.83) scale(1 1.03)" text-anchor="end">0.005</text><text transform="translate(698.00 843.25) scale(1 1.03)" text-anchor="end">0.01</text><text transform="translate(698.00 746.68) scale(1 1.03)" text-anchor="end">0.015</text><text transform="translate(698.00 650.10) scale(1 1.03)" text-anchor="end">0.02</text></g>
<path d="M1390.72 640.90V1027.20M1480.64 640.90V1027.20M1570.56 640.90V1027.20M1660.48 640.90V1027.20" stroke="#262626" stroke-opacity="0.15" stroke-width="1.3" fill="none"/>
<path d="M1300.80 930.62H1750.40M1300.80 834.05H1750.40M1300.80 737.48H1750.40" stroke="#262626" stroke-opacity="0.15" stroke-width="1.3" fill="none"/>
<path d="M1300.8 834.0 L1300.8 834.6 L1300.9 835.1 L1300.9 835.6 L1300.9 836.1 L1301.0 836.6 L1301.0 837.1 L1301.1 837.6 L1301.1 838.1 L1301.1 838.6 L1301.2 839.1 L1301.2 839.6 L1301.2 840.1 L1301.3 840.6 L1301.3 841.1 L1301.3 841.6 L1301.4 842.1 L1301.4 842.6 L1301.4 843.1 L1301.5 843.5 L1301.5 844.0 L1301.5 844.5 L1301.6 845.0 L1301.6 845.5 L1301.6 846.0 L1301.7 846.5 L1301.7 847.0 L1301.7 847.5 L1301.8 848.0 L1301.8 848.5 L1301.8 849.0 L1301.9 849.5 L1301.9 850.0 L1301.9 850.5 L1302.0 851.0 L1302.0 851.5 L1302.0 852.0 L1302.1 852.5 L1302.1 853.0 L1302.1 853.5 L1302.1 854.0 L1302.2 854.5 L1302.2 855.0 L1302.2 855.5 L1302.3 856.0 L1302.3 856.5 L1302.3 857.0 L1302.4 857.4 L1302.4 857.9 L1302.4 858.4 L1302.5 858.9 L1302.5 859.4 L1302.5 859.9 L1302.5 860.4 L1302.6 860.9 L1302.6 861.4 L1302.6 861.9 L1302.7 862.4 L1302.7 862.9 L1302.7 863.4 L1302.8 864.8 L1302.9 866.1 L1303.0 867.5 L1303.1 868.9 L1303.2 870.3 L1303.3 871.7 L1303.3 873.0 L1303.4 874.4 L1303.5 875.8 L1303.6 877.2 L1303.7 878.6 L1303.8 879.9 L1303.9 881.3 L1304.0 882.7 L1304.1 884.1 L1304.2 885.5 L1304.3 886.8 L1304.4 888.2 L1304.6 889.6 L1304.7 891.0 L1304.8 892.3 L1304.9 893.7 L1305.0 895.1 L1305.2 896.5 L1305.3 897.8 L1305.4 899.2 L1305.6 900.6 L1305.7 902.0 L1305.9 903.3 L1306.0 904.7 L1306.2 906.1 L1306.3 907.5 L1306.5 908.8 L1306.6 910.2 L1306.8 911.6 L1307.0 913.0 L1307.2 914.3 L1307.4 915.7 L1307.5 917.1 L1307.7 918.5 L1307.9 919.8 L1308.1 921.2 L1308.4 922.6 L1308.6 924.0 L1308.8 925.4 L1309.0 926.7 L1309.3 928.1 L1309.5 929.5 L1309.7 930.9 L1310.0 932.3 L1310.2 933.7 L1310.5 935.0 L1310.8 936.4 L1311.1 937.8 L1311.4 939.2 L1311.7 940.6 L1312.0 941.9 L1312.3 943.3 L1312.6 944.7 L1313.0 946.1 L1313.3 947.4 L1313.7 948.8 L1314.1 950.2 L1314.5 951.5 L1314.9 952.9 L1315.3 954.2 L1315.7 955.6 L1316.1 956.9 L1316.6 958.2 L1317.1 959.6 L1317.6 960.9 L1318.1 962.2 L1318.6 963.5 L1319.1 964.8 L1319.7 966.1 L1320.3 967.4 L1320.9 968.7 L1321.5 970.0 L1322.1 971.2 L1322.8 972.5 L1323.5 973.7 L1324.1 975.0 L1324.9 976.2 L1325.6 977.4 L1326.4 978.6 L1327.1 979.8 L1327.9 981.0 L1328.7 982.1 L1329.6 983.3 L1330.4 984.4 L1331.3 985.5 L1332.2 986.6 L1333.1 987.6 L1334.0 988.7 L1334.9 989.7 L1335.9 990.7 L1336.8 991.7 L1337.8 992.7 L1338.8 993.6 L1339.8 994.5 L1340.9 995.4 L1341.9 996.3 L1343.0 997.1 L1344.0 997.9 L1345.1 998.7 L1346.2 999.5 L1347.3 1000.3 L1348.5 1001.0 L1349.6 1001.7 L1350.8 1002.4 L1351.9 1003.1 L1353.1 1003.7 L1354.3 1004.4 L1355.5 1005.0 L1356.7 1005.6 L1357.9 1006.2 L1359.1 1006.7 L1360.4 1007.3 L1361.6 1007.8 L1362.9 1008.3 L1364.2 1008.8 L1365.4 1009.3 L1366.7 1009.8 L1368.0 1010.2 L1369.3 1010.7 L1370.6 1011.1 L1371.9 1011.5 L1373.3 1011.9 L1374.6 1012.3 L1375.9 1012.6 L1377.3 1013.0 L1378.6 1013.3 L1380.0 1013.7 L1381.3 1014.0 L1382.7 1014.3 L1384.1 1014.6 L1385.4 1014.9 L1386.8 1015.2 L1388.2 1015.4 L1389.6 1015.7 L1391.0 1015.9 L1392.4 1016.2 L1393.8 1016.4 L1395.2 1016.6 L1396.6 1016.9 L1398.0 1017.1 L1399.4 1017.3 L1400.8 1017.5 L1402.2 1017.7 L1403.6 1017.9 L1405.0 1018.0 L1406.4 1018.2 L1407.8 1018.4 L1409.2 1018.5 L1410.6 1018.7 L1412.0 1018.9 L1413.4 1019.0 L1414.8 1019.2 L1416.2 1019.3 L1417.6 1019.5 L1419.0 1019.6 L1420.4 1019.7 L1421.8 1019.9 L1423.2 1020.0 L1424.6 1020.1 L1426.0 1020.2 L1427.4 1020.3 L1428.8 1020.5 L1430.2 1020.6 L1431.6 1020.7 L1433.0 1020.8 L1434.3 1020.9 L1435.7 1021.0 L1437.1 1021.1 L1438.5 1021.2 L1439.9 1021.3 L1441.3 1021.4 L1442.7 1021.4 L1444.1 1021.5 L1445.5 1021.6 L1446.9 1021.7 L1448.2 1021.8 L1449.6 1021.8 L1451.0 1021.9 L1452.4 1022.0 L1453.8 1022.1 L1455.2 1022.1 L1456.6 1022.2 L1458.0 1022.2 L1459.4 1022.3 L1460.7 1022.4 L1462.1 1022.4 L1463.5 1022.5 L1464.9 1022.5 L1466.3 1022.6 L1467.7 1022.6 L1469.1 1022.7 L1470.4 1022.7 L1471.8 1022.8 L1473.2 1022.8 L1474.6 1022.9 L1476.0 1022.9 L1477.4 1023.0 L1478.8 1023.0 L1480.2 1023.1 L1481.6 1023.1 L1482.9 1023.1 L1484.3 1023.2 L1485.7 1023.2 L1487.1 1023.3 L1488.5 1023.3 L1489.9 1023.4 L1491.3 1023.4 L1492.7 1023.4 L1494.1 1023.5 L1495.5 1023.5 L1496.8 1023.5 L1498.2 1023.6 L1499.6 1023.6 L1501.0 1023.7 L1502.4 1023.7 L1503.8 1023.7 L1505.2 1023.8 L1506.6 1023.8 L1508.0 1023.8 L1509.4 1023.9 L1510.8 1023.9 L1512.2 1023.9 L1513.5 1024.0 L1514.9 1024.0 L1516.3 1024.0 L1517.7 1024.0 L1519.1 1024.1 L1520.5 1024.1 L1521.9 1024.1 L1523.3 1024.2 L1524.7 1024.2 L1526.1 1024.2 L1527.5 1024.2 L1528.9 1024.3 L1530.3 1024.3 L1531.7 1024.3 L1533.1 1024.3 L1534.5 1024.4 L1535.8 1024.4 L1537.2 1024.4 L1538.6 1024.4 L1540.0 1024.5 L1541.4 1024.5 L1542.8 1024.5 L1544.2 1024.5 L1545.6 1024.6 L1547.0 1024.6 L1548.4 1024.6 L1549.8 1024.6 L1551.2 1024.7 L1552.6 1024.7 L1554.0 1024.7 L1555.4 1024.7 L1556.8 1024.7 L1558.2 1024.8 L1559.6 1024.8 L1560.9 1024.8 L1562.3 1024.8 L1563.7 1024.8 L1565.1 1024.9 L1566.5 1024.9 L1567.9 1024.9 L1569.3 1024.9 L1570.7 1024.9 L1572.1 1024.9 L1573.5 1025.0 L1574.9 1025.0 L1576.3 1025.0 L1577.7 1025.0 L1579.1 1025.0 L1580.5 1025.0 L1581.9 1025.1 L1583.3 1025.1 L1584.6 1025.1 L1586.0 1025.1 L1587.4 1025.1 L1588.8 1025.1 L1590.2 1025.1 L1591.6 1025.2 L1593.0 1025.2 L1594.4 1025.2 L1595.8 1025.2 L1597.2 1025.2 L1598.6 1025.2 L1600.0 1025.2 L1601.4 1025.3 L1602.8 1025.3 L1604.2 1025.3 L1605.5 1025.3 L1606.9 1025.3 L1608.3 1025.3 L1609.7 1025.3 L1611.1 1025.3 L1612.5 1025.4 L1613.9 1025.4 L1615.3 1025.4 L1616.7 1025.4 L1618.1 1025.4 L1619.5 1025.4 L1620.9 1025.4 L1622.3 1025.4 L1623.6 1025.4 L1625.0 1025.5 L1626.4 1025.5 L1627.8 1025.5 L1629.2 1025.5 L1630.6 1025.5 L1632.0 1025.5 L1633.4 1025.5 L1634.8 1025.5 L1636.2 1025.5 L1637.6 1025.5 L1639.0 1025.6 L1640.4 1025.6 L1641.8 1025.6 L1643.1 1025.6 L1644.5 1025.6 L1645.9 1025.6 L1647.3 1025.6 L1648.7 1025.6 L1650.1 1025.6 L1651.5 1025.6 L1652.9 1025.6 L1654.3 1025.6 L1655.7 1025.7 L1657.1 1025.7 L1658.5 1025.7 L1659.9 1025.7 L1661.2 1025.7 L1662.6 1025.7 L1664.0 1025.7 L1665.4 1025.7 L1666.8 1025.7 L1668.2 1025.7 L1669.6 1025.7 L1671.0 1025.7 L1672.4 1025.7 L1673.8 1025.7 L1675.2 1025.8 L1676.6 1025.8 L1678.0 1025.8 L1679.3 1025.8 L1680.7 1025.8 L1682.1 1025.8 L1683.5 1025.8 L1684.9 1025.8 L1686.3 1025.8 L1687.7 1025.8 L1689.1 1025.8 L1690.5 1025.8 L1691.9 1025.8 L1693.3 1025.8 L1694.7 1025.8 L1696.1 1025.8 L1697.5 1025.9 L1698.8 1025.9 L1700.2 1025.9 L1701.6 1025.9 L1703.0 1025.9 L1704.4 1025.9 L1705.8 1025.9 L1707.2 1025.9 L1708.6 1025.9 L1710.0 1025.9 L1711.4 1025.9 L1712.8 1025.9 L1714.2 1025.9 L1715.6 1025.9 L1717.0 1025.9 L1718.3 1025.9 L1719.7 1025.9 L1721.1 1025.9 L1722.5 1026.0 L1723.9 1026.0 L1725.3 1026.0 L1726.7 1026.0 L1728.1 1026.0 L1729.5 1026.0 L1730.9 1026.0 L1732.3 1026.0 L1733.7 1026.0 L1735.1 1026.0 L1736.5 1026.0 L1737.9 1026.0 L1739.2 1026.0 L1740.6 1026.0 L1742.0 1026.0 L1743.4 1026.0 L1744.8 1026.0 L1746.2 1026.0 L1747.6 1026.1 L1749.0 1026.1 L1750.4 1026.1" stroke="#0072BD" stroke-width="2.9" fill="none" stroke-linejoin="round"/>
<path d="M1300.8 834.1 L1300.9 834.5 L1301.0 835.0 L1301.1 835.5 L1301.2 835.9 L1301.3 836.4 L1301.4 836.9 L1301.5 837.3 L1301.6 837.8 L1301.7 838.3 L1301.8 838.7 L1301.9 839.2 L1302.0 839.7 L1302.1 840.1 L1302.2 840.6 L1302.3 841.1 L1302.4 841.5 L1302.5 842.0 L1302.6 842.5 L1302.7 842.9 L1302.8 843.4 L1302.9 843.9 L1303.0 844.3 L1303.1 844.8 L1303.2 845.2 L1303.3 845.7 L1303.4 846.2 L1303.5 846.6 L1303.6 847.1 L1303.7 847.6 L1303.8 848.0 L1303.9 848.5 L1304.0 849.0 L1304.1 849.4 L1304.2 849.9 L1304.3 850.3 L1304.4 850.8 L1304.5 851.3 L1304.6 851.7 L1304.8 852.2 L1304.9 852.7 L1305.0 853.1 L1305.1 853.6 L1305.2 854.0 L1305.3 854.5 L1305.4 855.0 L1305.5 855.4 L1305.6 855.9 L1305.7 856.3 L1305.8 856.8 L1305.9 857.3 L1306.0 857.7 L1306.2 858.2 L1306.3 858.6 L1306.4 859.1 L1306.5 859.6 L1306.6 860.0 L1306.7 860.5 L1306.8 861.0 L1306.9 861.4 L1307.2 862.7 L1307.5 864.0 L1307.9 865.3 L1308.2 866.6 L1308.5 867.9 L1308.8 869.2 L1309.1 870.5 L1309.4 871.8 L1309.8 873.0 L1310.1 874.3 L1310.4 875.6 L1310.7 876.9 L1311.0 878.2 L1311.4 879.5 L1311.7 880.8 L1312.0 882.1 L1312.3 883.4 L1312.7 884.7 L1313.0 886.0 L1313.3 887.3 L1313.6 888.6 L1314.0 889.9 L1314.3 891.2 L1314.6 892.5 L1314.9 893.8 L1315.3 895.1 L1315.6 896.4 L1315.9 897.8 L1316.3 899.1 L1316.6 900.4 L1316.9 901.7 L1317.3 903.0 L1317.6 904.3 L1318.0 905.6 L1318.3 906.9 L1318.7 908.2 L1319.0 909.5 L1319.4 910.8 L1319.8 912.1 L1320.1 913.4 L1320.5 914.8 L1320.9 916.1 L1321.2 917.4 L1321.6 918.7 L1322.0 919.9 L1322.4 921.2 L1322.8 922.5 L1323.2 923.8 L1323.6 925.1 L1324.1 926.4 L1324.5 927.7 L1324.9 929.0 L1325.4 930.2 L1325.8 931.5 L1326.3 932.8 L1326.7 934.0 L1327.2 935.3 L1327.7 936.6 L1328.2 937.8 L1328.7 939.1 L1329.2 940.3 L1329.7 941.6 L1330.2 942.8 L1330.7 944.0 L1331.3 945.3 L1331.8 946.5 L1332.4 947.7 L1333.0 948.9 L1333.5 950.1 L1334.1 951.3 L1334.7 952.5 L1335.4 953.7 L1336.0 954.9 L1336.6 956.1 L1337.3 957.2 L1337.9 958.4 L1338.6 959.6 L1339.3 960.7 L1340.0 961.8 L1340.7 963.0 L1341.4 964.1 L1342.2 965.2 L1342.9 966.3 L1343.7 967.4 L1344.5 968.5 L1345.2 969.6 L1346.0 970.7 L1346.8 971.8 L1347.7 972.8 L1348.5 973.9 L1349.3 974.9 L1350.2 975.9 L1351.1 976.9 L1352.0 977.9 L1352.8 978.9 L1353.7 979.9 L1354.7 980.9 L1355.6 981.8 L1356.5 982.8 L1357.5 983.7 L1358.4 984.6 L1359.4 985.5 L1360.4 986.4 L1361.4 987.2 L1362.4 988.1 L1363.4 988.9 L1364.5 989.8 L1365.5 990.6 L1366.6 991.4 L1367.7 992.1 L1368.7 992.9 L1369.8 993.6 L1370.9 994.4 L1372.0 995.1 L1373.2 995.8 L1374.3 996.4 L1375.5 997.1 L1376.6 997.7 L1377.8 998.4 L1379.0 999.0 L1380.2 999.6 L1381.3 1000.2 L1382.6 1000.7 L1383.8 1001.3 L1385.0 1001.8 L1386.2 1002.4 L1387.5 1002.9 L1388.7 1003.4 L1389.9 1003.9 L1391.2 1004.3 L1392.5 1004.8 L1393.7 1005.2 L1395.0 1005.7 L1396.3 1006.1 L1397.6 1006.5 L1398.8 1006.9 L1400.1 1007.3 L1401.4 1007.7 L1402.7 1008.1 L1404.0 1008.5 L1405.3 1008.8 L1406.6 1009.2 L1407.9 1009.5 L1409.2 1009.8 L1410.5 1010.2 L1411.8 1010.5 L1413.2 1010.8 L1414.5 1011.1 L1415.8 1011.4 L1417.1 1011.7 L1418.4 1011.9 L1419.7 1012.2 L1421.0 1012.5 L1422.4 1012.7 L1423.7 1013.0 L1425.0 1013.2 L1426.3 1013.5 L1427.6 1013.7 L1429.0 1013.9 L1430.3 1014.1 L1431.6 1014.3 L1432.9 1014.5 L1434.3 1014.7 L1435.6 1014.9 L1436.9 1015.1 L1438.2 1015.3 L1439.6 1015.5 L1440.9 1015.7 L1442.2 1015.8 L1443.6 1016.0 L1444.9 1016.2 L1446.2 1016.3 L1447.6 1016.5 L1448.9 1016.6 L1450.2 1016.7 L1451.6 1016.9 L1452.9 1017.0 L1454.2 1017.1 L1455.6 1017.3 L1456.9 1017.4 L1458.2 1017.5 L1459.6 1017.6 L1460.9 1017.7 L1462.2 1017.8 L1463.6 1017.9 L1464.9 1018.0 L1466.3 1018.1 L1467.6 1018.2 L1468.9 1018.3 L1470.3 1018.4 L1471.6 1018.5 L1473.0 1018.6 L1474.3 1018.7 L1475.6 1018.8 L1477.0 1018.9 L1478.3 1019.0 L1479.7 1019.0 L1481.0 1019.1 L1482.3 1019.2 L1483.7 1019.3 L1485.0 1019.3 L1486.4 1019.4 L1487.7 1019.5 L1489.0 1019.6 L1490.4 1019.6 L1491.7 1019.7 L1493.1 1019.8 L1494.4 1019.8 L1495.7 1019.9 L1497.1 1020.0 L1498.4 1020.0 L1499.7 1020.1 L1501.1 1020.2 L1502.4 1020.2 L1503.8 1020.3 L1505.1 1020.4 L1506.4 1020.4 L1507.8 1020.5 L1509.1 1020.5 L1510.5 1020.6 L1511.8 1020.6 L1513.1 1020.7 L1514.5 1020.8 L1515.8 1020.8 L1517.2 1020.9 L1518.5 1020.9 L1519.8 1021.0 L1521.2 1021.0 L1522.5 1021.1 L1523.9 1021.1 L1525.2 1021.2 L1526.5 1021.2 L1527.9 1021.3 L1529.2 1021.3 L1530.6 1021.3 L1531.9 1021.4 L1533.2 1021.4 L1534.6 1021.5 L1535.9 1021.5 L1537.3 1021.6 L1538.6 1021.6 L1539.9 1021.6 L1541.3 1021.7 L1542.6 1021.7 L1544.0 1021.8 L1545.3 1021.8 L1546.6 1021.8 L1548.0 1021.9 L1549.3 1021.9 L1550.6 1021.9 L1552.0 1022.0 L1553.3 1022.0 L1554.7 1022.0 L1556.0 1022.1 L1557.3 1022.1 L1558.7 1022.1 L1560.0 1022.2 L1561.4 1022.2 L1562.7 1022.2 L1564.0 1022.3 L1565.4 1022.3 L1566.7 1022.3 L1568.1 1022.3 L1569.4 1022.4 L1570.7 1022.4 L1572.1 1022.4 L1573.4 1022.5 L1574.8 1022.5 L1576.1 1022.5 L1577.4 1022.5 L1578.8 1022.6 L1580.1 1022.6 L1581.5 1022.6 L1582.8 1022.6 L1584.1 1022.7 L1585.5 1022.7 L1586.8 1022.7 L1588.2 1022.7 L1589.5 1022.8 L1590.8 1022.8 L1592.2 1022.8 L1593.5 1022.8 L1594.9 1022.8 L1596.2 1022.9 L1597.6 1022.9 L1598.9 1022.9 L1600.2 1022.9 L1601.6 1023.0 L1602.9 1023.0 L1604.3 1023.0 L1605.6 1023.0 L1606.9 1023.0 L1608.3 1023.1 L1609.6 1023.1 L1611.0 1023.1 L1612.3 1023.1 L1613.6 1023.1 L1615.0 1023.1 L1616.3 1023.2 L1617.7 1023.2 L1619.0 1023.2 L1620.3 1023.2 L1621.7 1023.2 L1623.0 1023.2 L1624.4 1023.3 L1625.7 1023.3 L1627.0 1023.3 L1628.4 1023.3 L1629.7 1023.3 L1631.1 1023.3 L1632.4 1023.3 L1633.8 1023.4 L1635.1 1023.4 L1636.4 1023.4 L1637.8 1023.4 L1639.1 1023.4 L1640.5 1023.4 L1641.8 1023.4 L1643.1 1023.5 L1644.5 1023.5 L1645.8 1023.5 L1647.2 1023.5 L1648.5 1023.5 L1649.8 1023.5 L1651.2 1023.5 L1652.5 1023.5 L1653.9 1023.5 L1655.2 1023.6 L1656.5 1023.6 L1657.9 1023.6 L1659.2 1023.6 L1660.6 1023.6 L1661.9 1023.6 L1663.3 1023.6 L1664.6 1023.6 L1665.9 1023.6 L1667.3 1023.7 L1668.6 1023.7 L1670.0 1023.7 L1671.3 1023.7 L1672.6 1023.7 L1674.0 1023.7 L1675.3 1023.7 L1676.7 1023.7 L1678.0 1023.7 L1679.3 1023.7 L1680.7 1023.7 L1682.0 1023.7 L1683.4 1023.8 L1684.7 1023.8 L1686.1 1023.8 L1687.4 1023.8 L1688.7 1023.8 L1690.1 1023.8 L1691.4 1023.8 L1692.8 1023.8 L1694.1 1023.8 L1695.4 1023.8 L1696.8 1023.8 L1698.1 1023.8 L1699.5 1023.9 L1700.8 1023.9 L1702.1 1023.9 L1703.5 1023.9 L1704.8 1023.9 L1706.2 1023.9 L1707.5 1023.9 L1708.8 1023.9 L1710.2 1023.9 L1711.5 1023.9 L1712.9 1023.9 L1714.2 1023.9 L1715.5 1023.9 L1716.9 1023.9 L1718.2 1023.9 L1719.6 1024.0 L1720.9 1024.0 L1722.3 1024.0 L1723.6 1024.0 L1724.9 1024.0 L1726.3 1024.0 L1727.6 1024.0 L1729.0 1024.0 L1730.3 1024.0 L1731.6 1024.0 L1733.0 1024.0 L1734.3 1024.0 L1735.7 1024.0 L1737.0 1024.0 L1738.3 1024.1 L1739.7 1024.1 L1741.0 1024.1 L1742.4 1024.1 L1743.7 1024.1 L1745.0 1024.1 L1746.4 1024.1 L1747.7 1024.1 L1749.1 1024.1 L1750.4 1024.1" stroke="#D95319" stroke-width="2.9" fill="none" stroke-linejoin="round"/>
<path d="M1300.8 834.1 L1300.8 833.5 L1300.8 833.0 L1300.8 832.5 L1300.8 832.0 L1300.8 831.4 L1300.9 830.9 L1300.9 830.4 L1300.9 829.9 L1301.0 829.3 L1301.0 828.8 L1301.0 828.3 L1301.1 827.8 L1301.1 827.2 L1301.2 826.7 L1301.2 826.2 L1301.3 825.6 L1301.3 825.1 L1301.4 824.6 L1301.4 824.1 L1301.5 823.5 L1301.6 823.0 L1301.6 822.5 L1301.7 821.9 L1301.8 821.4 L1301.8 820.9 L1301.9 820.4 L1302.0 819.8 L1302.0 819.3 L1302.1 818.8 L1302.2 818.3 L1302.3 817.7 L1302.3 817.2 L1302.4 816.7 L1302.5 816.1 L1302.6 815.6 L1302.6 815.1 L1302.7 814.6 L1302.8 814.1 L1302.9 813.5 L1302.9 813.0 L1303.0 812.5 L1303.1 812.0 L1303.2 811.4 L1303.2 810.9 L1303.3 810.4 L1303.4 809.9 L1303.4 809.4 L1303.5 808.9 L1303.5 808.3 L1303.6 807.8 L1303.7 807.3 L1303.7 806.8 L1303.8 806.3 L1303.8 805.8 L1303.9 805.3 L1303.9 804.8 L1303.9 804.3 L1304.0 803.7 L1304.0 803.2 L1304.2 801.8 L1304.3 800.2 L1304.6 798.6 L1304.8 796.9 L1305.2 795.1 L1305.6 793.5 L1306.2 792.1 L1306.8 791.2 L1307.6 791.0 L1308.4 791.5 L1309.3 792.6 L1310.0 793.9 L1310.6 795.3 L1311.1 796.8 L1311.5 798.2 L1311.9 799.7 L1312.2 801.2 L1312.6 802.6 L1313.0 804.1 L1313.4 805.5 L1313.7 807.0 L1314.1 808.5 L1314.5 809.9 L1314.9 811.4 L1315.2 812.8 L1315.6 814.3 L1316.0 815.7 L1316.3 817.2 L1316.7 818.6 L1317.0 820.1 L1317.4 821.5 L1317.8 823.0 L1318.1 824.4 L1318.5 825.8 L1318.8 827.3 L1319.2 828.7 L1319.6 830.2 L1319.9 831.6 L1320.3 833.0 L1320.6 834.5 L1321.0 835.9 L1321.3 837.3 L1321.7 838.8 L1322.1 840.2 L1322.4 841.6 L1322.8 843.0 L1323.1 844.5 L1323.5 845.9 L1323.9 847.3 L1324.2 848.7 L1324.6 850.2 L1324.9 851.6 L1325.3 853.0 L1325.7 854.4 L1326.0 855.9 L1326.4 857.3 L1326.8 858.7 L1327.2 860.1 L1327.5 861.5 L1327.9 863.0 L1328.3 864.4 L1328.7 865.8 L1329.1 867.2 L1329.4 868.6 L1329.8 870.1 L1330.2 871.5 L1330.6 872.9 L1331.0 874.3 L1331.4 875.8 L1331.8 877.2 L1332.2 878.6 L1332.6 880.0 L1333.0 881.4 L1333.4 882.9 L1333.9 884.3 L1334.3 885.7 L1334.7 887.1 L1335.1 888.6 L1335.6 890.0 L1336.0 891.4 L1336.4 892.8 L1336.9 894.3 L1337.3 895.7 L1337.8 897.1 L1338.2 898.5 L1338.7 900.0 L1339.2 901.4 L1339.6 902.8 L1340.1 904.2 L1340.6 905.6 L1341.1 907.1 L1341.6 908.5 L1342.1 909.9 L1342.6 911.3 L1343.1 912.7 L1343.7 914.1 L1344.2 915.5 L1344.7 916.9 L1345.3 918.3 L1345.8 919.7 L1346.4 921.1 L1347.0 922.4 L1347.6 923.8 L1348.1 925.2 L1348.7 926.6 L1349.4 927.9 L1350.0 929.3 L1350.6 930.6 L1351.2 932.0 L1351.9 933.3 L1352.6 934.6 L1353.2 936.0 L1353.9 937.3 L1354.6 938.6 L1355.3 939.9 L1356.0 941.2 L1356.7 942.5 L1357.5 943.8 L1358.2 945.1 L1359.0 946.3 L1359.8 947.6 L1360.6 948.8 L1361.4 950.1 L1362.2 951.3 L1363.0 952.5 L1363.8 953.7 L1364.7 954.9 L1365.6 956.1 L1366.4 957.3 L1367.3 958.5 L1368.3 959.6 L1369.2 960.8 L1370.1 961.9 L1371.1 963.1 L1372.1 964.2 L1373.0 965.3 L1374.1 966.4 L1375.1 967.4 L1376.1 968.5 L1377.1 969.6 L1378.2 970.6 L1379.3 971.6 L1380.4 972.7 L1381.5 973.7 L1382.6 974.7 L1383.7 975.6 L1384.8 976.6 L1386.0 977.6 L1387.1 978.5 L1388.3 979.4 L1389.5 980.3 L1390.7 981.2 L1391.9 982.1 L1393.1 983.0 L1394.3 983.9 L1395.5 984.7 L1396.8 985.5 L1398.0 986.4 L1399.3 987.2 L1400.5 987.9 L1401.8 988.7 L1403.1 989.5 L1404.4 990.2 L1405.7 990.9 L1407.0 991.6 L1408.3 992.3 L1409.6 993.0 L1410.9 993.7 L1412.2 994.3 L1413.6 995.0 L1414.9 995.6 L1416.2 996.2 L1417.6 996.8 L1418.9 997.3 L1420.3 997.9 L1421.7 998.4 L1423.0 999.0 L1424.4 999.5 L1425.8 1000.0 L1427.2 1000.5 L1428.6 1001.0 L1430.0 1001.4 L1431.4 1001.9 L1432.8 1002.3 L1434.2 1002.8 L1435.6 1003.2 L1437.0 1003.6 L1438.4 1004.0 L1439.9 1004.4 L1441.3 1004.8 L1442.7 1005.1 L1444.1 1005.5 L1445.6 1005.9 L1447.0 1006.2 L1448.5 1006.5 L1449.9 1006.8 L1451.4 1007.2 L1452.8 1007.5 L1454.3 1007.8 L1455.7 1008.1 L1457.2 1008.3 L1458.6 1008.6 L1460.1 1008.9 L1461.6 1009.1 L1463.0 1009.4 L1464.5 1009.6 L1466.0 1009.9 L1467.4 1010.1 L1468.9 1010.3 L1470.4 1010.6 L1471.8 1010.8 L1473.3 1011.0 L1474.8 1011.2 L1476.3 1011.4 L1477.7 1011.6 L1479.2 1011.8 L1480.7 1012.0 L1482.2 1012.2 L1483.7 1012.4 L1485.1 1012.6 L1486.6 1012.7 L1488.1 1012.9 L1489.6 1013.1 L1491.0 1013.3 L1492.5 1013.4 L1494.0 1013.6 L1495.5 1013.8 L1496.9 1013.9 L1498.4 1014.1 L1499.9 1014.2 L1501.4 1014.4 L1502.9 1014.5 L1504.3 1014.7 L1505.8 1014.8 L1507.3 1014.9 L1508.8 1015.1 L1510.2 1015.2 L1511.7 1015.3 L1513.2 1015.5 L1514.7 1015.6 L1516.2 1015.7 L1517.6 1015.8 L1519.1 1015.9 L1520.6 1016.1 L1522.1 1016.2 L1523.5 1016.3 L1525.0 1016.4 L1526.5 1016.5 L1528.0 1016.6 L1529.5 1016.7 L1530.9 1016.8 L1532.4 1016.9 L1533.9 1017.0 L1535.4 1017.1 L1536.9 1017.2 L1538.3 1017.3 L1539.8 1017.4 L1541.3 1017.5 L1542.8 1017.5 L1544.3 1017.6 L1545.7 1017.7 L1547.2 1017.8 L1548.7 1017.9 L1550.2 1017.9 L1551.7 1018.0 L1553.1 1018.1 L1554.6 1018.2 L1556.1 1018.2 L1557.6 1018.3 L1559.1 1018.4 L1560.5 1018.5 L1562.0 1018.5 L1563.5 1018.6 L1565.0 1018.7 L1566.5 1018.7 L1567.9 1018.8 L1569.4 1018.8 L1570.9 1018.9 L1572.4 1019.0 L1573.9 1019.0 L1575.4 1019.1 L1576.8 1019.2 L1578.3 1019.2 L1579.8 1019.3 L1581.3 1019.3 L1582.8 1019.4 L1584.2 1019.4 L1585.7 1019.5 L1587.2 1019.5 L1588.7 1019.6 L1590.2 1019.7 L1591.7 1019.7 L1593.1 1019.8 L1594.6 1019.8 L1596.1 1019.9 L1597.6 1019.9 L1599.1 1020.0 L1600.6 1020.0 L1602.0 1020.1 L1603.5 1020.1 L1605.0 1020.1 L1606.5 1020.2 L1608.0 1020.2 L1609.5 1020.3 L1610.9 1020.3 L1612.4 1020.4 L1613.9 1020.4 L1615.4 1020.5 L1616.9 1020.5 L1618.4 1020.5 L1619.8 1020.6 L1621.3 1020.6 L1622.8 1020.7 L1624.3 1020.7 L1625.8 1020.7 L1627.3 1020.8 L1628.7 1020.8 L1630.2 1020.8 L1631.7 1020.9 L1633.2 1020.9 L1634.7 1021.0 L1636.2 1021.0 L1637.6 1021.0 L1639.1 1021.1 L1640.6 1021.1 L1642.1 1021.1 L1643.6 1021.2 L1645.1 1021.2 L1646.5 1021.2 L1648.0 1021.2 L1649.5 1021.3 L1651.0 1021.3 L1652.5 1021.3 L1654.0 1021.4 L1655.4 1021.4 L1656.9 1021.4 L1658.4 1021.4 L1659.9 1021.5 L1661.4 1021.5 L1662.9 1021.5 L1664.4 1021.6 L1665.8 1021.6 L1667.3 1021.6 L1668.8 1021.6 L1670.3 1021.7 L1671.8 1021.7 L1673.3 1021.7 L1674.7 1021.7 L1676.2 1021.8 L1677.7 1021.8 L1679.2 1021.8 L1680.7 1021.8 L1682.2 1021.8 L1683.6 1021.9 L1685.1 1021.9 L1686.6 1021.9 L1688.1 1021.9 L1689.6 1022.0 L1691.1 1022.0 L1692.5 1022.0 L1694.0 1022.0 L1695.5 1022.0 L1697.0 1022.1 L1698.5 1022.1 L1700.0 1022.1 L1701.5 1022.1 L1702.9 1022.1 L1704.4 1022.1 L1705.9 1022.2 L1707.4 1022.2 L1708.9 1022.2 L1710.4 1022.2 L1711.8 1022.2 L1713.3 1022.3 L1714.8 1022.3 L1716.3 1022.3 L1717.8 1022.3 L1719.3 1022.3 L1720.7 1022.3 L1722.2 1022.4 L1723.7 1022.4 L1725.2 1022.4 L1726.7 1022.4 L1728.2 1022.4 L1729.6 1022.4 L1731.1 1022.5 L1732.6 1022.5 L1734.1 1022.5 L1735.6 1022.5 L1737.1 1022.5 L1738.5 1022.5 L1740.0 1022.6 L1741.5 1022.6 L1743.0 1022.6 L1744.5 1022.6 L1746.0 1022.6 L1747.4 1022.6 L1748.9 1022.7 L1750.4 1022.7" stroke="#EDB120" stroke-width="2.9" fill="none" stroke-linejoin="round"/>
<path d="M1300.8 834.0 L1300.8 833.4 L1300.8 832.8 L1300.8 832.1 L1300.8 831.5 L1300.8 830.8 L1300.9 830.2 L1300.9 829.6 L1300.9 828.9 L1300.9 828.3 L1300.9 827.6 L1300.9 827.0 L1300.9 826.3 L1300.9 825.7 L1300.9 825.0 L1301.0 824.4 L1301.0 823.7 L1301.0 823.1 L1301.0 822.4 L1301.0 821.8 L1301.0 821.1 L1301.0 820.5 L1301.0 819.8 L1301.1 819.2 L1301.1 818.5 L1301.1 817.9 L1301.1 817.2 L1301.1 816.6 L1301.1 815.9 L1301.1 815.3 L1301.1 814.6 L1301.2 814.0 L1301.2 813.3 L1301.2 812.7 L1301.2 812.0 L1301.2 811.4 L1301.2 810.7 L1301.2 810.1 L1301.3 809.4 L1301.3 808.8 L1301.3 808.1 L1301.3 807.5 L1301.3 806.8 L1301.3 806.1 L1301.3 805.5 L1301.4 804.8 L1301.4 804.2 L1301.4 803.5 L1301.4 802.9 L1301.4 802.2 L1301.4 801.6 L1301.4 800.9 L1301.5 800.3 L1301.5 799.6 L1301.5 798.9 L1301.5 798.3 L1301.5 797.6 L1301.5 797.0 L1301.6 796.3 L1301.6 795.7 L1301.6 793.8 L1301.7 792.0 L1301.7 790.2 L1301.8 788.3 L1301.8 786.5 L1301.9 784.7 L1301.9 782.8 L1302.0 781.0 L1302.0 779.2 L1302.1 777.4 L1302.1 775.5 L1302.2 773.7 L1302.3 771.9 L1302.3 770.1 L1302.4 768.3 L1302.4 766.5 L1302.5 764.7 L1302.5 762.9 L1302.6 761.1 L1302.7 759.3 L1302.7 757.5 L1302.8 755.7 L1302.9 753.9 L1303.0 752.1 L1303.0 750.3 L1303.1 748.5 L1303.2 746.7 L1303.3 744.9 L1303.4 743.1 L1303.5 741.3 L1303.7 739.4 L1303.8 737.6 L1303.9 735.8 L1304.1 733.9 L1304.2 732.0 L1304.4 730.2 L1304.6 728.3 L1304.8 726.4 L1305.0 724.4 L1305.2 722.5 L1305.4 720.6 L1305.7 718.6 L1306.0 716.7 L1306.5 714.9 L1307.1 713.3 L1307.9 711.8 L1308.8 710.8 L1309.8 710.6 L1310.7 711.1 L1311.6 712.4 L1312.4 714.1 L1313.0 715.9 L1313.5 717.8 L1314.0 719.6 L1314.3 721.5 L1314.7 723.3 L1315.0 725.2 L1315.3 727.0 L1315.7 728.8 L1316.1 730.7 L1316.5 732.5 L1316.9 734.3 L1317.2 736.1 L1317.7 737.9 L1318.1 739.6 L1318.5 741.4 L1318.9 743.2 L1319.3 745.0 L1319.7 746.7 L1320.1 748.5 L1320.5 750.3 L1321.0 752.1 L1321.4 753.8 L1321.8 755.6 L1322.2 757.4 L1322.6 759.1 L1323.0 760.9 L1323.4 762.7 L1323.7 764.5 L1324.1 766.2 L1324.5 768.0 L1324.9 769.8 L1325.2 771.6 L1325.6 773.4 L1326.0 775.2 L1326.3 776.9 L1326.7 778.7 L1327.0 780.5 L1327.4 782.3 L1327.7 784.1 L1328.1 785.9 L1328.4 787.7 L1328.8 789.5 L1329.1 791.3 L1329.4 793.1 L1329.8 794.9 L1330.1 796.7 L1330.4 798.4 L1330.8 800.2 L1331.1 802.0 L1331.4 803.8 L1331.8 805.6 L1332.1 807.4 L1332.4 809.2 L1332.8 811.0 L1333.1 812.8 L1333.4 814.6 L1333.8 816.4 L1334.1 818.2 L1334.5 820.0 L1334.8 821.8 L1335.2 823.6 L1335.5 825.4 L1335.8 827.2 L1336.2 829.0 L1336.6 830.8 L1336.9 832.6 L1337.3 834.3 L1337.6 836.1 L1338.0 837.9 L1338.4 839.7 L1338.7 841.5 L1339.1 843.3 L1339.5 845.1 L1339.9 846.9 L1340.3 848.6 L1340.7 850.4 L1341.1 852.2 L1341.5 854.0 L1341.9 855.8 L1342.3 857.5 L1342.8 859.3 L1343.2 861.1 L1343.6 862.9 L1344.1 864.6 L1344.5 866.4 L1345.0 868.2 L1345.4 869.9 L1345.9 871.7 L1346.4 873.4 L1346.9 875.2 L1347.4 876.9 L1347.9 878.7 L1348.4 880.4 L1348.9 882.2 L1349.4 883.9 L1350.0 885.7 L1350.5 887.4 L1351.1 889.2 L1351.6 890.9 L1352.2 892.6 L1352.8 894.4 L1353.4 896.1 L1354.0 897.8 L1354.6 899.5 L1355.3 901.2 L1355.9 903.0 L1356.5 904.7 L1357.2 906.4 L1357.9 908.1 L1358.6 909.8 L1359.2 911.5 L1360.0 913.2 L1360.7 914.8 L1361.4 916.5 L1362.2 918.2 L1362.9 919.9 L1363.7 921.5 L1364.5 923.2 L1365.3 924.8 L1366.1 926.5 L1366.9 928.1 L1367.7 929.7 L1368.6 931.4 L1369.5 933.0 L1370.4 934.6 L1371.3 936.2 L1372.2 937.7 L1373.1 939.3 L1374.1 940.9 L1375.0 942.4 L1376.0 943.9 L1377.0 945.5 L1378.0 947.0 L1379.1 948.5 L1380.1 950.0 L1381.2 951.5 L1382.3 952.9 L1383.4 954.4 L1384.5 955.8 L1385.7 957.2 L1386.8 958.6 L1388.0 960.0 L1389.2 961.4 L1390.4 962.7 L1391.7 964.1 L1392.9 965.4 L1394.2 966.7 L1395.5 968.0 L1396.8 969.3 L1398.2 970.5 L1399.5 971.8 L1400.9 973.0 L1402.3 974.2 L1403.7 975.3 L1405.1 976.5 L1406.6 977.6 L1408.0 978.7 L1409.5 979.8 L1411.0 980.9 L1412.5 981.9 L1414.0 982.9 L1415.5 983.9 L1417.1 984.9 L1418.7 985.8 L1420.2 986.7 L1421.8 987.6 L1423.4 988.4 L1425.1 989.3 L1426.7 990.1 L1428.3 990.8 L1430.0 991.6 L1431.7 992.3 L1433.3 993.1 L1435.0 993.7 L1436.7 994.4 L1438.4 995.1 L1440.1 995.7 L1441.8 996.3 L1443.6 996.9 L1445.3 997.5 L1447.0 998.1 L1448.8 998.6 L1450.5 999.2 L1452.3 999.7 L1454.1 1000.2 L1455.8 1000.7 L1457.6 1001.1 L1459.4 1001.6 L1461.1 1002.1 L1462.9 1002.5 L1464.7 1002.9 L1466.5 1003.4 L1468.3 1003.8 L1470.0 1004.2 L1471.8 1004.6 L1473.6 1004.9 L1475.4 1005.3 L1477.2 1005.7 L1479.0 1006.0 L1480.8 1006.4 L1482.6 1006.7 L1484.4 1007.0 L1486.2 1007.3 L1488.0 1007.7 L1489.8 1008.0 L1491.6 1008.2 L1493.4 1008.5 L1495.2 1008.8 L1497.0 1009.1 L1498.8 1009.3 L1500.6 1009.6 L1502.4 1009.8 L1504.2 1010.1 L1506.0 1010.3 L1507.8 1010.5 L1509.6 1010.8 L1511.4 1011.0 L1513.2 1011.2 L1515.1 1011.4 L1516.9 1011.6 L1518.7 1011.8 L1520.5 1012.0 L1522.3 1012.2 L1524.1 1012.3 L1526.0 1012.5 L1527.8 1012.7 L1529.6 1012.8 L1531.4 1013.0 L1533.2 1013.1 L1535.1 1013.3 L1536.9 1013.4 L1538.7 1013.6 L1540.5 1013.7 L1542.3 1013.9 L1544.2 1014.0 L1546.0 1014.1 L1547.8 1014.3 L1549.6 1014.4 L1551.5 1014.5 L1553.3 1014.7 L1555.1 1014.8 L1556.9 1014.9 L1558.7 1015.0 L1560.6 1015.1 L1562.4 1015.2 L1564.2 1015.4 L1566.0 1015.5 L1567.9 1015.6 L1569.7 1015.7 L1571.5 1015.8 L1573.3 1015.9 L1575.2 1016.0 L1577.0 1016.1 L1578.8 1016.2 L1580.6 1016.3 L1582.5 1016.4 L1584.3 1016.5 L1586.1 1016.6 L1587.9 1016.7 L1589.8 1016.7 L1591.6 1016.8 L1593.4 1016.9 L1595.2 1017.0 L1597.0 1017.1 L1598.9 1017.2 L1600.7 1017.2 L1602.5 1017.3 L1604.3 1017.4 L1606.2 1017.5 L1608.0 1017.5 L1609.8 1017.6 L1611.6 1017.7 L1613.5 1017.8 L1615.3 1017.8 L1617.1 1017.9 L1618.9 1018.0 L1620.8 1018.0 L1622.6 1018.1 L1624.4 1018.2 L1626.2 1018.2 L1628.1 1018.3 L1629.9 1018.3 L1631.7 1018.4 L1633.5 1018.4 L1635.4 1018.5 L1637.2 1018.6 L1639.0 1018.6 L1640.8 1018.7 L1642.7 1018.7 L1644.5 1018.8 L1646.3 1018.8 L1648.1 1018.9 L1650.0 1018.9 L1651.8 1019.0 L1653.6 1019.0 L1655.4 1019.0 L1657.3 1019.1 L1659.1 1019.1 L1660.9 1019.2 L1662.8 1019.2 L1664.6 1019.3 L1666.4 1019.3 L1668.2 1019.3 L1670.1 1019.4 L1671.9 1019.4 L1673.7 1019.4 L1675.5 1019.5 L1677.4 1019.5 L1679.2 1019.6 L1681.0 1019.6 L1682.8 1019.6 L1684.7 1019.7 L1686.5 1019.7 L1688.3 1019.7 L1690.1 1019.7 L1692.0 1019.8 L1693.8 1019.8 L1695.6 1019.8 L1697.4 1019.9 L1699.3 1019.9 L1701.1 1019.9 L1702.9 1020.0 L1704.7 1020.0 L1706.6 1020.0 L1708.4 1020.0 L1710.2 1020.1 L1712.1 1020.1 L1713.9 1020.1 L1715.7 1020.1 L1717.5 1020.2 L1719.4 1020.2 L1721.2 1020.2 L1723.0 1020.2 L1724.8 1020.3 L1726.7 1020.3 L1728.5 1020.3 L1730.3 1020.3 L1732.1 1020.4 L1734.0 1020.4 L1735.8 1020.4 L1737.6 1020.4 L1739.4 1020.5 L1741.3 1020.5 L1743.1 1020.5 L1744.9 1020.5 L1746.7 1020.6 L1748.6 1020.6 L1750.4 1020.6" stroke="#7E2F8E" stroke-width="2.9" fill="none" stroke-linejoin="round"/>
<path d="M1300.80 1027.20v-4.5M1300.80 640.90v4.5M1390.72 1027.20v-4.5M1390.72 640.90v4.5M1480.64 1027.20v-4.5M1480.64 640.90v4.5M1570.56 1027.20v-4.5M1570.56 640.90v4.5M1660.48 1027.20v-4.5M1660.48 640.90v4.5M1750.40 1027.20v-4.5M1750.40 640.90v4.5M1300.80 1027.20h4.5M1750.40 1027.20h-4.5M1300.80 930.62h4.5M1750.40 930.62h-4.5M1300.80 834.05h4.5M1750.40 834.05h-4.5M1300.80 737.48h4.5M1750.40 737.48h-4.5M1300.80 640.90h4.5M1750.40 640.90h-4.5" stroke="#262626" stroke-width="1.1" fill="none"/>
<rect x="1300.80" y="640.90" width="449.60" height="386.30" stroke="#262626" stroke-width="1.1" fill="none"/>
<g font-family="Liberation Sans, Arial, sans-serif" font-size="22" fill="#262626"><text transform="translate(1300.00 1059.40) scale(1 1.03)" text-anchor="middle">0</text><text transform="translate(1389.92 1059.40) scale(1 1.03)" text-anchor="middle">20</text><text transform="translate(1479.84 1059.40) scale(1 1.03)" text-anchor="middle">40</text><text transform="translate(1569.76 1059.40) scale(1 1.03)" text-anchor="middle">60</text><text transform="translate(1659.68 1059.40) scale(1 1.03)" text-anchor="middle">80</text><text transform="translate(1749.60 1059.40) scale(1 1.03)" text-anchor="middle">100</text><text transform="translate(1291.10 1036.40) scale(1 1.03)" text-anchor="end">0</text><text transform="translate(1291.10 939.83) scale(1 1.03)" text-anchor="end">0.005</text><text transform="translate(1291.10 843.25) scale(1 1.03)" text-anchor="end">0.01</text><text transform="translate(1291.10 746.68) scale(1 1.03)" text-anchor="end">0.015</text><text transform="translate(1291.10 650.10) scale(1 1.03)" text-anchor="end">0.02</text></g>
<rect x="373.40" y="326.40" width="160.5" height="134.9" fill="#fff" stroke="#262626" stroke-width="1.1"/>
<path d="M379.90 345.50H446.20" stroke="#0072BD" stroke-width="2.9"/>
<path d="M379.90 377.90H446.20" stroke="#D95319" stroke-width="2.9"/>
<path d="M379.90 410.30H446.20" stroke="#EDB120" stroke-width="2.9"/>
<path d="M379.90 442.70H446.20" stroke="#7E2F8E" stroke-width="2.9"/>
<g font-family="Liberation Serif, serif" fill="#000" stroke="#fff" stroke-width="0.4"><text transform="translate(451.12 352.5) scale(1.099 1)" font-size="26.67" font-style="italic">k</text><text transform="translate(471.32 354.91) scale(1.385 1)" font-size="27.20" stroke="none">=</text><text transform="translate(500.21 352.6) scale(0.984 1)" font-size="27.69">2</text><text transform="translate(451.12 384.9) scale(1.099 1)" font-size="26.67" font-style="italic">k</text><text transform="translate(471.32 387.31) scale(1.385 1)" font-size="27.20" stroke="none">=</text><text transform="translate(499.67 384.73) scale(0.999 1)" font-size="27.27">5</text><text transform="translate(451.12 417.3) scale(1.099 1)" font-size="26.67" font-style="italic">k</text><text transform="translate(471.32 419.71) scale(1.385 1)" font-size="27.20" stroke="none">=</text><text transform="translate(500.08 417.2) scale(0.996 1)" font-size="26.97">1</text><text transform="translate(512.58 417.04) scale(1.012 1)" font-size="27.76">0</text><text transform="translate(451.12 449.7) scale(1.099 1)" font-size="26.67" font-style="italic">k</text><text transform="translate(471.32 452.11) scale(1.385 1)" font-size="27.20" stroke="none">=</text><text transform="translate(500.08 449.6) scale(0.996 1)" font-size="26.97">1</text><text transform="translate(511.93 449.72) scale(1.047 1)" font-size="28.18">5</text></g>
<rect x="964.60" y="326.40" width="160.5" height="134.9" fill="#fff" stroke="#262626" stroke-width="1.1"/>
<path d="M971.10 345.50H1037.40" stroke="#0072BD" stroke-width="2.9"/>
<path d="M971.10 377.90H1037.40" stroke="#D95319" stroke-width="2.9"/>
<path d="M971.10 410.30H1037.40" stroke="#EDB120" stroke-width="2.9"/>
<path d="M971.10 442.70H1037.40" stroke="#7E2F8E" stroke-width="2.9"/>
<g font-family="Liberation Serif, serif" fill="#000" stroke="#fff" stroke-width="0.4"><text transform="translate(1042.32 352.5) scale(1.099 1)" font-size="26.67" font-style="italic">k</text><text transform="translate(1062.52 354.91) scale(1.385 1)" font-size="27.20" stroke="none">=</text><text transform="translate(1091.41 352.6) scale(0.984 1)" font-size="27.69">2</text><text transform="translate(1042.32 384.9) scale(1.099 1)" font-size="26.67" font-style="italic">k</text><text transform="translate(1062.52 387.31) scale(1.385 1)" font-size="27.20" stroke="none">=</text><text transform="translate(1090.86 384.73) scale(0.999 1)" font-size="27.27">5</text><text transform="translate(1042.32 417.3) scale(1.099 1)" font-size="26.67" font-style="italic">k</text><text transform="translate(1062.52 419.71) scale(1.385 1)" font-size="27.20" stroke="none">=</text><text transform="translate(1091.28 417.2) scale(0.996 1)" font-size="26.97">1</text><text transform="translate(1103.78 417.04) scale(1.012 1)" font-size="27.76">0</text><text transform="translate(1042.32 449.7) scale(1.099 1)" font-size="26.67" font-style="italic">k</text><text transform="translate(1062.52 452.11) scale(1.385 1)" font-size="27.20" stroke="none">=</text><text transform="translate(1091.28 449.6) scale(0.996 1)" font-size="26.97">1</text><text transform="translate(1103.13 449.72) scale(1.047 1)" font-size="28.18">5</text></g>
<rect x="1556.20" y="326.40" width="160.5" height="134.9" fill="#fff" stroke="#262626" stroke-width="1.1"/>
<path d="M1562.70 345.50H1629.00" stroke="#0072BD" stroke-width="2.9"/>
<path d="M1562.70 377.90H1629.00" stroke="#D95319" stroke-width="2.9"/>
<path d="M1562.70 410.30H1629.00" stroke="#EDB120" stroke-width="2.9"/>
<path d="M1562.70 442.70H1629.00" stroke="#7E2F8E" stroke-width="2.9"/>
<g font-family="Liberation Serif, serif" fill="#000" stroke="#fff" stroke-width="0.4"><text transform="translate(1633.92 352.5) scale(1.099 1)" font-size="26.67" font-style="italic">k</text><text transform="translate(1654.12 354.91) scale(1.385 1)" font-size="27.20" stroke="none">=</text><text transform="translate(1683.01 352.6) scale(0.984 1)" font-size="27.69">2</text><text transform="translate(1633.92 384.9) scale(1.099 1)" font-size="26.67" font-style="italic">k</text><text transform="translate(1654.12 387.31) scale(1.385 1)" font-size="27.20" stroke="none">=</text><text transform="translate(1682.46 384.73) scale(0.999 1)" font-size="27.27">5</text><text transform="translate(1633.92 417.3) scale(1.099 1)" font-size="26.67" font-style="italic">k</text><text transform="translate(1654.12 419.71) scale(1.385 1)" font-size="27.20" stroke="none">=</text><text transform="translate(1682.88 417.2) scale(0.996 1)" font-size="26.97">1</text><text transform="translate(1695.38 417.04) scale(1.012 1)" font-size="27.76">0</text><text transform="translate(1633.92 449.7) scale(1.099 1)" font-size="26.67" font-style="italic">k</text><text transform="translate(1654.12 452.11) scale(1.385 1)" font-size="27.20" stroke="none">=</text><text transform="translate(1682.88 449.6) scale(0.996 1)" font-size="26.97">1</text><text transform="translate(1694.73 449.72) scale(1.047 1)" font-size="28.18">5</text></g>
<rect x="376.60" y="670.20" width="154.2" height="134.9" fill="#fff" stroke="#262626" stroke-width="1.1"/>
<path d="M383.10 689.30H449.40" stroke="#0072BD" stroke-width="2.9"/>
<path d="M383.10 721.70H449.40" stroke="#D95319" stroke-width="2.9"/>
<path d="M383.10 754.10H449.40" stroke="#EDB120" stroke-width="2.9"/>
<path d="M383.10 786.50H449.40" stroke="#7E2F8E" stroke-width="2.9"/>
<g font-family="Liberation Serif, serif" fill="#000" stroke="#fff" stroke-width="0.4"><text transform="translate(453.62 696.3) scale(1.112 1)" font-size="26.52" font-style="italic">l</text><text transform="translate(469.42 698.71) scale(1.385 1)" font-size="27.20" stroke="none">=</text><text transform="translate(498.31 696.4) scale(0.984 1)" font-size="27.69">2</text><text transform="translate(453.62 728.7) scale(1.112 1)" font-size="26.52" font-style="italic">l</text><text transform="translate(469.42 731.11) scale(1.385 1)" font-size="27.20" stroke="none">=</text><text transform="translate(497.76 728.53) scale(0.999 1)" font-size="27.27">5</text><text transform="translate(453.62 761.1) scale(1.112 1)" font-size="26.52" font-style="italic">l</text><text transform="translate(469.42 763.51) scale(1.385 1)" font-size="27.20" stroke="none">=</text><text transform="translate(498.18 761) scale(0.996 1)" font-size="26.97">1</text><text transform="translate(510.68 760.84) scale(1.012 1)" font-size="27.76">0</text><text transform="translate(453.62 793.5) scale(1.112 1)" font-size="26.52" font-style="italic">l</text><text transform="translate(469.42 795.91) scale(1.385 1)" font-size="27.20" stroke="none">=</text><text transform="translate(498.18 793.4) scale(0.996 1)" font-size="26.97">1</text><text transform="translate(510.03 793.52) scale(1.047 1)" font-size="28.18">5</text></g>
<rect x="967.80" y="670.20" width="154.2" height="134.9" fill="#fff" stroke="#262626" stroke-width="1.1"/>
<path d="M974.30 689.30H1040.60" stroke="#0072BD" stroke-width="2.9"/>
<path d="M974.30 721.70H1040.60" stroke="#D95319" stroke-width="2.9"/>
<path d="M974.30 754.10H1040.60" stroke="#EDB120" stroke-width="2.9"/>
<path d="M974.30 786.50H1040.60" stroke="#7E2F8E" stroke-width="2.9"/>
<g font-family="Liberation Serif, serif" fill="#000" stroke="#fff" stroke-width="0.4"><text transform="translate(1044.82 696.3) scale(1.112 1)" font-size="26.52" font-style="italic">l</text><text transform="translate(1060.62 698.71) scale(1.385 1)" font-size="27.20" stroke="none">=</text><text transform="translate(1089.51 696.4) scale(0.984 1)" font-size="27.69">2</text><text transform="translate(1044.82 728.7) scale(1.112 1)" font-size="26.52" font-style="italic">l</text><text transform="translate(1060.62 731.11) scale(1.385 1)" font-size="27.20" stroke="none">=</text><text transform="translate(1088.96 728.53) scale(0.999 1)" font-size="27.27">5</text><text transform="translate(1044.82 761.1) scale(1.112 1)" font-size="26.52" font-style="italic">l</text><text transform="translate(1060.62 763.51) scale(1.385 1)" font-size="27.20" stroke="none">=</text><text transform="translate(1089.38 761) scale(0.996 1)" font-size="26.97">1</text><text transform="translate(1101.88 760.84) scale(1.012 1)" font-size="27.76">0</text><text transform="translate(1044.82 793.5) scale(1.112 1)" font-size="26.52" font-style="italic">l</text><text transform="translate(1060.62 795.91) scale(1.385 1)" font-size="27.20" stroke="none">=</text><text transform="translate(1089.38 793.4) scale(0.996 1)" font-size="26.97">1</text><text transform="translate(1101.23 793.52) scale(1.047 1)" font-size="28.18">5</text></g>
<rect x="1559.40" y="670.20" width="154.2" height="134.9" fill="#fff" stroke="#262626" stroke-width="1.1"/>
<path d="M1565.90 689.30H1632.20" stroke="#0072BD" stroke-width="2.9"/>
<path d="M1565.90 721.70H1632.20" stroke="#D95319" stroke-width="2.9"/>
<path d="M1565.90 754.10H1632.20" stroke="#EDB120" stroke-width="2.9"/>
<path d="M1565.90 786.50H1632.20" stroke="#7E2F8E" stroke-width="2.9"/>
<g font-family="Liberation Serif, serif" fill="#000" stroke="#fff" stroke-width="0.4"><text transform="translate(1636.43 696.3) scale(1.112 1)" font-size="26.52" font-style="italic">l</text><text transform="translate(1652.22 698.71) scale(1.385 1)" font-size="27.20" stroke="none">=</text><text transform="translate(1681.11 696.4) scale(0.984 1)" font-size="27.69">2</text><text transform="translate(1636.43 728.7) scale(1.112 1)" font-size="26.52" font-style="italic">l</text><text transform="translate(1652.22 731.11) scale(1.385 1)" font-size="27.20" stroke="none">=</text><text transform="translate(1680.57 728.53) scale(0.999 1)" font-size="27.27">5</text><text transform="translate(1636.43 761.1) scale(1.112 1)" font-size="26.52" font-style="italic">l</text><text transform="translate(1652.22 763.51) scale(1.385 1)" font-size="27.20" stroke="none">=</text><text transform="translate(1680.98 761) scale(0.996 1)" font-size="26.97">1</text><text transform="translate(1693.48 760.84) scale(1.012 1)" font-size="27.76">0</text><text transform="translate(1636.43 793.5) scale(1.112 1)" font-size="26.52" font-style="italic">l</text><text transform="translate(1652.22 795.91) scale(1.385 1)" font-size="27.20" stroke="none">=</text><text transform="translate(1680.98 793.4) scale(0.996 1)" font-size="26.97">1</text><text transform="translate(1692.83 793.52) scale(1.047 1)" font-size="28.18">5</text></g>
<g font-family="Liberation Serif, serif" fill="#000" stroke="#fff" stroke-width="0.4"><text transform="translate(831.12 30.5) scale(1.159 1)" font-size="39.58" font-style="italic">α</text>
<text transform="translate(867.68 33.22) scale(1.424 1)" font-size="39.60" stroke="none">=</text>
<text transform="translate(909.98 30.07) scale(0.979 1)" font-size="41.34">0</text>
<text transform="translate(929.61 29.8) scale(1.424 1)" font-size="30.00">.</text>
<text transform="translate(941.74 30.48) scale(0.920 1)" font-size="41.97">9</text>
<text transform="translate(293.1 86.9) scale(1.322 1)" font-size="34.04" font-style="italic">m</text>
<text transform="translate(333.44 89.77) scale(1.429 1)" font-size="34.40" stroke="none">=</text>
<text transform="translate(370.46 86.9) scale(0.983 1)" font-size="35.45">1</text>
<text transform="translate(884.1 86.9) scale(1.322 1)" font-size="34.04" font-style="italic">m</text>
<text transform="translate(925.89 89.64) scale(1.421 1)" font-size="34.00" stroke="none">=</text>
<text transform="translate(962.77 86.78) scale(0.997 1)" font-size="35.82">8</text>
<text transform="translate(1467.82 87) scale(1.308 1)" font-size="34.04" font-style="italic">m</text>
<text transform="translate(1509.56 89.64) scale(1.433 1)" font-size="34.00" stroke="none">=</text>
<text transform="translate(1546.54 87) scale(0.931 1)" font-size="35.30">1</text>
<text transform="translate(1564.01 87.04) scale(1.016 1)" font-size="35.91">5</text>
<text transform="translate(293.1 623.6) scale(1.322 1)" font-size="34.04" font-style="italic">m</text>
<text transform="translate(333.44 626.47) scale(1.429 1)" font-size="34.40" stroke="none">=</text>
<text transform="translate(370.46 623.6) scale(0.983 1)" font-size="35.45">1</text>
<text transform="translate(884.1 623.6) scale(1.322 1)" font-size="34.04" font-style="italic">m</text>
<text transform="translate(925.89 626.34) scale(1.421 1)" font-size="34.00" stroke="none">=</text>
<text transform="translate(962.77 623.48) scale(0.997 1)" font-size="35.82">8</text>
<text transform="translate(1467.82 623.7) scale(1.308 1)" font-size="34.04" font-style="italic">m</text>
<text transform="translate(1509.56 626.34) scale(1.433 1)" font-size="34.00" stroke="none">=</text>
<text transform="translate(1546.54 623.7) scale(0.931 1)" font-size="35.30">1</text>
<text transform="translate(1564.01 623.74) scale(1.016 1)" font-size="35.91">5</text>
<text transform="translate(334.27 559.11) scale(1.076 1)" font-size="38.95" font-style="italic">t</text>
<text transform="translate(925.47 559.11) scale(1.076 1)" font-size="38.95" font-style="italic">t</text>
<text transform="translate(1518.47 559.11) scale(1.076 1)" font-size="38.95" font-style="italic">t</text>
<text transform="translate(334.27 1096.01) scale(1.076 1)" font-size="38.95" font-style="italic">t</text>
<text transform="translate(925.47 1096.01) scale(1.076 1)" font-size="38.95" font-style="italic">t</text>
<text transform="translate(1518.47 1096.01) scale(1.076 1)" font-size="38.95" font-style="italic">t</text>
<text transform="rotate(-90) translate(-335.5 52.8) scale(1.139 1)" font-size="36.77" font-style="italic">I</text>
<text transform="rotate(-90) translate(-317.47 39.9) scale(1.210 1)" font-size="24.20" font-style="italic">h</text>
<text transform="rotate(-90) translate(-319.82 65.19) scale(0.918 1)" font-size="27.67">(</text>
<text transform="rotate(-90) translate(-310.97 64.5) scale(1.051 1)" font-size="24.35" font-style="italic">k</text>
<text transform="rotate(-90) translate(-296.06 64.4) scale(0.500 1)" font-size="28.00">,</text>
<text transform="rotate(-90) translate(-292.26 64.5) scale(1.330 1)" font-size="23.62" font-style="italic">m</text>
<text transform="rotate(-90) translate(-268.76 65.19) scale(0.792 1)" font-size="27.67">)</text>
<text transform="rotate(-90) translate(-868.8 27.6) scale(1.149 1)" font-size="36.92" font-style="italic">I</text>
<text transform="rotate(-90) translate(-851.71 14.69) scale(1.118 1)" font-size="21.25" font-style="italic">c</text>
<text transform="rotate(-90) translate(-853.98 39.73) scale(1.097 1)" font-size="27.00">(</text>
<text transform="rotate(-90) translate(-846.73 38.2) scale(1.428 1)" font-size="22.75" font-style="italic">l</text>
<text transform="rotate(-90) translate(-835.59 39.46) scale(0.531 1)" font-size="27.60">,</text>
<text transform="rotate(-90) translate(-831.12 38.2) scale(1.515 1)" font-size="20.21" font-style="italic">m</text>
<text transform="rotate(-90) translate(-808.37 39.73) scale(0.826 1)" font-size="27.00">)</text>
<text transform="rotate(-90) translate(-335.5 644) scale(1.139 1)" font-size="36.77" font-style="italic">I</text>
<text transform="rotate(-90) translate(-317.47 631.1) scale(1.210 1)" font-size="24.20" font-style="italic">h</text>
<text transform="rotate(-90) translate(-319.82 656.39) scale(0.918 1)" font-size="27.67">(</text>
<text transform="rotate(-90) translate(-310.97 655.7) scale(1.051 1)" font-size="24.35" font-style="italic">k</text>
<text transform="rotate(-90) translate(-296.06 655.6) scale(0.500 1)" font-size="28.00">,</text>
<text transform="rotate(-90) translate(-292.26 655.7) scale(1.330 1)" font-size="23.62" font-style="italic">m</text>
<text transform="rotate(-90) translate(-268.76 656.39) scale(0.792 1)" font-size="27.67">)</text>
<text transform="rotate(-90) translate(-868.8 618.8) scale(1.149 1)" font-size="36.92" font-style="italic">I</text>
<text transform="rotate(-90) translate(-851.71 605.89) scale(1.118 1)" font-size="21.25" font-style="italic">c</text>
<text transform="rotate(-90) translate(-853.98 630.93) scale(1.097 1)" font-size="27.00">(</text>
<text transform="rotate(-90) translate(-846.73 629.4) scale(1.428 1)" font-size="22.75" font-style="italic">l</text>
<text transform="rotate(-90) translate(-835.59 630.66) scale(0.531 1)" font-size="27.60">,</text>
<text transform="rotate(-90) translate(-831.12 629.4) scale(1.515 1)" font-size="20.21" font-style="italic">m</text>
<text transform="rotate(-90) translate(-808.37 630.93) scale(0.826 1)" font-size="27.00">)</text>
<text transform="rotate(-90) translate(-335.5 1237.1) scale(1.139 1)" font-size="36.77" font-style="italic">I</text>
<text transform="rotate(-90) translate(-317.47 1224.2) scale(1.210 1)" font-size="24.20" font-style="italic">h</text>
<text transform="rotate(-90) translate(-319.82 1249.49) scale(0.918 1)" font-size="27.67">(</text>
<text transform="rotate(-90) translate(-310.97 1248.8) scale(1.051 1)" font-size="24.35" font-style="italic">k</text>
<text transform="rotate(-90) translate(-296.06 1248.7) scale(0.500 1)" font-size="28.00">,</text>
<text transform="rotate(-90) translate(-292.26 1248.8) scale(1.330 1)" font-size="23.62" font-style="italic">m</text>
<text transform="rotate(-90) translate(-268.76 1249.49) scale(0.792 1)" font-size="27.67">)</text>
<text transform="rotate(-90) translate(-868.8 1211.9) scale(1.149 1)" font-size="36.92" font-style="italic">I</text>
<text transform="rotate(-90) translate(-851.71 1198.99) scale(1.118 1)" font-size="21.25" font-style="italic">c</text>
<text transform="rotate(-90) translate(-853.98 1224.03) scale(1.097 1)" font-size="27.00">(</text>
<text transform="rotate(-90) translate(-846.73 1222.5) scale(1.428 1)" font-size="22.75" font-style="italic">l</text>
<text transform="rotate(-90) translate(-835.59 1223.76) scale(0.531 1)" font-size="27.60">,</text>
<text transform="rotate(-90) translate(-831.12 1222.5) scale(1.515 1)" font-size="20.21" font-style="italic">m</text>
<text transform="rotate(-90) translate(-808.37 1224.03) scale(0.826 1)" font-size="27.00">)</text></g>
</svg>
</body></html>
